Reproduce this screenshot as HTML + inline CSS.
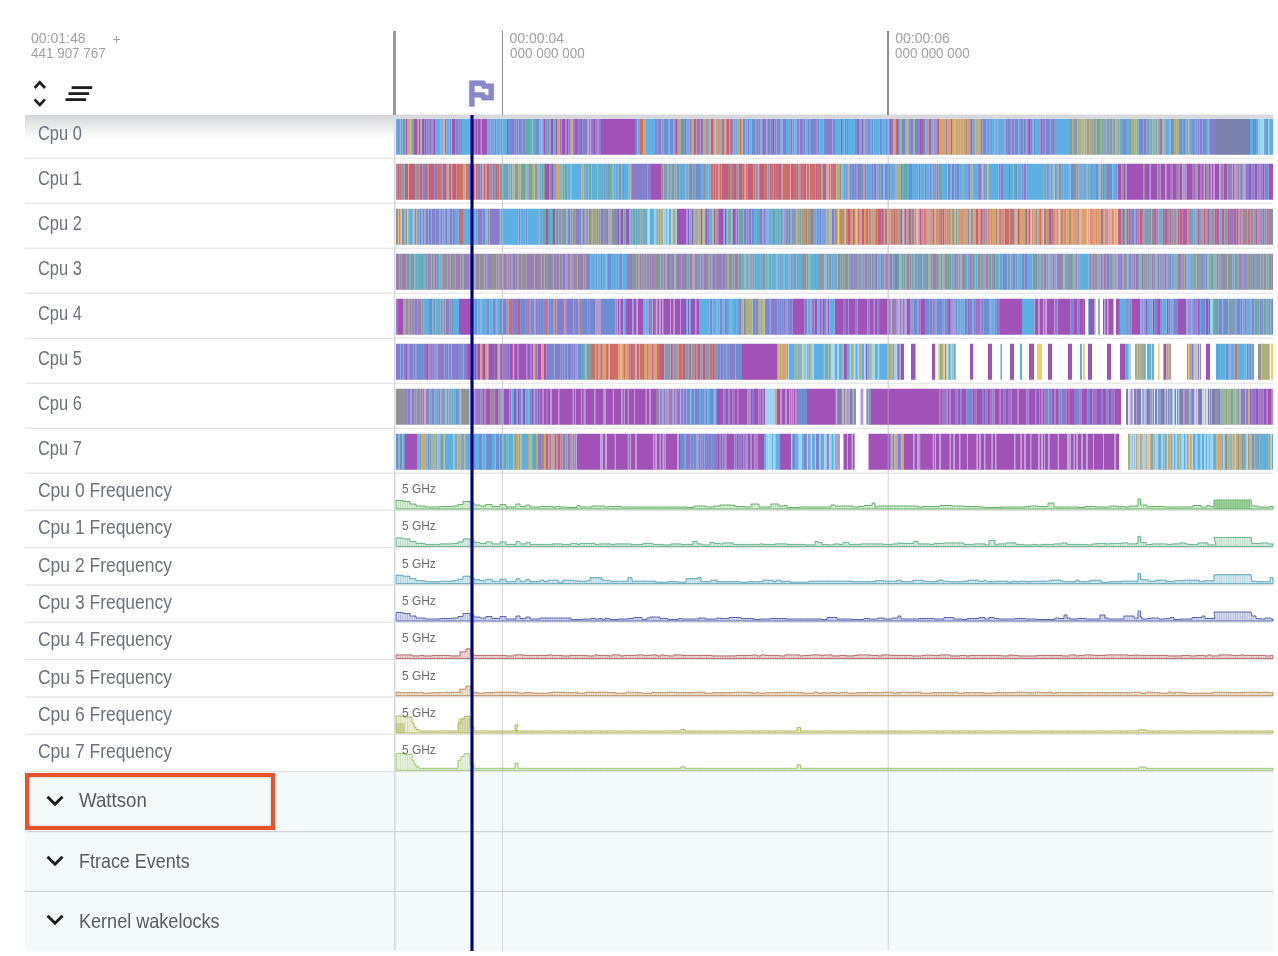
<!DOCTYPE html><html><head><meta charset="utf-8"><title>Perfetto</title><style>
*{margin:0;padding:0;box-sizing:border-box}
html,body{width:1278px;height:956px;overflow:hidden;background:#fff}
body{position:relative;font-family:"Liberation Sans",Arial,sans-serif}
.a{position:absolute}
.t{position:absolute;white-space:nowrap;line-height:1;transform-origin:0 0}
.hd{color:#a0a0a0;font-size:14px}
.tn{color:#6b727d;font-size:20.5px}
.gh{color:#6a6a6a;font-size:12.5px}
.gn{color:#555b63;font-size:21px}
.hl{position:absolute;height:1px;background:#dedede}
</style></head><body>
<div class="a" style="left:25px;top:771.5px;width:1248px;height:179.1px;background:#f4f9fa"></div>
<svg class="a" style="left:0;top:0" width="1278" height="956" viewBox="0 0 1278 956">
<rect x="502.0" y="114.5" width="1" height="836.1" fill="#d4d4d4"/>
<rect x="887.7" y="114.5" width="1" height="836.1" fill="#d4d4d4"/>
<rect x="25" y="157.7" width="1248" height="1" fill="#dedede"/>
<rect x="25" y="202.7" width="1248" height="1" fill="#dedede"/>
<rect x="25" y="247.7" width="1248" height="1" fill="#dedede"/>
<rect x="25" y="292.7" width="1248" height="1" fill="#dedede"/>
<rect x="25" y="337.7" width="1248" height="1" fill="#dedede"/>
<rect x="25" y="382.7" width="1248" height="1" fill="#dedede"/>
<rect x="25" y="427.7" width="1248" height="1" fill="#dedede"/>
<rect x="25" y="472.7" width="1248" height="1" fill="#dedede"/>
<rect x="25" y="509.8" width="1248" height="1" fill="#dedede"/>
<rect x="25" y="547.2" width="1248" height="1" fill="#dedede"/>
<rect x="25" y="584.5" width="1248" height="1" fill="#dedede"/>
<rect x="25" y="621.8" width="1248" height="1" fill="#dedede"/>
<rect x="25" y="659.1" width="1248" height="1" fill="#dedede"/>
<rect x="25" y="696.5" width="1248" height="1" fill="#dedede"/>
<rect x="25" y="733.8" width="1248" height="1" fill="#dedede"/>
<rect x="25" y="771.1" width="1248" height="1" fill="#dedede"/>
<rect x="25" y="831.2" width="1248" height="1" fill="#c9cccf"/>
<rect x="25" y="890.9" width="1248" height="1" fill="#c9cccf"/>
<defs><filter id="bl"><feGaussianBlur stdDeviation="0.8 0.4"/></filter></defs><g>
<path fill="#5cb0e2" d="M396 118.8h2v36h-2zM399 118.8h1.5v36h-1.5zM410.7 118.8h1v36h-1zM435 118.8h1.5v36h-1.5zM436.5 118.8h2v36h-2zM438.5 118.8h2v36h-2zM441.3 118.8h1v36h-1zM446.6 118.8h1.5v36h-1.5zM448.1 118.8h1.5v36h-1.5zM462 118.8h9v36h-9zM480.8 118.8h1v36h-1zM487.5 118.8h3v36h-3zM491 118.8h2.5v36h-2.5zM493.5 118.8h0.8v36h-0.8zM496.3 118.8h0.8v36h-0.8zM497.1 118.8h1v36h-1zM498.1 118.8h1.2v36h-1.2zM499.3 118.8h1.2v36h-1.2zM502 118.8h3v36h-3zM505.8 118.8h1.2v36h-1.2zM530 118.8h2.5v36h-2.5zM533 118.8h1v36h-1zM539.5 118.8h2v36h-2zM549 118.8h1.5v36h-1.5zM553 118.8h2.5v36h-2.5zM637.5 118.8h2.5v36h-2.5zM646 118.8h9v36h-9zM668.1 118.8h1.5v36h-1.5zM684 118.8h1v36h-1zM686.5 118.8h3v36h-3zM706.7 118.8h3v36h-3zM735.3 118.8h2.5v36h-2.5zM745.5 118.8h2v36h-2zM749.5 118.8h2v36h-2zM760.3 118.8h1.5v36h-1.5zM766.5 118.8h1.5v36h-1.5zM781.3 118.8h1.5v36h-1.5zM786 118.8h3v36h-3zM789 118.8h1.2v36h-1.2zM792.2 118.8h2.5v36h-2.5zM795.7 118.8h0.8v36h-0.8zM805.3 118.8h2v36h-2zM809.8 118.8h1.2v36h-1.2zM819.3 118.8h2v36h-2zM821.3 118.8h2.5v36h-2.5zM835 118.8h0.8v36h-0.8zM835.8 118.8h2.5v36h-2.5zM838.3 118.8h2.5v36h-2.5zM842 118.8h0.8v36h-0.8zM842.8 118.8h2v36h-2zM846 118.8h1v36h-1zM848 118.8h3v36h-3zM851 118.8h3v36h-3zM854 118.8h1v36h-1zM859.5 118.8h2v36h-2zM864.3 118.8h1.5v36h-1.5zM865.8 118.8h1v36h-1zM866.8 118.8h1.5v36h-1.5zM869.8 118.8h1.5v36h-1.5zM873.3 118.8h2.5v36h-2.5zM875.8 118.8h2v36h-2zM877.8 118.8h2v36h-2zM882.3 118.8h1.5v36h-1.5zM883.8 118.8h2v36h-2zM887.8 118.8h1.5v36h-1.5zM907.7 118.8h0.8v36h-0.8zM926.5 118.8h2v36h-2zM931.5 118.8h2v36h-2zM972.2 118.8h3v36h-3zM986.1 118.8h2v36h-2zM989.1 118.8h2v36h-2zM992.1 118.8h2.5v36h-2.5zM995.4 118.8h2v36h-2zM999.9 118.8h3v36h-3zM1002.9 118.8h1.5v36h-1.5zM1018.6 118.8h1.5v36h-1.5zM1026.6 118.8h1.5v36h-1.5zM1032.1 118.8h1.5v36h-1.5zM1035.9 118.8h1v36h-1zM1036.9 118.8h1.5v36h-1.5zM1038.4 118.8h2v36h-2zM1049.9 118.8h1v36h-1zM1055 118.8h15v36h-15zM1083.5 118.8h0.8v36h-0.8zM1116.4 118.8h1.2v36h-1.2zM1120 118.8h2v36h-2zM1126 118.8h3v36h-3zM1133 118.8h1.2v36h-1.2zM1136.7 118.8h2v36h-2zM1149.7 118.8h3v36h-3zM1155.2 118.8h2v36h-2zM1164.7 118.8h1v36h-1zM1166.9 118.8h1v36h-1zM1167.9 118.8h1.5v36h-1.5zM1175.1 118.8h1v36h-1zM1182.1 118.8h1v36h-1zM1186.3 118.8h2v36h-2zM1189.1 118.8h1.5v36h-1.5zM1190.6 118.8h1.5v36h-1.5zM1194.1 118.8h2v36h-2zM1199.1 118.8h0.8v36h-0.8zM1206.1 118.8h2.5v36h-2.5zM1250 118.8h1.2v36h-1.2zM1251.2 118.8h1v36h-1zM1252.2 118.8h0.8v36h-0.8zM1256 118.8h2v36h-2zM1259.2 118.8h1v36h-1zM1263.6 118.8h1v36h-1zM1264.6 118.8h1.5v36h-1.5zM1269.1 118.8h1.5v36h-1.5zM1270.6 118.8h1v36h-1zM1271.6 118.8h1.4v36h-1.4z"/>
<path fill="#6c8fd4" d="M398 118.8h1v36h-1zM402.5 118.8h2.5v36h-2.5zM440.5 118.8h0.8v36h-0.8zM442.3 118.8h1v36h-1zM444.8 118.8h0.8v36h-0.8zM445.6 118.8h1v36h-1zM449.6 118.8h2v36h-2zM455.2 118.8h2v36h-2zM460.2 118.8h1.8v36h-1.8zM494.3 118.8h2v36h-2zM500.5 118.8h1.5v36h-1.5zM505 118.8h0.8v36h-0.8zM508 118.8h3v36h-3zM514.2 118.8h1.2v36h-1.2zM515.4 118.8h1v36h-1zM518.4 118.8h3v36h-3zM522.4 118.8h2v36h-2zM524.4 118.8h1v36h-1zM536 118.8h2.5v36h-2.5zM538.5 118.8h1v36h-1zM545.3 118.8h2.5v36h-2.5zM565.3 118.8h1v36h-1zM568.3 118.8h2.5v36h-2.5zM572.8 118.8h1.5v36h-1.5zM635 118.8h2.5v36h-2.5zM655 118.8h2v36h-2zM658.8 118.8h2.5v36h-2.5zM663.6 118.8h1.5v36h-1.5zM665.1 118.8h3v36h-3zM669.6 118.8h1.5v36h-1.5zM671.1 118.8h1v36h-1zM672.1 118.8h1.5v36h-1.5zM677.2 118.8h0.8v36h-0.8zM681 118.8h3v36h-3zM699 118.8h1.5v36h-1.5zM725.5 118.8h0.8v36h-0.8zM732.1 118.8h1v36h-1zM734.1 118.8h1.2v36h-1.2zM743 118.8h2.5v36h-2.5zM751.5 118.8h2v36h-2zM753.5 118.8h1v36h-1zM754.5 118.8h1v36h-1zM756.3 118.8h2v36h-2zM770.7 118.8h0.8v36h-0.8zM771.5 118.8h1.5v36h-1.5zM776.5 118.8h2v36h-2zM778.5 118.8h1v36h-1zM779.5 118.8h0.8v36h-0.8zM796.5 118.8h1.5v36h-1.5zM798 118.8h1.5v36h-1.5zM803.8 118.8h1.5v36h-1.5zM813 118.8h2v36h-2zM815 118.8h1.5v36h-1.5zM817.3 118.8h2v36h-2zM823.8 118.8h1v36h-1zM824.8 118.8h1.2v36h-1.2zM832.5 118.8h0.8v36h-0.8zM833.3 118.8h1v36h-1zM834.3 118.8h0.7v36h-0.7zM844.8 118.8h1.2v36h-1.2zM847 118.8h1v36h-1zM855 118.8h3v36h-3zM871.3 118.8h1v36h-1zM872.3 118.8h1v36h-1zM879.8 118.8h2.5v36h-2.5zM885.8 118.8h2v36h-2zM898 118.8h1.2v36h-1.2zM901.2 118.8h2v36h-2zM903.2 118.8h2.5v36h-2.5zM909.7 118.8h0.8v36h-0.8zM910.5 118.8h2.5v36h-2.5zM918 118.8h2v36h-2zM924 118.8h1.5v36h-1.5zM933.5 118.8h1v36h-1zM935.3 118.8h1v36h-1zM982.6 118.8h2v36h-2zM984.6 118.8h1.5v36h-1.5zM994.6 118.8h0.8v36h-0.8zM998.4 118.8h1.5v36h-1.5zM1005.6 118.8h1.5v36h-1.5zM1010.1 118.8h1.5v36h-1.5zM1014.6 118.8h1.5v36h-1.5zM1016.1 118.8h1v36h-1zM1017.1 118.8h1.5v36h-1.5zM1020.1 118.8h1.5v36h-1.5zM1021.6 118.8h2v36h-2zM1025.1 118.8h1.5v36h-1.5zM1030.6 118.8h1.5v36h-1.5zM1033.6 118.8h1.5v36h-1.5zM1042.4 118.8h3v36h-3zM1050.9 118.8h1.2v36h-1.2zM1054.9 118.8h0.1v36h-0.1zM1103.3 118.8h1.5v36h-1.5zM1108.1 118.8h1.5v36h-1.5zM1115.6 118.8h0.8v36h-0.8zM1124 118.8h2v36h-2zM1138.7 118.8h2v36h-2zM1140.7 118.8h3v36h-3zM1165.7 118.8h1.2v36h-1.2zM1170.6 118.8h2.5v36h-2.5zM1173.1 118.8h0.8v36h-0.8zM1179.1 118.8h3v36h-3zM1183.1 118.8h2v36h-2zM1196.1 118.8h1.5v36h-1.5zM1202.4 118.8h2.5v36h-2.5zM1204.9 118.8h1.2v36h-1.2zM1253 118.8h3v36h-3zM1266.1 118.8h2v36h-2z"/>
<path fill="#68a9a0" d="M400.5 118.8h2v36h-2zM411.7 118.8h2v36h-2zM526 118.8h2v36h-2zM528 118.8h2v36h-2zM532.5 118.8h0.5v36h-0.5zM534 118.8h2v36h-2zM547.8 118.8h1.2v36h-1.2zM1091.3 118.8h0.8v36h-0.8zM1096.6 118.8h2v36h-2zM1098.6 118.8h1.5v36h-1.5zM1101.3 118.8h2v36h-2zM1119.6 118.8h0.4v36h-0.4z"/>
<path fill="#daa263" d="M405 118.8h1v36h-1zM407.2 118.8h2v36h-2zM409.2 118.8h1.5v36h-1.5zM443.3 118.8h1.5v36h-1.5zM451.6 118.8h0.4v36h-0.4zM541.5 118.8h0.8v36h-0.8zM557.5 118.8h2v36h-2zM570.8 118.8h2v36h-2zM643 118.8h3v36h-3zM709.7 118.8h1.2v36h-1.2zM714.4 118.8h1.2v36h-1.2zM724 118.8h1.5v36h-1.5zM741.3 118.8h1.5v36h-1.5zM893 118.8h2.5v36h-2.5zM939 118.8h2.5v36h-2.5zM941.5 118.8h3v36h-3zM944.5 118.8h1.2v36h-1.2zM947.2 118.8h1.5v36h-1.5zM948.7 118.8h1.5v36h-1.5zM950.2 118.8h0.8v36h-0.8zM952.2 118.8h2.5v36h-2.5zM955.7 118.8h1.5v36h-1.5zM957.2 118.8h1v36h-1zM960.2 118.8h1.5v36h-1.5zM961.7 118.8h1.5v36h-1.5zM975.2 118.8h1.5v36h-1.5zM976.7 118.8h1.2v36h-1.2zM977.9 118.8h0.8v36h-0.8z"/>
<path fill="#a152b7" d="M406 118.8h1.2v36h-1.2zM413.7 118.8h2v36h-2zM415.7 118.8h2v36h-2zM418.5 118.8h2v36h-2zM421.7 118.8h0.3v36h-0.3zM422 118.8h1v36h-1zM423 118.8h1v36h-1zM424.8 118.8h1.5v36h-1.5zM428.8 118.8h1v36h-1zM431.3 118.8h1.2v36h-1.2zM434 118.8h1v36h-1zM452 118.8h2v36h-2zM454 118.8h1.2v36h-1.2zM457.2 118.8h1v36h-1zM471 118.8h0.8v36h-0.8zM471.8 118.8h0.8v36h-0.8zM472.6 118.8h1.2v36h-1.2zM473.8 118.8h1v36h-1zM476 118.8h1v36h-1zM477.8 118.8h3v36h-3zM481.8 118.8h1.5v36h-1.5zM483.3 118.8h1.2v36h-1.2zM484.5 118.8h3v36h-3zM490.5 118.8h0.5v36h-0.5zM507 118.8h1v36h-1zM521.4 118.8h1v36h-1zM525.4 118.8h0.6v36h-0.6zM543.3 118.8h2v36h-2zM550.5 118.8h2.5v36h-2.5zM555.5 118.8h2v36h-2zM561.5 118.8h3v36h-3zM564.5 118.8h0.8v36h-0.8zM566.3 118.8h2v36h-2zM574.3 118.8h1v36h-1zM575.3 118.8h1.7v36h-1.7zM581 118.8h1.2v36h-1.2zM593.1 118.8h2v36h-2zM597.6 118.8h1v36h-1zM601 118.8h34v36h-34zM657.8 118.8h1v36h-1zM676 118.8h1.2v36h-1.2zM755.5 118.8h0.8v36h-0.8zM762.8 118.8h1.2v36h-1.2zM773 118.8h1.5v36h-1.5zM802 118.8h0.8v36h-0.8zM816.5 118.8h0.8v36h-0.8zM840.8 118.8h1.2v36h-1.2zM858 118.8h1.5v36h-1.5zM861.5 118.8h2v36h-2zM868.3 118.8h1.5v36h-1.5zM889.3 118.8h0.7v36h-0.7zM890 118.8h1v36h-1zM920 118.8h1v36h-1zM934.5 118.8h0.8v36h-0.8zM1028.1 118.8h2.5v36h-2.5zM1040.4 118.8h2v36h-2z"/>
<path fill="#b2ae7a" d="M417.7 118.8h0.8v36h-0.8zM420.5 118.8h1.2v36h-1.2zM678 118.8h3v36h-3zM691 118.8h2.5v36h-2.5zM703 118.8h1v36h-1zM704 118.8h1.5v36h-1.5zM715.6 118.8h1.2v36h-1.2zM716.8 118.8h1.5v36h-1.5zM719.5 118.8h2.5v36h-2.5zM729.3 118.8h0.8v36h-0.8zM733.1 118.8h1v36h-1zM737.8 118.8h2v36h-2zM742.8 118.8h0.2v36h-0.2zM900.2 118.8h1v36h-1zM905.7 118.8h2v36h-2zM913 118.8h2v36h-2zM954.7 118.8h1v36h-1zM958.2 118.8h2v36h-2zM963.2 118.8h3v36h-3zM967.2 118.8h3v36h-3zM979.5 118.8h1.5v36h-1.5zM1072 118.8h1.2v36h-1.2zM1077.2 118.8h3v36h-3zM1080.2 118.8h1.5v36h-1.5zM1084.3 118.8h2.5v36h-2.5zM1131 118.8h2v36h-2zM1134.2 118.8h2.5v36h-2.5zM1152.7 118.8h2.5v36h-2.5zM1157.2 118.8h2v36h-2zM1162.2 118.8h1.5v36h-1.5zM1173.9 118.8h1.2v36h-1.2zM1176.1 118.8h3v36h-3zM1188.3 118.8h0.8v36h-0.8z"/>
<path fill="#8a7ccc" d="M424 118.8h0.8v36h-0.8zM426.3 118.8h2.5v36h-2.5zM429.8 118.8h1.5v36h-1.5zM432.5 118.8h1.5v36h-1.5zM458.2 118.8h2v36h-2zM474.8 118.8h1.2v36h-1.2zM477 118.8h0.8v36h-0.8zM511 118.8h2v36h-2zM513 118.8h1.2v36h-1.2zM516.4 118.8h2v36h-2zM542.3 118.8h1v36h-1zM559.5 118.8h2v36h-2zM577 118.8h1.2v36h-1.2zM578.2 118.8h0.8v36h-0.8zM579 118.8h2v36h-2zM582.2 118.8h1v36h-1zM583.2 118.8h2.5v36h-2.5zM585.7 118.8h2v36h-2zM588.5 118.8h1.5v36h-1.5zM590.8 118.8h1.5v36h-1.5zM592.3 118.8h0.8v36h-0.8zM595.1 118.8h1v36h-1zM596.1 118.8h1.5v36h-1.5zM598.6 118.8h1.5v36h-1.5zM600.1 118.8h0.9v36h-0.9zM662.1 118.8h1.5v36h-1.5zM673.6 118.8h1.2v36h-1.2zM689.5 118.8h1.5v36h-1.5zM696.5 118.8h1.5v36h-1.5zM698 118.8h1v36h-1zM702 118.8h1v36h-1zM713.4 118.8h1v36h-1zM722 118.8h2v36h-2zM747.5 118.8h2v36h-2zM758.3 118.8h2v36h-2zM761.8 118.8h1v36h-1zM764 118.8h2.5v36h-2.5zM768 118.8h1.2v36h-1.2zM769.2 118.8h1.5v36h-1.5zM774.5 118.8h2v36h-2zM780.3 118.8h1v36h-1zM782.8 118.8h1.2v36h-1.2zM784 118.8h2v36h-2zM790.2 118.8h2v36h-2zM794.7 118.8h1v36h-1zM799.5 118.8h2.5v36h-2.5zM802.8 118.8h1v36h-1zM807.3 118.8h2.5v36h-2.5zM811 118.8h2v36h-2zM826 118.8h2v36h-2zM828 118.8h2.5v36h-2.5zM830.5 118.8h2v36h-2zM891 118.8h2v36h-2zM899.2 118.8h1v36h-1zM915 118.8h3v36h-3zM923 118.8h1v36h-1zM925.5 118.8h1v36h-1zM936.3 118.8h1.7v36h-1.7zM945.7 118.8h1.5v36h-1.5zM978.7 118.8h0.8v36h-0.8zM981 118.8h0.8v36h-0.8zM981.8 118.8h0.8v36h-0.8zM988.1 118.8h1v36h-1zM991.1 118.8h1v36h-1zM997.4 118.8h1v36h-1zM1004.4 118.8h1.2v36h-1.2zM1007.1 118.8h3v36h-3zM1011.6 118.8h3v36h-3zM1023.6 118.8h1.5v36h-1.5zM1035.1 118.8h0.8v36h-0.8zM1045.4 118.8h1.5v36h-1.5zM1046.9 118.8h1v36h-1zM1047.9 118.8h2v36h-2zM1052.1 118.8h0.8v36h-0.8zM1052.9 118.8h2v36h-2zM1143.7 118.8h2.5v36h-2.5zM1159.2 118.8h3v36h-3zM1192.1 118.8h2v36h-2zM1197.6 118.8h1.5v36h-1.5zM1199.9 118.8h2.5v36h-2.5zM1210 118.8h6v36h-6z"/>
<path fill="#b49ad4" d="M587.7 118.8h0.8v36h-0.8zM590 118.8h0.8v36h-0.8z"/>
<path fill="#cd6f69" d="M640 118.8h3v36h-3zM863.5 118.8h0.8v36h-0.8z"/>
<path fill="#929292" d="M657 118.8h0.8v36h-0.8zM661.3 118.8h0.8v36h-0.8zM674.8 118.8h1.2v36h-1.2z"/>
<path fill="#c0607e" d="M685 118.8h1.5v36h-1.5zM693.5 118.8h3v36h-3zM700.5 118.8h1.5v36h-1.5zM705.5 118.8h1.2v36h-1.2zM710.9 118.8h2.5v36h-2.5zM718.3 118.8h1.2v36h-1.2zM726.3 118.8h2v36h-2zM728.3 118.8h1v36h-1zM730.1 118.8h2v36h-2zM739.8 118.8h1.5v36h-1.5zM895.5 118.8h2.5v36h-2.5zM908.5 118.8h1.2v36h-1.2zM921 118.8h2v36h-2zM928.5 118.8h3v36h-3zM938 118.8h1v36h-1zM951 118.8h1.2v36h-1.2zM966.2 118.8h1v36h-1zM970.2 118.8h2v36h-2z"/>
<path fill="#7f9cb4" d="M1070 118.8h2v36h-2zM1073.2 118.8h2.5v36h-2.5zM1075.7 118.8h1.5v36h-1.5zM1081.7 118.8h1v36h-1zM1089.3 118.8h0.8v36h-0.8zM1092.1 118.8h1v36h-1zM1095.1 118.8h1.5v36h-1.5zM1106.6 118.8h1.5v36h-1.5zM1109.6 118.8h3v36h-3zM1122 118.8h1v36h-1zM1123 118.8h1v36h-1zM1129 118.8h2v36h-2zM1146.2 118.8h2v36h-2zM1148.2 118.8h1.5v36h-1.5zM1163.7 118.8h1v36h-1zM1169.4 118.8h1.2v36h-1.2zM1185.1 118.8h1.2v36h-1.2zM1208.6 118.8h1.4v36h-1.4z"/>
<path fill="#a0a07c" d="M1082.7 118.8h0.8v36h-0.8zM1086.8 118.8h2.5v36h-2.5zM1090.1 118.8h1.2v36h-1.2zM1093.1 118.8h2v36h-2zM1100.1 118.8h1.2v36h-1.2zM1104.8 118.8h1v36h-1zM1105.8 118.8h0.8v36h-0.8zM1112.6 118.8h3v36h-3zM1117.6 118.8h2v36h-2z"/>
<path fill="#7a80ac" d="M1216 118.8h34v36h-34z"/>
<path fill="#9fd4f0" d="M1258 118.8h1.2v36h-1.2zM1260.2 118.8h1v36h-1zM1261.2 118.8h1.2v36h-1.2zM1262.4 118.8h1.2v36h-1.2zM1268.1 118.8h1v36h-1z"/>
<path fill="#c0607e" d="M396 163.8h0.8v36h-0.8zM397.8 163.8h2v36h-2zM404.8 163.8h2v36h-2zM406.8 163.8h1.2v36h-1.2zM408.8 163.8h3v36h-3zM411.8 163.8h2.5v36h-2.5zM414.3 163.8h0.8v36h-0.8zM417.1 163.8h1v36h-1zM419.6 163.8h3v36h-3zM425.1 163.8h2v36h-2zM428.6 163.8h1v36h-1zM429.6 163.8h3v36h-3zM432.6 163.8h1.5v36h-1.5zM435.1 163.8h2v36h-2zM440.1 163.8h1v36h-1zM442.6 163.8h1.2v36h-1.2zM443.8 163.8h3v36h-3zM449.1 163.8h2v36h-2zM452.1 163.8h1.5v36h-1.5zM453.6 163.8h1v36h-1zM454.6 163.8h2v36h-2zM459.1 163.8h1v36h-1zM469.1 163.8h1.5v36h-1.5zM470.6 163.8h0.4v36h-0.4zM471.8 163.8h1.5v36h-1.5zM473.3 163.8h1.5v36h-1.5zM480.5 163.8h2v36h-2zM483.3 163.8h2v36h-2zM486.5 163.8h2.5v36h-2.5zM489.8 163.8h1v36h-1zM496 163.8h1v36h-1zM713.5 163.8h2v36h-2zM721.7 163.8h3v36h-3zM724.7 163.8h2.5v36h-2.5zM727.2 163.8h0.8v36h-0.8zM734 163.8h0.8v36h-0.8zM734.8 163.8h2v36h-2zM738.8 163.8h1v36h-1zM739.8 163.8h1.5v36h-1.5zM741.3 163.8h1.5v36h-1.5zM747.8 163.8h3v36h-3zM750.8 163.8h0.8v36h-0.8zM751.6 163.8h2v36h-2zM759.1 163.8h1v36h-1zM760.1 163.8h3v36h-3zM763.1 163.8h1v36h-1zM769.6 163.8h1.5v36h-1.5zM773.6 163.8h1.5v36h-1.5zM778.1 163.8h1v36h-1zM779.1 163.8h2.5v36h-2.5zM790.9 163.8h3v36h-3zM796.9 163.8h1.5v36h-1.5zM799.9 163.8h0.8v36h-0.8zM803.2 163.8h3v36h-3zM809.8 163.8h2v36h-2zM815.8 163.8h2v36h-2zM822.8 163.8h2v36h-2zM824.8 163.8h0.8v36h-0.8zM825.6 163.8h1v36h-1zM832 163.8h0.8v36h-0.8z"/>
<path fill="#6c8fd4" d="M396.8 163.8h1v36h-1zM422.6 163.8h2.5v36h-2.5zM434.1 163.8h1v36h-1zM441.1 163.8h1.5v36h-1.5zM467.1 163.8h2v36h-2zM478 163.8h2.5v36h-2.5zM618.5 163.8h1.5v36h-1.5zM642 163.8h2v36h-2zM647.2 163.8h0.8v36h-0.8zM689.1 163.8h3v36h-3zM692.9 163.8h1v36h-1zM695.9 163.8h2v36h-2zM697.9 163.8h3v36h-3zM708.6 163.8h1.2v36h-1.2zM835 163.8h1.2v36h-1.2zM842.7 163.8h1v36h-1zM847.7 163.8h0.8v36h-0.8zM850 163.8h1v36h-1zM851.8 163.8h3v36h-3zM860 163.8h1v36h-1zM863.3 163.8h1.2v36h-1.2zM880.3 163.8h3v36h-3zM884.5 163.8h2.5v36h-2.5zM887 163.8h2v36h-2zM901 163.8h1v36h-1zM909 163.8h3v36h-3zM924.8 163.8h2v36h-2zM929.8 163.8h1.5v36h-1.5zM947.6 163.8h2.5v36h-2.5zM956.1 163.8h3v36h-3zM998.7 163.8h2v36h-2zM1016 163.8h1.2v36h-1.2zM1056.2 163.8h1.5v36h-1.5zM1061.7 163.8h1.2v36h-1.2zM1070.5 163.8h2.5v36h-2.5zM1079.3 163.8h1.5v36h-1.5zM1082.3 163.8h1.5v36h-1.5zM1089.3 163.8h1.5v36h-1.5zM1096 163.8h1v36h-1zM1097 163.8h1.5v36h-1.5zM1102.5 163.8h1.5v36h-1.5zM1107 163.8h2.5v36h-2.5zM1109.5 163.8h3v36h-3zM1116 163.8h1.5v36h-1.5zM1242.2 163.8h1.5v36h-1.5zM1251.5 163.8h2v36h-2zM1253.5 163.8h1v36h-1zM1264.3 163.8h2.5v36h-2.5zM1266.8 163.8h2v36h-2z"/>
<path fill="#cd6f69" d="M399.8 163.8h2v36h-2zM418.1 163.8h1.5v36h-1.5zM427.1 163.8h1.5v36h-1.5zM437.1 163.8h3v36h-3zM456.6 163.8h2.5v36h-2.5zM460.1 163.8h3v36h-3zM465.6 163.8h1.5v36h-1.5zM475.8 163.8h1.2v36h-1.2zM489 163.8h0.8v36h-0.8zM492.8 163.8h1.2v36h-1.2zM498 163.8h1.5v36h-1.5zM711 163.8h2.5v36h-2.5zM715.5 163.8h2.5v36h-2.5zM719.2 163.8h2.5v36h-2.5zM728 163.8h2v36h-2zM732 163.8h2v36h-2zM742.8 163.8h1v36h-1zM743.8 163.8h1v36h-1zM745.8 163.8h2v36h-2zM753.6 163.8h2v36h-2zM764.1 163.8h1v36h-1zM765.1 163.8h2.5v36h-2.5zM771.1 163.8h2.5v36h-2.5zM775.1 163.8h3v36h-3zM782.4 163.8h3v36h-3zM785.4 163.8h2v36h-2zM787.4 163.8h1.5v36h-1.5zM788.9 163.8h1.2v36h-1.2zM793.9 163.8h1.5v36h-1.5zM795.4 163.8h1.5v36h-1.5zM800.7 163.8h2.5v36h-2.5zM807 163.8h2v36h-2zM811.8 163.8h2v36h-2zM813.8 163.8h2v36h-2zM817.8 163.8h2v36h-2zM819.8 163.8h1.5v36h-1.5zM828.8 163.8h1.2v36h-1.2zM830.8 163.8h1.2v36h-1.2zM832.8 163.8h2.2v36h-2.2z"/>
<path fill="#7f9cb4" d="M401.8 163.8h3v36h-3zM415.1 163.8h2v36h-2zM448.3 163.8h0.8v36h-0.8zM477 163.8h1v36h-1zM490.8 163.8h2v36h-2zM494 163.8h2v36h-2zM505 163.8h2v36h-2zM510.5 163.8h2v36h-2zM514.5 163.8h1.2v36h-1.2zM515.7 163.8h2.5v36h-2.5zM525.2 163.8h1.5v36h-1.5zM528.2 163.8h0.8v36h-0.8zM534.5 163.8h1.5v36h-1.5zM537.5 163.8h1v36h-1zM562.7 163.8h2v36h-2zM570.7 163.8h0.8v36h-0.8zM585.2 163.8h0.8v36h-0.8zM587 163.8h1.5v36h-1.5zM603.9 163.8h2v36h-2zM610.1 163.8h1v36h-1zM612.6 163.8h1v36h-1zM663.5 163.8h3v36h-3zM666.5 163.8h1v36h-1zM668.7 163.8h1.5v36h-1.5zM679.2 163.8h0.8v36h-0.8zM681 163.8h1v36h-1zM688.3 163.8h0.8v36h-0.8zM693.9 163.8h2v36h-2zM705.1 163.8h1v36h-1zM730 163.8h2v36h-2zM736.8 163.8h1v36h-1zM737.8 163.8h1v36h-1zM755.6 163.8h2.5v36h-2.5zM767.6 163.8h2v36h-2zM781.6 163.8h0.8v36h-0.8zM798.4 163.8h1.5v36h-1.5zM821.3 163.8h1.5v36h-1.5z"/>
<path fill="#daa263" d="M408 163.8h0.8v36h-0.8zM446.8 163.8h1.5v36h-1.5zM451.1 163.8h1v36h-1zM463.1 163.8h2.5v36h-2.5zM556 163.8h3v36h-3zM559 163.8h1.2v36h-1.2zM581.7 163.8h2v36h-2zM615 163.8h1v36h-1zM628.8 163.8h2v36h-2z"/>
<path fill="#e0a0a0" d="M471 163.8h0.8v36h-0.8zM474.8 163.8h1v36h-1zM482.5 163.8h0.8v36h-0.8zM718 163.8h1.2v36h-1.2zM744.8 163.8h1v36h-1zM758.1 163.8h1v36h-1zM790.1 163.8h0.8v36h-0.8zM806.2 163.8h0.8v36h-0.8zM809 163.8h0.8v36h-0.8zM826.6 163.8h1v36h-1zM827.6 163.8h1.2v36h-1.2zM830 163.8h0.8v36h-0.8z"/>
<path fill="#929292" d="M485.3 163.8h1.2v36h-1.2zM497 163.8h1v36h-1zM499.5 163.8h2.5v36h-2.5zM507 163.8h1.5v36h-1.5zM536 163.8h1.5v36h-1.5zM538.5 163.8h0.8v36h-0.8zM543.8 163.8h1.2v36h-1.2zM549.2 163.8h2v36h-2zM620 163.8h1.5v36h-1.5zM623 163.8h1v36h-1zM661 163.8h2.5v36h-2.5zM667.5 163.8h1.2v36h-1.2zM671.2 163.8h2v36h-2zM673.2 163.8h1.5v36h-1.5zM676.7 163.8h2.5v36h-2.5zM685.8 163.8h1v36h-1zM692.1 163.8h0.8v36h-0.8zM700.9 163.8h1v36h-1zM703.1 163.8h2v36h-2zM709.8 163.8h1v36h-1zM837.2 163.8h0.8v36h-0.8zM840 163.8h1.5v36h-1.5zM861 163.8h0.8v36h-0.8zM861.8 163.8h1.5v36h-1.5zM866.5 163.8h1.5v36h-1.5zM878.3 163.8h2v36h-2zM1055 163.8h1.2v36h-1.2zM1058.7 163.8h3v36h-3zM1062.9 163.8h0.8v36h-0.8zM1068.9 163.8h0.8v36h-0.8zM1073 163.8h0.8v36h-0.8zM1073.8 163.8h3v36h-3zM1078.3 163.8h1v36h-1zM1086.3 163.8h1v36h-1zM1090.8 163.8h1.2v36h-1.2zM1098.5 163.8h1v36h-1zM1100.5 163.8h2v36h-2zM1106 163.8h1v36h-1zM1121.3 163.8h2v36h-2zM1143.5 163.8h1.5v36h-1.5zM1176.8 163.8h3v36h-3zM1185.1 163.8h1.5v36h-1.5zM1206.1 163.8h2.5v36h-2.5zM1222 163.8h1.5v36h-1.5zM1239.4 163.8h1.5v36h-1.5z"/>
<path fill="#5cb0e2" d="M502 163.8h2v36h-2zM508.5 163.8h2v36h-2zM539.3 163.8h2.5v36h-2.5zM553 163.8h3v36h-3zM561.7 163.8h1v36h-1zM567.7 163.8h1v36h-1zM568.7 163.8h2v36h-2zM571.5 163.8h1v36h-1zM572.5 163.8h1.2v36h-1.2zM573.7 163.8h1.5v36h-1.5zM575.2 163.8h1v36h-1zM576.2 163.8h1.5v36h-1.5zM577.7 163.8h1.5v36h-1.5zM579.2 163.8h2.5v36h-2.5zM583.7 163.8h1.5v36h-1.5zM586 163.8h1v36h-1zM591.5 163.8h2.5v36h-2.5zM594 163.8h1.2v36h-1.2zM595.2 163.8h2.5v36h-2.5zM598.9 163.8h3v36h-3zM601.9 163.8h2v36h-2zM605.9 163.8h1.2v36h-1.2zM613.6 163.8h1.4v36h-1.4zM616 163.8h2.5v36h-2.5zM621.5 163.8h1.5v36h-1.5zM624 163.8h2v36h-2zM626 163.8h0.8v36h-0.8zM626.8 163.8h2v36h-2zM630.8 163.8h1v36h-1zM631.8 163.8h0.2v36h-0.2zM670.2 163.8h1v36h-1zM674.7 163.8h2v36h-2zM680 163.8h1v36h-1zM682 163.8h0.8v36h-0.8zM682.8 163.8h3v36h-3zM686.8 163.8h1.5v36h-1.5zM701.9 163.8h1.2v36h-1.2zM706.1 163.8h1v36h-1zM707.1 163.8h1.5v36h-1.5zM710.8 163.8h0.2v36h-0.2zM841.5 163.8h1.2v36h-1.2zM843.7 163.8h2.5v36h-2.5zM856.8 163.8h1.2v36h-1.2zM868 163.8h2.5v36h-2.5zM870.5 163.8h1.5v36h-1.5zM873 163.8h0.8v36h-0.8zM876.3 163.8h2v36h-2zM883.3 163.8h1.2v36h-1.2zM890.2 163.8h0.8v36h-0.8zM891 163.8h2.5v36h-2.5zM893.5 163.8h0.8v36h-0.8zM895.3 163.8h1.5v36h-1.5zM902 163.8h1v36h-1zM903 163.8h1v36h-1zM907 163.8h2v36h-2zM912 163.8h1.2v36h-1.2zM913.2 163.8h1v36h-1zM914.2 163.8h1.5v36h-1.5zM915.7 163.8h3v36h-3zM920.2 163.8h3v36h-3zM924 163.8h0.8v36h-0.8zM926.8 163.8h2v36h-2zM928.8 163.8h1v36h-1zM932.3 163.8h0.8v36h-0.8zM942.1 163.8h1v36h-1zM943.1 163.8h1.5v36h-1.5zM944.6 163.8h3v36h-3zM950.1 163.8h1.5v36h-1.5zM954.1 163.8h0.8v36h-0.8zM959.1 163.8h2v36h-2zM963.6 163.8h2.5v36h-2.5zM966.1 163.8h2v36h-2zM972.3 163.8h3v36h-3zM975.3 163.8h0.8v36h-0.8zM976.1 163.8h2v36h-2zM981.1 163.8h1.5v36h-1.5zM984.9 163.8h2.5v36h-2.5zM988.9 163.8h3v36h-3zM991.9 163.8h1.5v36h-1.5zM993.4 163.8h2v36h-2zM995.4 163.8h0.8v36h-0.8zM996.2 163.8h2.5v36h-2.5zM1003 163.8h2v36h-2zM1005 163.8h1v36h-1zM1006 163.8h3v36h-3zM1010 163.8h1v36h-1zM1011 163.8h2.5v36h-2.5zM1017.2 163.8h1.5v36h-1.5zM1018.7 163.8h1.5v36h-1.5zM1020.2 163.8h1.2v36h-1.2zM1022.9 163.8h1v36h-1zM1026.4 163.8h3v36h-3zM1029.4 163.8h1.5v36h-1.5zM1030.9 163.8h3v36h-3zM1033.9 163.8h1.5v36h-1.5zM1035.4 163.8h3v36h-3zM1038.4 163.8h1.5v36h-1.5zM1039.9 163.8h2.5v36h-2.5zM1042.4 163.8h1.5v36h-1.5zM1044.9 163.8h1.5v36h-1.5zM1047.9 163.8h1.5v36h-1.5zM1052.2 163.8h1v36h-1zM1054.4 163.8h0.6v36h-0.6zM1057.7 163.8h1v36h-1zM1063.7 163.8h1.5v36h-1.5zM1065.2 163.8h2.5v36h-2.5zM1067.7 163.8h1.2v36h-1.2zM1069.7 163.8h0.8v36h-0.8zM1076.8 163.8h1.5v36h-1.5zM1080.8 163.8h1.5v36h-1.5zM1083.8 163.8h2.5v36h-2.5zM1087.3 163.8h2v36h-2zM1092 163.8h3v36h-3zM1095 163.8h1v36h-1zM1099.5 163.8h1v36h-1zM1104 163.8h2v36h-2zM1112.5 163.8h1.2v36h-1.2zM1113.7 163.8h1.5v36h-1.5zM1115.2 163.8h0.8v36h-0.8zM1117.5 163.8h0.5v36h-0.5z"/>
<path fill="#68a9a0" d="M504 163.8h1v36h-1zM520.7 163.8h2v36h-2zM522.7 163.8h2.5v36h-2.5zM529 163.8h3v36h-3zM541.8 163.8h2v36h-2zM560.2 163.8h1.5v36h-1.5zM564.7 163.8h3v36h-3zM588.5 163.8h3v36h-3zM597.7 163.8h1.2v36h-1.2zM607.1 163.8h3v36h-3zM611.1 163.8h1.5v36h-1.5zM904 163.8h3v36h-3zM934.6 163.8h2v36h-2zM938.6 163.8h2.5v36h-2.5zM954.9 163.8h1.2v36h-1.2zM961.1 163.8h1.5v36h-1.5zM1013.5 163.8h2.5v36h-2.5zM1043.9 163.8h1v36h-1zM1050.4 163.8h0.8v36h-0.8z"/>
<path fill="#b2ae7a" d="M512.5 163.8h1v36h-1zM513.5 163.8h1v36h-1zM518.2 163.8h2.5v36h-2.5zM526.7 163.8h1.5v36h-1.5zM532 163.8h2.5v36h-2.5zM836.2 163.8h1v36h-1zM838 163.8h2v36h-2zM848.5 163.8h1.5v36h-1.5zM896.8 163.8h1.2v36h-1.2zM898 163.8h3v36h-3zM970.3 163.8h2v36h-2zM982.6 163.8h0.8v36h-0.8zM987.4 163.8h1.5v36h-1.5zM1053.2 163.8h1.2v36h-1.2z"/>
<path fill="#a152b7" d="M545 163.8h3v36h-3zM548 163.8h1.2v36h-1.2zM551.2 163.8h1.8v36h-1.8zM651 163.8h10v36h-10zM1118 163.8h2.5v36h-2.5zM1120.5 163.8h0.8v36h-0.8zM1123.3 163.8h1v36h-1zM1124.3 163.8h1.5v36h-1.5zM1127 163.8h1v36h-1zM1128 163.8h2v36h-2zM1130 163.8h1v36h-1zM1131 163.8h2v36h-2zM1133 163.8h2v36h-2zM1135 163.8h2.5v36h-2.5zM1137.5 163.8h1v36h-1zM1138.5 163.8h2v36h-2zM1140.5 163.8h3v36h-3zM1145 163.8h2v36h-2zM1147 163.8h0.8v36h-0.8zM1147.8 163.8h2v36h-2zM1151 163.8h1.5v36h-1.5zM1152.5 163.8h1.5v36h-1.5zM1154 163.8h2.5v36h-2.5zM1156.5 163.8h1v36h-1zM1160.5 163.8h3v36h-3zM1163.5 163.8h2v36h-2zM1166.3 163.8h1.5v36h-1.5zM1167.8 163.8h3v36h-3zM1172.3 163.8h1v36h-1zM1173.3 163.8h1.5v36h-1.5zM1174.8 163.8h2v36h-2zM1179.8 163.8h2.5v36h-2.5zM1186.6 163.8h2.5v36h-2.5zM1189.1 163.8h2.5v36h-2.5zM1191.6 163.8h1.2v36h-1.2zM1195.3 163.8h1v36h-1zM1197.8 163.8h3v36h-3zM1201.8 163.8h2v36h-2zM1204.6 163.8h1.5v36h-1.5zM1208.6 163.8h1.2v36h-1.2zM1209.8 163.8h1v36h-1zM1211.6 163.8h2v36h-2zM1214.4 163.8h1.5v36h-1.5zM1215.9 163.8h0.8v36h-0.8zM1216.7 163.8h1.5v36h-1.5zM1218.2 163.8h1v36h-1zM1223.5 163.8h1v36h-1zM1224.5 163.8h3v36h-3zM1232.8 163.8h1v36h-1zM1233.8 163.8h0.8v36h-0.8zM1236.4 163.8h1v36h-1zM1240.9 163.8h0.1v36h-0.1zM1244.7 163.8h0.8v36h-0.8zM1249 163.8h2.5v36h-2.5zM1254.5 163.8h3v36h-3zM1259.5 163.8h0.8v36h-0.8zM1262.3 163.8h2v36h-2zM1268.8 163.8h2v36h-2zM1270.8 163.8h2.2v36h-2.2z"/>
<path fill="#8a7ccc" d="M632 163.8h3v36h-3zM635 163.8h2v36h-2zM637 163.8h2v36h-2zM639 163.8h3v36h-3zM644 163.8h2v36h-2zM646 163.8h1.2v36h-1.2zM648 163.8h2v36h-2zM650 163.8h1v36h-1zM846.2 163.8h1.5v36h-1.5zM851 163.8h0.8v36h-0.8zM854.8 163.8h2v36h-2zM858 163.8h2v36h-2zM864.5 163.8h2v36h-2zM872 163.8h1v36h-1zM873.8 163.8h2.5v36h-2.5zM889 163.8h1.2v36h-1.2zM894.3 163.8h1v36h-1zM918.7 163.8h1.5v36h-1.5zM923.2 163.8h0.8v36h-0.8zM931.3 163.8h1v36h-1zM933.1 163.8h1.5v36h-1.5zM936.6 163.8h2v36h-2zM941.1 163.8h1v36h-1zM951.6 163.8h2.5v36h-2.5zM962.6 163.8h1v36h-1zM968.1 163.8h1.2v36h-1.2zM969.3 163.8h1v36h-1zM978.1 163.8h3v36h-3zM983.4 163.8h1.5v36h-1.5zM1000.7 163.8h0.8v36h-0.8zM1001.5 163.8h1.5v36h-1.5zM1009 163.8h1v36h-1zM1021.4 163.8h1.5v36h-1.5zM1023.9 163.8h2.5v36h-2.5zM1046.4 163.8h1.5v36h-1.5zM1049.4 163.8h1v36h-1zM1051.2 163.8h1v36h-1zM1241 163.8h1.2v36h-1.2zM1245.5 163.8h1v36h-1zM1246.5 163.8h2.5v36h-2.5zM1257.5 163.8h2v36h-2zM1260.3 163.8h2v36h-2z"/>
<path fill="#b49ad4" d="M1125.8 163.8h1.2v36h-1.2zM1149.8 163.8h1.2v36h-1.2zM1165.5 163.8h0.8v36h-0.8zM1182.3 163.8h0.8v36h-0.8zM1183.9 163.8h1.2v36h-1.2zM1203.8 163.8h0.8v36h-0.8zM1210.8 163.8h0.8v36h-0.8zM1213.6 163.8h0.8v36h-0.8zM1219.2 163.8h0.8v36h-0.8zM1220 163.8h1v36h-1zM1232 163.8h0.8v36h-0.8zM1234.6 163.8h0.8v36h-0.8zM1243.7 163.8h1v36h-1z"/>
<path fill="#9a80b0" d="M1157.5 163.8h3v36h-3zM1170.8 163.8h1.5v36h-1.5zM1183.1 163.8h0.8v36h-0.8zM1192.8 163.8h2.5v36h-2.5zM1196.3 163.8h1.5v36h-1.5zM1200.8 163.8h1v36h-1zM1221 163.8h1v36h-1zM1227.5 163.8h2v36h-2zM1229.5 163.8h2.5v36h-2.5zM1235.4 163.8h1v36h-1zM1237.4 163.8h2v36h-2z"/>
<path fill="#929292" d="M396 208.8h2.5v36h-2.5zM401.5 208.8h3v36h-3zM405.5 208.8h2v36h-2zM409.1 208.8h0.8v36h-0.8zM487.5 208.8h2v36h-2zM500.5 208.8h0.5v36h-0.5zM558.5 208.8h0.8v36h-0.8zM559.3 208.8h2v36h-2zM572.5 208.8h1.5v36h-1.5zM579 208.8h1v36h-1zM588.8 208.8h3v36h-3zM596.8 208.8h1.2v36h-1.2zM603.1 208.8h3v36h-3zM611.6 208.8h3v36h-3zM614.6 208.8h0.4v36h-0.4z"/>
<path fill="#ecd070" d="M398.5 208.8h0.8v36h-0.8zM400.3 208.8h1.2v36h-1.2zM407.5 208.8h0.8v36h-0.8zM413.4 208.8h1v36h-1zM647.5 208.8h1v36h-1zM838 208.8h1.2v36h-1.2zM856.5 208.8h1v36h-1zM902.5 208.8h1v36h-1zM917.1 208.8h1v36h-1zM997.5 208.8h0.8v36h-0.8zM1030.4 208.8h1.2v36h-1.2zM1043.2 208.8h0.8v36h-0.8zM1059.2 208.8h1v36h-1zM1079.4 208.8h0.8v36h-0.8zM1086.9 208.8h1.2v36h-1.2zM1088.9 208.8h1v36h-1zM1114.2 208.8h1v36h-1zM1116.7 208.8h0.8v36h-0.8zM1117.5 208.8h0.5v36h-0.5z"/>
<path fill="#a152b7" d="M399.3 208.8h1v36h-1zM546 208.8h2v36h-2zM553 208.8h1.5v36h-1.5zM554.5 208.8h1v36h-1zM618 208.8h1.5v36h-1.5zM621 208.8h2.5v36h-2.5zM625.5 208.8h3v36h-3zM628.5 208.8h0.8v36h-0.8zM677 208.8h7v36h-7zM684 208.8h1.5v36h-1.5zM685.5 208.8h1v36h-1zM687.5 208.8h2v36h-2zM691.5 208.8h1.5v36h-1.5zM700.6 208.8h1.5v36h-1.5zM705.2 208.8h2.5v36h-2.5zM713.7 208.8h1.5v36h-1.5zM718.2 208.8h2.5v36h-2.5zM720.7 208.8h2v36h-2zM722.7 208.8h1v36h-1zM724.5 208.8h1.5v36h-1.5zM732.5 208.8h1.5v36h-1.5zM734 208.8h1v36h-1z"/>
<path fill="#5cb0e2" d="M404.5 208.8h1v36h-1zM409.9 208.8h2.5v36h-2.5zM417 208.8h2.5v36h-2.5zM421.5 208.8h1v36h-1zM435 208.8h1v36h-1zM439.5 208.8h0.8v36h-0.8zM442.5 208.8h1v36h-1zM443.5 208.8h1.2v36h-1.2zM452.1 208.8h0.8v36h-0.8zM454.9 208.8h0.8v36h-0.8zM455.7 208.8h1.5v36h-1.5zM458.7 208.8h0.3v36h-0.3zM463 208.8h8v36h-8zM473.8 208.8h1.5v36h-1.5zM486.3 208.8h1.2v36h-1.2zM499 208.8h1.5v36h-1.5zM501 208.8h2v36h-2zM503.8 208.8h1.5v36h-1.5zM505.3 208.8h1.2v36h-1.2zM506.5 208.8h1v36h-1zM507.5 208.8h3v36h-3zM510.5 208.8h1.5v36h-1.5zM512 208.8h0.8v36h-0.8zM512.8 208.8h2v36h-2zM514.8 208.8h1.5v36h-1.5zM516.3 208.8h1v36h-1zM517.3 208.8h1.2v36h-1.2zM520.5 208.8h3v36h-3zM523.5 208.8h2v36h-2zM527.5 208.8h0.8v36h-0.8zM528.3 208.8h3v36h-3zM531.3 208.8h1v36h-1zM532.3 208.8h3v36h-3zM535.3 208.8h1.2v36h-1.2zM536.5 208.8h1v36h-1zM537.5 208.8h0.8v36h-0.8zM539.3 208.8h1.7v36h-1.7zM542.2 208.8h0.8v36h-0.8zM550 208.8h2v36h-2zM630.3 208.8h2.5v36h-2.5zM637.8 208.8h2.5v36h-2.5zM641 208.8h1v36h-1zM643 208.8h1.5v36h-1.5zM644.5 208.8h3v36h-3zM649.5 208.8h0.8v36h-0.8zM650.3 208.8h3v36h-3zM653.3 208.8h1.2v36h-1.2zM655.3 208.8h1.5v36h-1.5zM658.8 208.8h1.5v36h-1.5zM664.3 208.8h1v36h-1zM666.1 208.8h1.5v36h-1.5zM668.6 208.8h2.5v36h-2.5zM675.3 208.8h0.8v36h-0.8zM689.5 208.8h2v36h-2zM698.8 208.8h1v36h-1zM703.6 208.8h0.8v36h-0.8zM709.7 208.8h2.5v36h-2.5zM723.7 208.8h0.8v36h-0.8zM726 208.8h1.5v36h-1.5zM730 208.8h1.5v36h-1.5zM754 208.8h3v36h-3zM765 208.8h1.5v36h-1.5zM768.3 208.8h3v36h-3zM775.8 208.8h1.5v36h-1.5zM779.8 208.8h1v36h-1zM783.5 208.8h0.8v36h-0.8zM791.4 208.8h0.6v36h-0.6zM813 208.8h2.5v36h-2.5zM815.5 208.8h1v36h-1zM818 208.8h1.2v36h-1.2zM821.2 208.8h3v36h-3zM825.7 208.8h1v36h-1zM834 208.8h0.8v36h-0.8zM1143.1 208.8h1v36h-1zM1159.8 208.8h3v36h-3zM1187.5 208.8h0.8v36h-0.8zM1193.2 208.8h2.5v36h-2.5zM1196.5 208.8h1.5v36h-1.5zM1205 208.8h1.2v36h-1.2zM1219.4 208.8h2v36h-2z"/>
<path fill="#68a9a0" d="M408.3 208.8h0.8v36h-0.8zM424.5 208.8h1v36h-1zM447.4 208.8h1v36h-1zM541 208.8h1.2v36h-1.2zM543 208.8h3v36h-3zM548 208.8h2v36h-2zM552 208.8h1v36h-1zM555.5 208.8h0.8v36h-0.8zM556.3 208.8h0.7v36h-0.7zM623.5 208.8h2v36h-2zM629.3 208.8h1v36h-1zM635.3 208.8h2.5v36h-2.5zM738.5 208.8h3v36h-3zM741.5 208.8h2v36h-2zM757 208.8h3v36h-3zM772.8 208.8h3v36h-3zM777.3 208.8h2.5v36h-2.5zM782.3 208.8h1.2v36h-1.2zM787.9 208.8h1v36h-1zM810 208.8h1v36h-1z"/>
<path fill="#6c8fd4" d="M412.4 208.8h1v36h-1zM414.4 208.8h2v36h-2zM422.5 208.8h2v36h-2zM428.5 208.8h3v36h-3zM436 208.8h2v36h-2zM444.7 208.8h1.2v36h-1.2zM448.4 208.8h1.2v36h-1.2zM457.2 208.8h1.5v36h-1.5zM471 208.8h2v36h-2zM482.3 208.8h3v36h-3zM503 208.8h0.8v36h-0.8zM518.5 208.8h2v36h-2zM525.5 208.8h2v36h-2zM538.3 208.8h1v36h-1zM557 208.8h1.5v36h-1.5zM567.5 208.8h3v36h-3zM580 208.8h1.5v36h-1.5zM585.8 208.8h1v36h-1zM609.4 208.8h1v36h-1zM615 208.8h3v36h-3zM686.5 208.8h1v36h-1zM695.8 208.8h1v36h-1zM707.7 208.8h2v36h-2zM735 208.8h1.5v36h-1.5zM746.5 208.8h2v36h-2zM751.5 208.8h2.5v36h-2.5zM762.5 208.8h1v36h-1zM767.5 208.8h0.8v36h-0.8zM771.3 208.8h1.5v36h-1.5zM780.8 208.8h1.5v36h-1.5zM785.3 208.8h0.8v36h-0.8zM788.9 208.8h1.5v36h-1.5z"/>
<path fill="#daa263" d="M416.4 208.8h0.6v36h-0.6zM855.5 208.8h1v36h-1zM864 208.8h2v36h-2zM873.5 208.8h1.5v36h-1.5zM934.1 208.8h1.5v36h-1.5zM946.1 208.8h1v36h-1zM969.4 208.8h1.2v36h-1.2zM973.6 208.8h2v36h-2zM992 208.8h2v36h-2zM994 208.8h1.5v36h-1.5zM1009 208.8h1v36h-1zM1020 208.8h2.5v36h-2.5zM1022.5 208.8h1.5v36h-1.5zM1034.8 208.8h1.2v36h-1.2zM1037.2 208.8h2v36h-2zM1066.2 208.8h2.5v36h-2.5zM1072.7 208.8h2.5v36h-2.5zM1081.2 208.8h3v36h-3zM1084.2 208.8h1.5v36h-1.5zM1085.7 208.8h1.2v36h-1.2zM1092.9 208.8h3v36h-3zM1097.1 208.8h1.5v36h-1.5zM1098.6 208.8h2v36h-2zM1108.6 208.8h1.5v36h-1.5zM1110.9 208.8h0.8v36h-0.8z"/>
<path fill="#8a7ccc" d="M419.5 208.8h2v36h-2zM425.5 208.8h3v36h-3zM431.5 208.8h1v36h-1zM432.5 208.8h2.5v36h-2.5zM438 208.8h1.5v36h-1.5zM440.3 208.8h1.2v36h-1.2zM441.5 208.8h1v36h-1zM445.9 208.8h1.5v36h-1.5zM449.6 208.8h2.5v36h-2.5zM452.9 208.8h2v36h-2zM477.3 208.8h2v36h-2zM479.3 208.8h3v36h-3zM489.5 208.8h1.5v36h-1.5zM491 208.8h1.5v36h-1.5zM492.5 208.8h2v36h-2zM494.5 208.8h1.5v36h-1.5zM496 208.8h2v36h-2zM498 208.8h1v36h-1zM576 208.8h3v36h-3zM582.3 208.8h2.5v36h-2.5zM600.8 208.8h0.8v36h-0.8zM601.6 208.8h1.5v36h-1.5zM606.1 208.8h2.5v36h-2.5zM736.5 208.8h2v36h-2zM743.5 208.8h3v36h-3zM748.5 208.8h1v36h-1zM749.5 208.8h2v36h-2zM760 208.8h2.5v36h-2.5zM763.5 208.8h1.5v36h-1.5zM766.5 208.8h1v36h-1zM784.3 208.8h1v36h-1zM786.1 208.8h0.8v36h-0.8zM786.9 208.8h1v36h-1zM790.4 208.8h1v36h-1zM816.5 208.8h1.5v36h-1.5zM819.2 208.8h1v36h-1zM820.2 208.8h1v36h-1zM824.2 208.8h1.5v36h-1.5zM829.7 208.8h0.8v36h-0.8zM831.5 208.8h1v36h-1zM832.5 208.8h1.5v36h-1.5zM834.8 208.8h0.2v36h-0.2zM1132 208.8h2.5v36h-2.5zM1135.3 208.8h2v36h-2zM1229.9 208.8h2v36h-2zM1231.9 208.8h2v36h-2zM1240.8 208.8h0.8v36h-0.8zM1248.9 208.8h1.5v36h-1.5zM1262.2 208.8h2.5v36h-2.5z"/>
<path fill="#cd6f69" d="M459 208.8h4v36h-4zM805.2 208.8h2v36h-2zM811 208.8h1v36h-1zM812 208.8h1v36h-1zM857.5 208.8h2v36h-2zM866 208.8h2.5v36h-2.5zM875.8 208.8h1.5v36h-1.5zM884.8 208.8h2.5v36h-2.5zM924.1 208.8h1.2v36h-1.2zM929.8 208.8h0.8v36h-0.8zM931.6 208.8h1v36h-1zM940.1 208.8h2.5v36h-2.5zM979.6 208.8h1.2v36h-1.2zM985.3 208.8h1v36h-1zM1006 208.8h3v36h-3zM1039.2 208.8h2v36h-2z"/>
<path fill="#7f9cb4" d="M473 208.8h0.8v36h-0.8zM475.3 208.8h2v36h-2zM485.3 208.8h1v36h-1zM561.3 208.8h2.5v36h-2.5zM563.8 208.8h2.5v36h-2.5zM570.5 208.8h2v36h-2zM592.6 208.8h1.5v36h-1.5zM598.8 208.8h2v36h-2zM610.4 208.8h1.2v36h-1.2zM619.5 208.8h1.5v36h-1.5zM632.8 208.8h2.5v36h-2.5zM640.3 208.8h0.7v36h-0.7zM792 208.8h3v36h-3zM796.5 208.8h1.2v36h-1.2zM799.2 208.8h2.5v36h-2.5zM871.5 208.8h1v36h-1zM900 208.8h1v36h-1zM906.3 208.8h1v36h-1zM915.1 208.8h1.2v36h-1.2zM948.6 208.8h1.5v36h-1.5zM955.6 208.8h2v36h-2zM970.6 208.8h3v36h-3zM983.8 208.8h1.5v36h-1.5zM1036 208.8h1.2v36h-1.2zM1121.5 208.8h1.5v36h-1.5zM1124 208.8h1.5v36h-1.5zM1130 208.8h2v36h-2zM1134.5 208.8h0.8v36h-0.8zM1138.8 208.8h1v36h-1zM1144.1 208.8h1.5v36h-1.5zM1145.6 208.8h3v36h-3zM1148.6 208.8h3v36h-3zM1156.6 208.8h2v36h-2zM1167.8 208.8h2v36h-2zM1173.3 208.8h3v36h-3zM1189.8 208.8h0.8v36h-0.8zM1190.6 208.8h1v36h-1zM1191.6 208.8h0.8v36h-0.8zM1192.4 208.8h0.8v36h-0.8zM1199 208.8h2.5v36h-2.5zM1202.3 208.8h1.5v36h-1.5zM1209.7 208.8h1.2v36h-1.2zM1211.9 208.8h1.5v36h-1.5zM1213.4 208.8h1v36h-1zM1224.4 208.8h1.5v36h-1.5zM1225.9 208.8h2v36h-2zM1238.4 208.8h1.2v36h-1.2zM1253.4 208.8h2.5v36h-2.5zM1257.4 208.8h1v36h-1zM1260.2 208.8h2v36h-2zM1264.7 208.8h1.5v36h-1.5zM1272 208.8h1v36h-1z"/>
<path fill="#a0a07c" d="M566.3 208.8h1.2v36h-1.2zM574 208.8h2v36h-2zM581.5 208.8h0.8v36h-0.8zM584.8 208.8h1v36h-1zM586.8 208.8h2v36h-2zM591.8 208.8h0.8v36h-0.8zM594.1 208.8h1.5v36h-1.5zM595.6 208.8h1.2v36h-1.2zM598 208.8h0.8v36h-0.8zM608.6 208.8h0.8v36h-0.8zM695 208.8h0.8v36h-0.8zM699.8 208.8h0.8v36h-0.8zM704.4 208.8h0.8v36h-0.8zM715.2 208.8h3v36h-3zM727.5 208.8h2.5v36h-2.5zM731.5 208.8h1v36h-1zM795 208.8h1.5v36h-1.5zM797.7 208.8h1.5v36h-1.5zM801.7 208.8h2v36h-2zM803.7 208.8h1.5v36h-1.5zM807.2 208.8h0.8v36h-0.8zM808 208.8h2v36h-2zM903.5 208.8h0.8v36h-0.8zM938.1 208.8h2v36h-2zM951.6 208.8h2.5v36h-2.5zM959.1 208.8h1v36h-1zM990.5 208.8h1.5v36h-1.5zM1015.5 208.8h1v36h-1z"/>
<path fill="#b2ae7a" d="M642 208.8h1v36h-1zM656.8 208.8h2v36h-2zM660.3 208.8h3v36h-3zM672.3 208.8h3v36h-3zM693 208.8h2v36h-2zM696.8 208.8h2v36h-2zM702.1 208.8h1.5v36h-1.5zM712.2 208.8h1.5v36h-1.5zM826.7 208.8h3v36h-3zM830.5 208.8h1v36h-1zM883.8 208.8h1v36h-1zM887.3 208.8h1.2v36h-1.2zM914.3 208.8h0.8v36h-0.8zM922.6 208.8h1.5v36h-1.5zM928.6 208.8h1.2v36h-1.2zM954.1 208.8h1.5v36h-1.5zM957.6 208.8h1.5v36h-1.5zM963.1 208.8h2v36h-2zM1016.5 208.8h1.5v36h-1.5zM1024 208.8h1.2v36h-1.2zM1046 208.8h1v36h-1z"/>
<path fill="#9fd4f0" d="M648.5 208.8h1v36h-1zM654.5 208.8h0.8v36h-0.8zM663.3 208.8h1v36h-1zM665.3 208.8h0.8v36h-0.8zM667.6 208.8h1v36h-1zM671.1 208.8h1.2v36h-1.2zM676.1 208.8h0.9v36h-0.9z"/>
<path fill="#b8906e" d="M835 208.8h2v36h-2zM839.2 208.8h2.5v36h-2.5zM841.7 208.8h3v36h-3zM845.5 208.8h2.5v36h-2.5zM854 208.8h1.5v36h-1.5zM868.5 208.8h3v36h-3zM890.5 208.8h3v36h-3zM895.5 208.8h1.5v36h-1.5zM937.1 208.8h1v36h-1zM1019 208.8h1v36h-1zM1033.6 208.8h1.2v36h-1.2zM1060.2 208.8h3v36h-3zM1068.7 208.8h2.5v36h-2.5zM1075.2 208.8h1.5v36h-1.5z"/>
<path fill="#e0a0a0" d="M837 208.8h1v36h-1zM844.7 208.8h0.8v36h-0.8zM860.5 208.8h1v36h-1zM916.3 208.8h0.8v36h-0.8zM1027.2 208.8h1.2v36h-1.2zM1042 208.8h1.2v36h-1.2zM1055 208.8h1.2v36h-1.2zM1058.2 208.8h1v36h-1zM1080.2 208.8h1v36h-1zM1103.6 208.8h1.2v36h-1.2zM1107.8 208.8h0.8v36h-0.8zM1110.1 208.8h0.8v36h-0.8z"/>
<path fill="#c0607e" d="M848 208.8h2v36h-2zM852.5 208.8h1.5v36h-1.5zM861.5 208.8h2.5v36h-2.5zM872.5 208.8h1v36h-1zM877.3 208.8h3v36h-3zM880.3 208.8h1.5v36h-1.5zM893.5 208.8h2v36h-2zM904.3 208.8h1v36h-1zM905.3 208.8h1v36h-1zM908.8 208.8h1v36h-1zM909.8 208.8h1.5v36h-1.5zM921.6 208.8h1v36h-1zM942.6 208.8h2v36h-2zM975.6 208.8h2.5v36h-2.5zM980.8 208.8h2v36h-2zM986.3 208.8h1.2v36h-1.2zM1004.8 208.8h1.2v36h-1.2zM1018 208.8h1v36h-1zM1025.2 208.8h2v36h-2zM1028.4 208.8h2v36h-2zM1118 208.8h1.5v36h-1.5zM1119.5 208.8h2v36h-2zM1123 208.8h1v36h-1zM1126.5 208.8h2v36h-2zM1139.8 208.8h1.5v36h-1.5zM1141.3 208.8h1v36h-1zM1153.1 208.8h1v36h-1zM1162.8 208.8h2v36h-2zM1169.8 208.8h1.5v36h-1.5zM1179.5 208.8h3v36h-3zM1188.3 208.8h1.5v36h-1.5zM1195.7 208.8h0.8v36h-0.8zM1201.5 208.8h0.8v36h-0.8zM1203.8 208.8h1.2v36h-1.2zM1214.4 208.8h2.5v36h-2.5zM1221.4 208.8h3v36h-3zM1227.9 208.8h2v36h-2zM1233.9 208.8h2.5v36h-2.5zM1241.6 208.8h0.8v36h-0.8zM1247.4 208.8h1.5v36h-1.5zM1258.4 208.8h1v36h-1z"/>
<path fill="#e08a76" d="M850 208.8h2.5v36h-2.5zM889.5 208.8h1v36h-1zM897 208.8h3v36h-3zM918.1 208.8h1.5v36h-1.5zM926.1 208.8h1.5v36h-1.5zM935.6 208.8h1.5v36h-1.5zM944.6 208.8h1.5v36h-1.5zM950.1 208.8h1.5v36h-1.5zM960.1 208.8h3v36h-3zM965.1 208.8h1.5v36h-1.5zM978.1 208.8h1.5v36h-1.5zM987.5 208.8h1.5v36h-1.5zM989 208.8h1.5v36h-1.5zM998.3 208.8h0.8v36h-0.8zM1001.1 208.8h2.5v36h-2.5zM1003.6 208.8h1.2v36h-1.2zM1014.5 208.8h1v36h-1zM1031.6 208.8h2v36h-2zM1041.2 208.8h0.8v36h-0.8zM1047 208.8h2v36h-2zM1053 208.8h2v36h-2zM1056.2 208.8h2v36h-2zM1063.2 208.8h1.5v36h-1.5zM1064.7 208.8h1.5v36h-1.5zM1071.2 208.8h1.5v36h-1.5zM1076.7 208.8h1.5v36h-1.5zM1088.1 208.8h0.8v36h-0.8zM1089.9 208.8h2v36h-2zM1091.9 208.8h1v36h-1zM1095.9 208.8h1.2v36h-1.2zM1104.8 208.8h1.5v36h-1.5zM1111.7 208.8h2.5v36h-2.5zM1115.2 208.8h1.5v36h-1.5z"/>
<path fill="#b07a7a" d="M859.5 208.8h1v36h-1zM875 208.8h0.8v36h-0.8zM927.6 208.8h1v36h-1zM930.6 208.8h1v36h-1zM932.6 208.8h1.5v36h-1.5zM966.6 208.8h0.8v36h-0.8zM995.5 208.8h2v36h-2zM1010 208.8h2.5v36h-2.5zM1012.5 208.8h2v36h-2zM1044 208.8h2v36h-2zM1078.2 208.8h1.2v36h-1.2zM1100.6 208.8h3v36h-3zM1106.3 208.8h1.5v36h-1.5z"/>
<path fill="#b0609e" d="M881.8 208.8h2v36h-2zM888.5 208.8h1v36h-1zM901 208.8h1.5v36h-1.5zM919.6 208.8h2v36h-2zM925.3 208.8h0.8v36h-0.8zM1049 208.8h2v36h-2zM1128.5 208.8h1.5v36h-1.5zM1137.3 208.8h1.5v36h-1.5zM1142.3 208.8h0.8v36h-0.8zM1154.1 208.8h2.5v36h-2.5zM1164.8 208.8h3v36h-3zM1177.5 208.8h2v36h-2zM1182.5 208.8h2.5v36h-2.5zM1185 208.8h2.5v36h-2.5zM1198 208.8h1v36h-1zM1207.2 208.8h2.5v36h-2.5zM1216.9 208.8h1.5v36h-1.5zM1218.4 208.8h1v36h-1zM1236.4 208.8h2v36h-2zM1239.6 208.8h1.2v36h-1.2zM1255.9 208.8h1.5v36h-1.5zM1259.4 208.8h0.8v36h-0.8zM1268.2 208.8h0.8v36h-0.8z"/>
<path fill="#a08890" d="M907.3 208.8h1.5v36h-1.5zM911.3 208.8h3v36h-3zM947.1 208.8h1.5v36h-1.5zM967.4 208.8h2v36h-2zM982.8 208.8h1v36h-1zM999.1 208.8h2v36h-2zM1051 208.8h2v36h-2zM1125.5 208.8h1v36h-1zM1151.6 208.8h1.5v36h-1.5zM1158.6 208.8h1.2v36h-1.2zM1171.3 208.8h2v36h-2zM1176.3 208.8h1.2v36h-1.2zM1206.2 208.8h1v36h-1zM1210.9 208.8h1v36h-1zM1242.4 208.8h3v36h-3zM1245.4 208.8h2v36h-2zM1250.4 208.8h2v36h-2zM1252.4 208.8h1v36h-1zM1266.2 208.8h2v36h-2zM1269 208.8h3v36h-3z"/>
<path fill="#9a80b0" d="M396 253.8h2v36h-2zM398 253.8h1.2v36h-1.2zM401.2 253.8h1.5v36h-1.5zM402.7 253.8h2v36h-2zM404.7 253.8h1.5v36h-1.5zM426.1 253.8h1.5v36h-1.5zM431.6 253.8h2v36h-2zM441.8 253.8h1v36h-1zM447.3 253.8h2.5v36h-2.5zM455.8 253.8h2v36h-2zM457.8 253.8h3v36h-3zM463.8 253.8h1v36h-1zM464.8 253.8h2.5v36h-2.5zM467.3 253.8h0.8v36h-0.8zM470.1 253.8h0.9v36h-0.9zM474.5 253.8h1v36h-1zM477 253.8h1v36h-1zM478 253.8h1.2v36h-1.2zM486.7 253.8h1.2v36h-1.2zM488.9 253.8h1v36h-1zM489.9 253.8h1.2v36h-1.2zM491.1 253.8h0.8v36h-0.8zM496.4 253.8h1v36h-1zM497.4 253.8h1v36h-1zM499.9 253.8h1v36h-1zM503.9 253.8h3v36h-3zM507.7 253.8h1.2v36h-1.2zM509.9 253.8h1v36h-1zM510.9 253.8h0.8v36h-0.8zM515.7 253.8h1.5v36h-1.5zM518.7 253.8h3v36h-3zM526.2 253.8h1.5v36h-1.5zM527.7 253.8h2v36h-2zM529.7 253.8h2.5v36h-2.5zM532.2 253.8h0.8v36h-0.8zM534.5 253.8h2.5v36h-2.5zM537 253.8h2v36h-2zM541.5 253.8h1.5v36h-1.5zM544.5 253.8h1.5v36h-1.5zM549 253.8h1v36h-1zM553.5 253.8h2.5v36h-2.5zM556 253.8h0.8v36h-0.8zM558 253.8h1.5v36h-1.5zM561 253.8h1.5v36h-1.5zM567.3 253.8h3v36h-3zM571.8 253.8h1v36h-1zM573.8 253.8h1.2v36h-1.2zM577.3 253.8h2.5v36h-2.5zM579.8 253.8h1v36h-1zM580.8 253.8h2.5v36h-2.5zM585.8 253.8h2.2v36h-2.2zM627 253.8h2.5v36h-2.5zM629.5 253.8h1v36h-1zM630.5 253.8h1.5v36h-1.5zM636.3 253.8h2v36h-2zM639.3 253.8h2.5v36h-2.5zM644.8 253.8h1.5v36h-1.5zM651.3 253.8h1.5v36h-1.5zM652.8 253.8h2v36h-2zM663.3 253.8h2v36h-2zM666.5 253.8h1.5v36h-1.5zM668 253.8h2v36h-2zM672 253.8h2.5v36h-2.5zM677 253.8h2v36h-2zM679 253.8h1v36h-1zM680 253.8h1.2v36h-1.2zM682 253.8h3v36h-3zM687 253.8h0.8v36h-0.8zM689.8 253.8h1.5v36h-1.5zM691.3 253.8h1v36h-1zM693.5 253.8h1v36h-1zM696 253.8h1v36h-1zM700.8 253.8h1.5v36h-1.5zM703.3 253.8h3v36h-3zM706.3 253.8h2v36h-2zM715.3 253.8h3v36h-3zM718.3 253.8h3v36h-3zM721.3 253.8h1.5v36h-1.5zM727.3 253.8h1v36h-1zM734.8 253.8h2.5v36h-2.5zM737.3 253.8h1v36h-1zM741.3 253.8h0.7v36h-0.7zM861.3 253.8h1.5v36h-1.5zM864.8 253.8h3v36h-3zM871.3 253.8h2v36h-2zM885.5 253.8h2.5v36h-2.5zM906.3 253.8h3v36h-3zM913.3 253.8h1.2v36h-1.2zM921 253.8h1.5v36h-1.5zM932.8 253.8h2.5v36h-2.5zM935.3 253.8h0.8v36h-0.8zM943.6 253.8h1v36h-1zM960.6 253.8h0.8v36h-0.8zM962.9 253.8h3v36h-3zM971.1 253.8h1v36h-1zM983.8 253.8h1v36h-1zM985.6 253.8h3v36h-3zM1032.5 253.8h1.5v36h-1.5zM1036 253.8h1.5v36h-1.5zM1043.5 253.8h3v36h-3zM1048.5 253.8h0.8v36h-0.8zM1052.3 253.8h2v36h-2zM1056.6 253.8h2v36h-2zM1058.6 253.8h2v36h-2zM1060.6 253.8h1.5v36h-1.5zM1075.4 253.8h2v36h-2zM1092.2 253.8h2v36h-2zM1098.2 253.8h1.5v36h-1.5zM1103.7 253.8h3v36h-3zM1112.2 253.8h1.2v36h-1.2zM1119.1 253.8h1v36h-1zM1122.6 253.8h1v36h-1zM1128.8 253.8h2.5v36h-2.5zM1133.6 253.8h2v36h-2zM1141.3 253.8h2.5v36h-2.5zM1149.8 253.8h1v36h-1zM1151.6 253.8h1.5v36h-1.5zM1156.6 253.8h1v36h-1zM1177.8 253.8h1v36h-1zM1178.8 253.8h3v36h-3zM1184.6 253.8h2v36h-2zM1192.2 253.8h1v36h-1zM1195.2 253.8h1.2v36h-1.2zM1201.9 253.8h2v36h-2zM1205.9 253.8h1.5v36h-1.5zM1216.7 253.8h2v36h-2zM1222.9 253.8h3v36h-3zM1238.7 253.8h2.5v36h-2.5zM1248.9 253.8h1v36h-1zM1255.1 253.8h0.8v36h-0.8zM1271.2 253.8h1v36h-1zM1272.2 253.8h0.8v36h-0.8z"/>
<path fill="#929292" d="M399.2 253.8h2v36h-2zM406.2 253.8h2.5v36h-2.5zM408.7 253.8h1.2v36h-1.2zM410.9 253.8h2v36h-2zM412.9 253.8h1.5v36h-1.5zM423.1 253.8h1v36h-1zM429.1 253.8h2.5v36h-2.5zM433.6 253.8h1.2v36h-1.2zM442.8 253.8h2v36h-2zM444.8 253.8h1.5v36h-1.5zM446.3 253.8h1v36h-1zM449.8 253.8h0.8v36h-0.8zM452.1 253.8h1.2v36h-1.2zM453.3 253.8h2.5v36h-2.5zM460.8 253.8h2v36h-2zM469.1 253.8h1v36h-1zM471 253.8h1.5v36h-1.5zM472.5 253.8h2v36h-2zM475.5 253.8h1.5v36h-1.5zM479.2 253.8h2v36h-2zM481.2 253.8h2v36h-2zM484.7 253.8h1.2v36h-1.2zM485.9 253.8h0.8v36h-0.8zM491.9 253.8h2.5v36h-2.5zM494.4 253.8h2v36h-2zM498.4 253.8h1.5v36h-1.5zM500.9 253.8h2v36h-2zM502.9 253.8h1v36h-1zM506.9 253.8h0.8v36h-0.8zM508.9 253.8h1v36h-1zM511.7 253.8h1v36h-1zM517.2 253.8h1.5v36h-1.5zM521.7 253.8h1.5v36h-1.5zM523.2 253.8h3v36h-3zM533 253.8h1.5v36h-1.5zM539 253.8h2.5v36h-2.5zM543 253.8h1.5v36h-1.5zM546 253.8h3v36h-3zM551 253.8h1.5v36h-1.5zM552.5 253.8h1v36h-1zM559.5 253.8h1.5v36h-1.5zM565.5 253.8h0.8v36h-0.8zM570.3 253.8h1.5v36h-1.5zM575 253.8h0.8v36h-0.8zM575.8 253.8h1.5v36h-1.5zM583.3 253.8h2.5v36h-2.5zM633 253.8h0.8v36h-0.8zM633.8 253.8h2.5v36h-2.5zM638.3 253.8h1v36h-1zM641.8 253.8h1.5v36h-1.5zM646.3 253.8h1.5v36h-1.5zM647.8 253.8h1v36h-1zM648.8 253.8h1v36h-1zM654.8 253.8h1.5v36h-1.5zM656.3 253.8h2v36h-2zM658.3 253.8h2v36h-2zM665.3 253.8h1.2v36h-1.2zM675.5 253.8h1.5v36h-1.5zM681.2 253.8h0.8v36h-0.8zM692.3 253.8h1.2v36h-1.2zM694.5 253.8h1.5v36h-1.5zM708.3 253.8h1.5v36h-1.5zM711.3 253.8h1.5v36h-1.5zM725.8 253.8h1.5v36h-1.5zM728.3 253.8h3v36h-3zM731.3 253.8h1.5v36h-1.5zM738.3 253.8h3v36h-3zM746.3 253.8h2v36h-2zM749.3 253.8h1.5v36h-1.5zM762.8 253.8h2.5v36h-2.5zM790.6 253.8h1.5v36h-1.5zM802 253.8h2.5v36h-2.5zM804.5 253.8h2v36h-2zM821 253.8h2v36h-2zM826.7 253.8h2v36h-2zM837.5 253.8h1.5v36h-1.5zM839 253.8h1.2v36h-1.2zM844.2 253.8h1.2v36h-1.2zM845.4 253.8h3v36h-3zM852.9 253.8h1v36h-1zM854.9 253.8h1.2v36h-1.2zM856.1 253.8h1v36h-1zM879 253.8h0.8v36h-0.8zM888 253.8h1.5v36h-1.5zM899.5 253.8h1v36h-1zM901.3 253.8h2v36h-2zM905.3 253.8h1v36h-1zM909.3 253.8h2v36h-2zM914.5 253.8h1.5v36h-1.5zM927 253.8h1.5v36h-1.5zM930.3 253.8h2.5v36h-2.5zM936.1 253.8h2v36h-2zM939.6 253.8h1v36h-1zM942.6 253.8h1v36h-1zM944.6 253.8h1.5v36h-1.5zM946.1 253.8h0.8v36h-0.8zM946.9 253.8h1v36h-1zM949.1 253.8h2.5v36h-2.5zM954.1 253.8h2v36h-2zM957.1 253.8h1.5v36h-1.5zM961.4 253.8h1.5v36h-1.5zM972.1 253.8h2v36h-2zM977.8 253.8h2v36h-2zM979.8 253.8h1v36h-1zM984.8 253.8h0.8v36h-0.8zM991.6 253.8h0.8v36h-0.8zM992.4 253.8h1.5v36h-1.5zM997.9 253.8h0.1v36h-0.1zM1062.1 253.8h1.5v36h-1.5zM1069.1 253.8h2v36h-2zM1071.1 253.8h1v36h-1zM1073.6 253.8h1v36h-1zM1091.4 253.8h0.8v36h-0.8zM1094.2 253.8h1v36h-1zM1095.2 253.8h2v36h-2zM1102.7 253.8h1v36h-1zM1113.4 253.8h1.2v36h-1.2zM1115.8 253.8h0.8v36h-0.8zM1123.6 253.8h2.5v36h-2.5zM1138.1 253.8h1.2v36h-1.2zM1145.8 253.8h1.5v36h-1.5zM1155.6 253.8h1v36h-1zM1166.3 253.8h1.5v36h-1.5zM1174.3 253.8h1.5v36h-1.5zM1176.8 253.8h1v36h-1zM1182.6 253.8h2v36h-2zM1186.6 253.8h0.8v36h-0.8zM1196.4 253.8h2.5v36h-2.5zM1214.4 253.8h0.8v36h-0.8zM1220.9 253.8h2v36h-2zM1227.4 253.8h2.5v36h-2.5zM1229.9 253.8h2v36h-2zM1231.9 253.8h0.8v36h-0.8zM1237.9 253.8h0.8v36h-0.8zM1242.7 253.8h1.2v36h-1.2zM1247.9 253.8h1v36h-1zM1249.9 253.8h1v36h-1zM1252.9 253.8h1.2v36h-1.2zM1257.9 253.8h2.5v36h-2.5zM1263.4 253.8h2v36h-2zM1265.4 253.8h1v36h-1zM1268.7 253.8h2.5v36h-2.5z"/>
<path fill="#5cb0e2" d="M409.9 253.8h1v36h-1zM414.4 253.8h1.5v36h-1.5zM417.1 253.8h2v36h-2zM424.1 253.8h2v36h-2zM439.3 253.8h2.5v36h-2.5zM590.5 253.8h0.8v36h-0.8zM591.3 253.8h3v36h-3zM594.3 253.8h1.2v36h-1.2zM597.5 253.8h2v36h-2zM599.5 253.8h1.2v36h-1.2zM602.2 253.8h2.5v36h-2.5zM604.7 253.8h0.8v36h-0.8zM606.5 253.8h1.5v36h-1.5zM611.8 253.8h2v36h-2zM613.8 253.8h1.5v36h-1.5zM615.3 253.8h1.5v36h-1.5zM618.3 253.8h0.8v36h-0.8zM622.3 253.8h1.5v36h-1.5zM623.8 253.8h0.8v36h-0.8zM624.6 253.8h2v36h-2zM626.6 253.8h0.4v36h-0.4zM742 253.8h1v36h-1zM743 253.8h1.5v36h-1.5zM748.3 253.8h1v36h-1zM750.8 253.8h1.5v36h-1.5zM754.8 253.8h1.5v36h-1.5zM756.3 253.8h2.5v36h-2.5zM758.8 253.8h2v36h-2zM765.3 253.8h2v36h-2zM768.5 253.8h1.5v36h-1.5zM771.5 253.8h1v36h-1zM772.5 253.8h1v36h-1zM773.5 253.8h3v36h-3zM777.3 253.8h2v36h-2zM781.8 253.8h1.5v36h-1.5zM784.3 253.8h1v36h-1zM785.3 253.8h3v36h-3zM789.8 253.8h0.8v36h-0.8zM792.1 253.8h1v36h-1zM796.6 253.8h1.2v36h-1.2zM797.8 253.8h3v36h-3zM800.8 253.8h1.2v36h-1.2zM808.5 253.8h0.8v36h-0.8zM810.8 253.8h3v36h-3zM813.8 253.8h1.2v36h-1.2zM816 253.8h2v36h-2zM823 253.8h1.5v36h-1.5zM825.5 253.8h1.2v36h-1.2zM831.2 253.8h0.8v36h-0.8zM832 253.8h1v36h-1zM833 253.8h1.2v36h-1.2zM835 253.8h2.5v36h-2.5zM879.8 253.8h1v36h-1zM900.5 253.8h0.8v36h-0.8zM916 253.8h2v36h-2zM922.5 253.8h1.5v36h-1.5zM951.6 253.8h2.5v36h-2.5zM965.9 253.8h1.5v36h-1.5zM975.3 253.8h2.5v36h-2.5zM998 253.8h1.5v36h-1.5zM1002 253.8h0.8v36h-0.8zM1010.3 253.8h2v36h-2zM1017.8 253.8h1v36h-1zM1019.8 253.8h1v36h-1zM1020.8 253.8h1v36h-1zM1027.8 253.8h2.2v36h-2.2zM1030 253.8h2.5v36h-2.5zM1050.8 253.8h1.5v36h-1.5zM1055.1 253.8h1.5v36h-1.5zM1064.6 253.8h1.5v36h-1.5zM1077.4 253.8h2.5v36h-2.5zM1080.9 253.8h3v36h-3zM1083.9 253.8h1.5v36h-1.5zM1085.4 253.8h3v36h-3zM1097.2 253.8h1v36h-1zM1127.3 253.8h1.5v36h-1.5zM1139.3 253.8h1v36h-1zM1162.8 253.8h1.5v36h-1.5zM1171.3 253.8h3v36h-3zM1187.4 253.8h2v36h-2zM1190.2 253.8h2v36h-2zM1203.9 253.8h2v36h-2zM1207.4 253.8h1v36h-1zM1232.7 253.8h2v36h-2z"/>
<path fill="#68a9a0" d="M415.9 253.8h1.2v36h-1.2zM420.1 253.8h3v36h-3zM436.8 253.8h2.5v36h-2.5zM462.8 253.8h1v36h-1zM744.5 253.8h1v36h-1zM767.3 253.8h1.2v36h-1.2zM770 253.8h1.5v36h-1.5zM783.3 253.8h1v36h-1zM806.5 253.8h2v36h-2zM809.3 253.8h1.5v36h-1.5zM840.2 253.8h2.5v36h-2.5zM857.1 253.8h1v36h-1zM894 253.8h1v36h-1zM898 253.8h1.5v36h-1.5zM903.3 253.8h2v36h-2zM911.3 253.8h2v36h-2zM928.5 253.8h1v36h-1zM940.6 253.8h2v36h-2zM947.9 253.8h1.2v36h-1.2zM981.8 253.8h2v36h-2zM988.6 253.8h3v36h-3zM995.4 253.8h2.5v36h-2.5zM1034 253.8h2v36h-2zM1037.5 253.8h2v36h-2zM1072.1 253.8h1.5v36h-1.5zM1088.4 253.8h1.5v36h-1.5zM1109.2 253.8h3v36h-3zM1131.3 253.8h0.8v36h-0.8zM1140.3 253.8h1v36h-1zM1150.8 253.8h0.8v36h-0.8zM1175.8 253.8h1v36h-1zM1193.2 253.8h2v36h-2zM1208.4 253.8h0.8v36h-0.8zM1210.2 253.8h3v36h-3zM1218.7 253.8h1.2v36h-1.2zM1235.9 253.8h2v36h-2zM1255.9 253.8h2v36h-2zM1267.9 253.8h0.8v36h-0.8z"/>
<path fill="#8a7ccc" d="M419.1 253.8h1v36h-1zM427.6 253.8h1.5v36h-1.5zM434.8 253.8h2v36h-2zM450.6 253.8h1.5v36h-1.5zM468.1 253.8h1v36h-1zM483.2 253.8h1.5v36h-1.5zM487.9 253.8h1v36h-1zM512.7 253.8h3v36h-3zM550 253.8h1v36h-1zM556.8 253.8h1.2v36h-1.2zM562.5 253.8h3v36h-3zM566.3 253.8h1v36h-1zM572.8 253.8h1v36h-1zM643.3 253.8h1.5v36h-1.5zM649.8 253.8h1.5v36h-1.5zM685 253.8h1v36h-1zM702.3 253.8h1v36h-1zM712.8 253.8h2.5v36h-2.5zM722.8 253.8h3v36h-3zM850.9 253.8h2v36h-2zM853.9 253.8h1v36h-1zM873.3 253.8h0.8v36h-0.8zM875.1 253.8h1.2v36h-1.2zM876.3 253.8h1.2v36h-1.2zM880.8 253.8h2v36h-2zM884.3 253.8h1.2v36h-1.2zM889.5 253.8h3v36h-3zM895 253.8h3v36h-3zM956.1 253.8h1v36h-1zM969.9 253.8h1.2v36h-1.2zM980.8 253.8h1v36h-1zM993.9 253.8h1.5v36h-1.5zM1018.8 253.8h1v36h-1zM1024.3 253.8h2.5v36h-2.5zM1026.8 253.8h1v36h-1zM1039.5 253.8h1v36h-1zM1054.3 253.8h0.8v36h-0.8zM1074.6 253.8h0.8v36h-0.8zM1089.9 253.8h1.5v36h-1.5zM1100.7 253.8h2v36h-2zM1106.7 253.8h2.5v36h-2.5zM1114.6 253.8h1.2v36h-1.2zM1117.6 253.8h1.5v36h-1.5zM1120.1 253.8h2.5v36h-2.5zM1132.1 253.8h1.5v36h-1.5zM1135.6 253.8h2.5v36h-2.5zM1157.6 253.8h2v36h-2zM1161.8 253.8h1v36h-1zM1164.3 253.8h2v36h-2zM1169.3 253.8h2v36h-2zM1181.8 253.8h0.8v36h-0.8zM1189.4 253.8h0.8v36h-0.8zM1234.7 253.8h1.2v36h-1.2zM1241.2 253.8h1.5v36h-1.5zM1243.9 253.8h1v36h-1zM1254.1 253.8h1v36h-1z"/>
<path fill="#6c8fd4" d="M588 253.8h2.5v36h-2.5zM595.5 253.8h2v36h-2zM600.7 253.8h1.5v36h-1.5zM605.5 253.8h1v36h-1zM608 253.8h0.8v36h-0.8zM608.8 253.8h3v36h-3zM616.8 253.8h1.5v36h-1.5zM619.1 253.8h2v36h-2zM621.1 253.8h1.2v36h-1.2zM1002.8 253.8h2v36h-2zM1004.8 253.8h1.5v36h-1.5zM1006.3 253.8h1v36h-1zM1012.3 253.8h3v36h-3zM1021.8 253.8h2.5v36h-2.5z"/>
<path fill="#7f9cb4" d="M632 253.8h1v36h-1zM660.3 253.8h3v36h-3zM670 253.8h2v36h-2zM674.5 253.8h1v36h-1zM686 253.8h1v36h-1zM687.8 253.8h2v36h-2zM697 253.8h0.8v36h-0.8zM697.8 253.8h3v36h-3zM709.8 253.8h1.5v36h-1.5zM732.8 253.8h2v36h-2zM745.5 253.8h0.8v36h-0.8zM752.3 253.8h2.5v36h-2.5zM760.8 253.8h2v36h-2zM776.5 253.8h0.8v36h-0.8zM779.3 253.8h2.5v36h-2.5zM788.3 253.8h1.5v36h-1.5zM793.1 253.8h2v36h-2zM795.1 253.8h1.5v36h-1.5zM815 253.8h1v36h-1zM818 253.8h3v36h-3zM824.5 253.8h1v36h-1zM828.7 253.8h2.5v36h-2.5zM834.2 253.8h0.8v36h-0.8zM842.7 253.8h1.5v36h-1.5zM848.4 253.8h1.5v36h-1.5zM849.9 253.8h1v36h-1zM858.1 253.8h2v36h-2zM860.1 253.8h1.2v36h-1.2zM862.8 253.8h1v36h-1zM863.8 253.8h1v36h-1zM867.8 253.8h1v36h-1zM868.8 253.8h2.5v36h-2.5zM874.1 253.8h1v36h-1zM877.5 253.8h1.5v36h-1.5zM882.8 253.8h1.5v36h-1.5zM892.5 253.8h1.5v36h-1.5zM918 253.8h3v36h-3zM924 253.8h3v36h-3zM929.5 253.8h0.8v36h-0.8zM938.1 253.8h1.5v36h-1.5zM958.6 253.8h2v36h-2zM967.4 253.8h2.5v36h-2.5zM974.1 253.8h1.2v36h-1.2zM999.5 253.8h2.5v36h-2.5zM1007.3 253.8h3v36h-3zM1015.3 253.8h2.5v36h-2.5zM1040.5 253.8h3v36h-3zM1046.5 253.8h2v36h-2zM1049.3 253.8h1.5v36h-1.5zM1063.6 253.8h1v36h-1zM1066.1 253.8h3v36h-3zM1079.9 253.8h1v36h-1zM1099.7 253.8h1v36h-1zM1116.6 253.8h1v36h-1zM1126.1 253.8h1.2v36h-1.2zM1143.8 253.8h2v36h-2zM1147.3 253.8h2.5v36h-2.5zM1153.1 253.8h2.5v36h-2.5zM1159.6 253.8h1v36h-1zM1160.6 253.8h1.2v36h-1.2zM1167.8 253.8h1.5v36h-1.5zM1198.9 253.8h3v36h-3zM1209.2 253.8h1v36h-1zM1213.2 253.8h1.2v36h-1.2zM1215.2 253.8h1.5v36h-1.5zM1219.9 253.8h1v36h-1zM1225.9 253.8h1.5v36h-1.5zM1244.9 253.8h3v36h-3zM1250.9 253.8h2v36h-2zM1260.4 253.8h3v36h-3zM1266.4 253.8h1.5v36h-1.5z"/>
<path fill="#9a80b0" d="M396 298.8h2v36h-2zM409.5 298.8h1.2v36h-1.2zM410.7 298.8h1v36h-1zM418 298.8h2.5v36h-2.5zM420.5 298.8h1.2v36h-1.2zM423.7 298.8h0.3v36h-0.3zM525.1 298.8h2v36h-2zM534.6 298.8h1v36h-1zM537.1 298.8h1v36h-1zM543.1 298.8h2v36h-2zM579.1 298.8h0.8v36h-0.8zM589.2 298.8h0.8v36h-0.8zM888 298.8h2v36h-2zM891.6 298.8h2v36h-2zM893.6 298.8h1.2v36h-1.2zM894.8 298.8h1.5v36h-1.5zM897.5 298.8h1v36h-1zM904.3 298.8h1.2v36h-1.2z"/>
<path fill="#a152b7" d="M398 298.8h3v36h-3zM401 298.8h2.5v36h-2.5zM404.7 298.8h0.8v36h-0.8zM408.5 298.8h1v36h-1zM459 298.8h12v36h-12zM616 298.8h0.8v36h-0.8zM617.8 298.8h1.2v36h-1.2zM620.8 298.8h2.5v36h-2.5zM625.3 298.8h2v36h-2zM627.3 298.8h1v36h-1zM628.3 298.8h1.5v36h-1.5zM629.8 298.8h1.5v36h-1.5zM631.3 298.8h1v36h-1zM633.3 298.8h0.8v36h-0.8zM634.1 298.8h2.5v36h-2.5zM637.6 298.8h3v36h-3zM640.6 298.8h2.5v36h-2.5zM649.1 298.8h1v36h-1zM652.9 298.8h2v36h-2zM657.2 298.8h2v36h-2zM660.4 298.8h2v36h-2zM663.2 298.8h1.5v36h-1.5zM664.7 298.8h2.5v36h-2.5zM667.2 298.8h3v36h-3zM671 298.8h1.5v36h-1.5zM672.5 298.8h1.2v36h-1.2zM674.5 298.8h2.5v36h-2.5zM677 298.8h1.5v36h-1.5zM678.5 298.8h1.5v36h-1.5zM681 298.8h3v36h-3zM684 298.8h2v36h-2zM687.5 298.8h1v36h-1zM688.5 298.8h1v36h-1zM691 298.8h1v36h-1zM692 298.8h1v36h-1zM693 298.8h2v36h-2zM696.2 298.8h1.5v36h-1.5zM697.7 298.8h1.2v36h-1.2zM698.9 298.8h0.1v36h-0.1zM789 298.8h0.8v36h-0.8zM792.8 298.8h1.2v36h-1.2zM794 298.8h1v36h-1zM795 298.8h1v36h-1zM796 298.8h0.8v36h-0.8zM796.8 298.8h1v36h-1zM797.8 298.8h1.2v36h-1.2zM799 298.8h1.2v36h-1.2zM800.2 298.8h1.5v36h-1.5zM801.7 298.8h2.5v36h-2.5zM811.6 298.8h1.2v36h-1.2zM814.8 298.8h2.5v36h-2.5zM819.8 298.8h1.5v36h-1.5zM822.8 298.8h2v36h-2zM827.8 298.8h1.5v36h-1.5zM835 298.8h1v36h-1zM836 298.8h1.5v36h-1.5zM837.5 298.8h2.5v36h-2.5zM840 298.8h1v36h-1zM841 298.8h2v36h-2zM846 298.8h1v36h-1zM847 298.8h1v36h-1zM848.8 298.8h2v36h-2zM850.8 298.8h3v36h-3zM853.8 298.8h1v36h-1zM854.8 298.8h1v36h-1zM857.8 298.8h1.5v36h-1.5zM859.3 298.8h2v36h-2zM861.3 298.8h2.5v36h-2.5zM863.8 298.8h1.5v36h-1.5zM865.3 298.8h1.2v36h-1.2zM866.5 298.8h0.8v36h-0.8zM869.3 298.8h1.5v36h-1.5zM870.8 298.8h3v36h-3zM874.6 298.8h1.5v36h-1.5zM876.1 298.8h1v36h-1zM879.1 298.8h2.5v36h-2.5zM881.6 298.8h2.5v36h-2.5zM884.1 298.8h1.5v36h-1.5zM885.6 298.8h2v36h-2zM907 298.8h3v36h-3zM912.3 298.8h1v36h-1zM917.5 298.8h0.8v36h-0.8zM920.3 298.8h2.5v36h-2.5zM922.8 298.8h3v36h-3zM934.3 298.8h1v36h-1zM948.1 298.8h2v36h-2zM951.6 298.8h0.8v36h-0.8zM964.7 298.8h1.2v36h-1.2zM967.4 298.8h1.5v36h-1.5zM975.9 298.8h1v36h-1zM977.9 298.8h1v36h-1zM980.7 298.8h1v36h-1zM1000 298.8h22v36h-22zM1033 298.8h0.8v36h-0.8zM1034.8 298.8h0.8v36h-0.8zM1035.6 298.8h1v36h-1zM1036.6 298.8h1.5v36h-1.5zM1039.3 298.8h1v36h-1zM1040.3 298.8h2v36h-2zM1042.3 298.8h1v36h-1zM1044.1 298.8h1.5v36h-1.5zM1046.6 298.8h2v36h-2zM1048.6 298.8h1.2v36h-1.2zM1049.8 298.8h0.8v36h-0.8zM1050.6 298.8h2.5v36h-2.5zM1053.1 298.8h1.5v36h-1.5zM1057.5 298.8h3v36h-3zM1060.5 298.8h3v36h-3zM1063.5 298.8h1v36h-1zM1064.5 298.8h1.2v36h-1.2zM1065.7 298.8h1.5v36h-1.5zM1067.2 298.8h1v36h-1zM1068.2 298.8h2v36h-2zM1073.2 298.8h2v36h-2zM1075.2 298.8h2v36h-2zM1079.2 298.8h0.8v36h-0.8zM1080 298.8h1.5v36h-1.5zM1081.5 298.8h1.5v36h-1.5zM1084 298.8h1v36h-1zM1088.8 298.8h2v36h-2zM1090.8 298.8h1.5v36h-1.5zM1092.3 298.8h2v36h-2zM1103 298.8h1.2v36h-1.2zM1105.2 298.8h1v36h-1zM1106.2 298.8h1.2v36h-1.2zM1108.2 298.8h2v36h-2zM1110.2 298.8h1v36h-1zM1111.2 298.8h1v36h-1zM1112.2 298.8h1v36h-1zM1116 298.8h3v36h-3zM1126.3 298.8h1.5v36h-1.5zM1129.3 298.8h1.5v36h-1.5zM1132 298.8h2v36h-2zM1134 298.8h2v36h-2zM1136 298.8h1.5v36h-1.5zM1137.5 298.8h3v36h-3zM1141.7 298.8h1v36h-1zM1146 298.8h1v36h-1zM1149.8 298.8h0.8v36h-0.8zM1152.6 298.8h1.5v36h-1.5zM1157.1 298.8h3v36h-3zM1166.6 298.8h1v36h-1zM1167.6 298.8h1v36h-1zM1172.5 298.8h1v36h-1zM1178 298.8h2v36h-2zM1180 298.8h3v36h-3zM1183 298.8h1.2v36h-1.2zM1184.2 298.8h2v36h-2zM1187.7 298.8h1v36h-1zM1189.5 298.8h1.2v36h-1.2zM1195.8 298.8h1v36h-1zM1197.8 298.8h1.2v36h-1.2zM1205.5 298.8h1v36h-1zM1206.5 298.8h1.5v36h-1.5zM1208.8 298.8h1v36h-1zM1209.8 298.8h0.2v36h-0.2z"/>
<path fill="#929292" d="M403.5 298.8h1.2v36h-1.2zM405.5 298.8h3v36h-3zM411.7 298.8h2.5v36h-2.5zM417.2 298.8h0.8v36h-0.8zM421.7 298.8h2v36h-2zM433.8 298.8h1.5v36h-1.5zM440.3 298.8h2v36h-2zM443.5 298.8h2v36h-2zM449.3 298.8h2v36h-2z"/>
<path fill="#8a7ccc" d="M414.2 298.8h2v36h-2zM416.2 298.8h1v36h-1zM432.8 298.8h1v36h-1zM445.5 298.8h2v36h-2zM447.5 298.8h0.8v36h-0.8zM448.3 298.8h1v36h-1zM502.5 298.8h1.2v36h-1.2zM503.7 298.8h2.5v36h-2.5zM507.2 298.8h1.2v36h-1.2zM512.1 298.8h2.5v36h-2.5zM514.6 298.8h2.5v36h-2.5zM527.1 298.8h2.5v36h-2.5zM530.6 298.8h1.5v36h-1.5zM535.6 298.8h1.5v36h-1.5zM538.1 298.8h2v36h-2zM545.1 298.8h1v36h-1zM548.6 298.8h1.5v36h-1.5zM553.3 298.8h1.2v36h-1.2zM559 298.8h2v36h-2zM561 298.8h2v36h-2zM566.1 298.8h1.5v36h-1.5zM567.6 298.8h3v36h-3zM570.6 298.8h3v36h-3zM575.1 298.8h1.2v36h-1.2zM576.3 298.8h2v36h-2zM587.2 298.8h2v36h-2zM593 298.8h2v36h-2zM620 298.8h0.8v36h-0.8zM650.1 298.8h2v36h-2zM654.9 298.8h1.5v36h-1.5zM768 298.8h1.2v36h-1.2zM770.7 298.8h1v36h-1zM771.7 298.8h3v36h-3zM774.7 298.8h3v36h-3zM779.2 298.8h2v36h-2zM783.2 298.8h2v36h-2zM786.2 298.8h1.5v36h-1.5zM789.8 298.8h3v36h-3zM804.2 298.8h2v36h-2zM806.2 298.8h1.2v36h-1.2zM810.4 298.8h1.2v36h-1.2zM812.8 298.8h2v36h-2zM821.3 298.8h1.5v36h-1.5zM824.8 298.8h1.5v36h-1.5zM834.3 298.8h0.7v36h-0.7zM843 298.8h3v36h-3zM848 298.8h0.8v36h-0.8zM855.8 298.8h2v36h-2zM867.3 298.8h2v36h-2zM873.8 298.8h0.8v36h-0.8zM877.1 298.8h2v36h-2zM887.6 298.8h0.4v36h-0.4zM890 298.8h0.8v36h-0.8zM896.3 298.8h1.2v36h-1.2zM899.5 298.8h1.5v36h-1.5zM902.8 298.8h1.5v36h-1.5zM906.3 298.8h0.7v36h-0.7zM910 298.8h0.8v36h-0.8zM918.3 298.8h2v36h-2zM929.8 298.8h2.5v36h-2.5zM935.3 298.8h1v36h-1zM942.3 298.8h0.8v36h-0.8zM944.6 298.8h1.5v36h-1.5zM950.1 298.8h1.5v36h-1.5zM952.4 298.8h1.2v36h-1.2zM954.4 298.8h1v36h-1zM960.4 298.8h0.8v36h-0.8zM972.4 298.8h1v36h-1zM976.9 298.8h1v36h-1zM981.7 298.8h1.5v36h-1.5zM989.7 298.8h0.8v36h-0.8zM996.2 298.8h2v36h-2zM998.2 298.8h1.8v36h-1.8zM1055 298.8h2.5v36h-2.5zM1070.2 298.8h3v36h-3zM1077.2 298.8h2v36h-2zM1083 298.8h1v36h-1zM1119 298.8h1v36h-1zM1142.7 298.8h0.8v36h-0.8zM1149 298.8h0.8v36h-0.8zM1154.1 298.8h3v36h-3zM1160.1 298.8h1v36h-1zM1168.6 298.8h1.5v36h-1.5zM1170.9 298.8h0.8v36h-0.8zM1173.5 298.8h1.5v36h-1.5zM1188.7 298.8h0.8v36h-0.8zM1194 298.8h0.8v36h-0.8zM1194.8 298.8h1v36h-1zM1199 298.8h1v36h-1zM1218.5 298.8h1.5v36h-1.5zM1235.3 298.8h1v36h-1zM1240.3 298.8h2v36h-2zM1246.3 298.8h1.5v36h-1.5zM1250.3 298.8h1.2v36h-1.2zM1257.2 298.8h0.8v36h-0.8zM1259.5 298.8h1.5v36h-1.5z"/>
<path fill="#5cb0e2" d="M424 298.8h1v36h-1zM425 298.8h2v36h-2zM427 298.8h2v36h-2zM432 298.8h0.8v36h-0.8zM435.3 298.8h1v36h-1zM436.3 298.8h2v36h-2zM438.3 298.8h2v36h-2zM453 298.8h6v36h-6zM471 298.8h1.5v36h-1.5zM472.5 298.8h1v36h-1zM473.5 298.8h1.5v36h-1.5zM477.5 298.8h3v36h-3zM481.3 298.8h1.2v36h-1.2zM482.5 298.8h2v36h-2zM484.5 298.8h0.8v36h-0.8zM485.3 298.8h1v36h-1zM489.3 298.8h1.2v36h-1.2zM490.5 298.8h2v36h-2zM495 298.8h1.5v36h-1.5zM497.7 298.8h1v36h-1zM498.7 298.8h1.3v36h-1.3zM623.3 298.8h1v36h-1zM624.3 298.8h1v36h-1zM632.3 298.8h1v36h-1zM643.1 298.8h1.2v36h-1.2zM644.3 298.8h0.8v36h-0.8zM645.9 298.8h2v36h-2zM686 298.8h1.5v36h-1.5zM689.5 298.8h1.5v36h-1.5zM699 298.8h3v36h-3zM702 298.8h3v36h-3zM705 298.8h2v36h-2zM707 298.8h2.5v36h-2.5zM712.5 298.8h1v36h-1zM713.5 298.8h3v36h-3zM717.3 298.8h0.8v36h-0.8zM718.1 298.8h1.5v36h-1.5zM722.6 298.8h2v36h-2zM727.9 298.8h1.2v36h-1.2zM729.1 298.8h1.5v36h-1.5zM731.6 298.8h1.5v36h-1.5zM733.1 298.8h2v36h-2zM736.1 298.8h2v36h-2zM741.6 298.8h0.4v36h-0.4zM745 298.8h1v36h-1zM755 298.8h1v36h-1zM760 298.8h0.8v36h-0.8zM764.6 298.8h0.4v36h-0.4zM807.4 298.8h3v36h-3zM817.3 298.8h2.5v36h-2.5zM826.3 298.8h1.5v36h-1.5zM829.3 298.8h3v36h-3zM832.3 298.8h2v36h-2zM910.8 298.8h1.5v36h-1.5zM957.4 298.8h3v36h-3zM962.2 298.8h2.5v36h-2.5zM991.7 298.8h1.5v36h-1.5zM993.2 298.8h1.5v36h-1.5zM1022 298.8h11v36h-11zM1088 298.8h0.8v36h-0.8zM1094.3 298.8h1.2v36h-1.2zM1120 298.8h1.5v36h-1.5zM1121.5 298.8h1.5v36h-1.5zM1123.8 298.8h2.5v36h-2.5zM1127.8 298.8h1.5v36h-1.5zM1130.8 298.8h1.2v36h-1.2zM1140.5 298.8h1.2v36h-1.2zM1143.5 298.8h2.5v36h-2.5zM1147 298.8h1.2v36h-1.2zM1148.2 298.8h0.8v36h-0.8zM1150.6 298.8h2v36h-2zM1162.1 298.8h1.5v36h-1.5zM1163.6 298.8h3v36h-3zM1170.1 298.8h0.8v36h-0.8zM1186.2 298.8h1.5v36h-1.5zM1191.5 298.8h2.5v36h-2.5zM1200 298.8h1v36h-1zM1213 298.8h1v36h-1zM1242.3 298.8h1.2v36h-1.2zM1243.5 298.8h0.8v36h-0.8zM1247.8 298.8h2.5v36h-2.5zM1261 298.8h1v36h-1zM1270.5 298.8h1.5v36h-1.5z"/>
<path fill="#6c8fd4" d="M429 298.8h1v36h-1zM430 298.8h2v36h-2zM442.3 298.8h1.2v36h-1.2zM451.3 298.8h1.7v36h-1.7zM475 298.8h2.5v36h-2.5zM480.5 298.8h0.8v36h-0.8zM486.3 298.8h3v36h-3zM492.5 298.8h2.5v36h-2.5zM496.5 298.8h1.2v36h-1.2zM500 298.8h2.5v36h-2.5zM506.2 298.8h1v36h-1zM520.1 298.8h2v36h-2zM522.1 298.8h3v36h-3zM532.1 298.8h2.5v36h-2.5zM540.1 298.8h3v36h-3zM547.1 298.8h1.5v36h-1.5zM550.1 298.8h2v36h-2zM552.1 298.8h1.2v36h-1.2zM556.5 298.8h2.5v36h-2.5zM563 298.8h1.5v36h-1.5zM565.3 298.8h0.8v36h-0.8zM573.6 298.8h1.5v36h-1.5zM578.3 298.8h0.8v36h-0.8zM581.9 298.8h1.5v36h-1.5zM583.4 298.8h0.8v36h-0.8zM584.2 298.8h1.5v36h-1.5zM585.7 298.8h1.5v36h-1.5zM590 298.8h3v36h-3zM601 298.8h14v36h-14zM709.5 298.8h3v36h-3zM716.5 298.8h0.8v36h-0.8zM719.6 298.8h3v36h-3zM724.6 298.8h2.5v36h-2.5zM727.1 298.8h0.8v36h-0.8zM730.6 298.8h1v36h-1zM735.1 298.8h1v36h-1zM738.1 298.8h1.5v36h-1.5zM739.6 298.8h2v36h-2zM743.5 298.8h1.5v36h-1.5zM752.5 298.8h2.5v36h-2.5zM756 298.8h2v36h-2zM765 298.8h3v36h-3zM769.2 298.8h1.5v36h-1.5zM777.7 298.8h1.5v36h-1.5zM781.2 298.8h2v36h-2zM785.2 298.8h1v36h-1zM787.7 298.8h1.3v36h-1.3zM913.3 298.8h1.2v36h-1.2zM914.5 298.8h3v36h-3zM925.8 298.8h1v36h-1zM926.8 298.8h3v36h-3zM932.3 298.8h2v36h-2zM936.3 298.8h1v36h-1zM937.3 298.8h1.5v36h-1.5zM938.8 298.8h2.5v36h-2.5zM941.3 298.8h1v36h-1zM943.1 298.8h1.5v36h-1.5zM946.1 298.8h2v36h-2zM953.6 298.8h0.8v36h-0.8zM955.4 298.8h2v36h-2zM961.2 298.8h1v36h-1zM965.9 298.8h1.5v36h-1.5zM968.9 298.8h1v36h-1zM969.9 298.8h1v36h-1zM970.9 298.8h1.5v36h-1.5zM973.4 298.8h1v36h-1zM974.4 298.8h1.5v36h-1.5zM978.9 298.8h0.8v36h-0.8zM979.7 298.8h1v36h-1zM983.2 298.8h2.5v36h-2.5zM985.7 298.8h2v36h-2zM987.7 298.8h2v36h-2zM990.5 298.8h1.2v36h-1.2zM994.7 298.8h1.5v36h-1.5zM1123 298.8h0.8v36h-0.8zM1161.1 298.8h1v36h-1zM1171.7 298.8h0.8v36h-0.8zM1175 298.8h3v36h-3zM1190.7 298.8h0.8v36h-0.8zM1196.8 298.8h1v36h-1zM1201 298.8h2.5v36h-2.5zM1203.5 298.8h2v36h-2zM1208 298.8h0.8v36h-0.8zM1217 298.8h1.5v36h-1.5zM1220 298.8h2.5v36h-2.5zM1224 298.8h2v36h-2zM1226 298.8h1.5v36h-1.5zM1227.5 298.8h0.8v36h-0.8zM1236.3 298.8h1.5v36h-1.5zM1237.8 298.8h1.5v36h-1.5zM1239.3 298.8h1v36h-1zM1244.3 298.8h2v36h-2zM1251.5 298.8h3v36h-3zM1262 298.8h1.5v36h-1.5zM1268.5 298.8h2v36h-2zM1272 298.8h0.8v36h-0.8zM1272.8 298.8h0.2v36h-0.2z"/>
<path fill="#cd6f69" d="M508.4 298.8h2.5v36h-2.5zM510.9 298.8h1.2v36h-1.2zM554.5 298.8h2v36h-2zM564.5 298.8h0.8v36h-0.8zM579.9 298.8h2v36h-2z"/>
<path fill="#c0607e" d="M517.1 298.8h3v36h-3zM529.6 298.8h1v36h-1zM546.1 298.8h1v36h-1z"/>
<path fill="#b49ad4" d="M595 298.8h6v36h-6zM615 298.8h1v36h-1zM616.8 298.8h1v36h-1zM619 298.8h1v36h-1zM636.6 298.8h1v36h-1zM645.1 298.8h0.8v36h-0.8zM647.9 298.8h1.2v36h-1.2zM652.1 298.8h0.8v36h-0.8zM656.4 298.8h0.8v36h-0.8zM659.2 298.8h1.2v36h-1.2zM662.4 298.8h0.8v36h-0.8zM670.2 298.8h0.8v36h-0.8zM673.7 298.8h0.8v36h-0.8zM680 298.8h1v36h-1zM695 298.8h1.2v36h-1.2zM890.8 298.8h0.8v36h-0.8zM898.5 298.8h1v36h-1zM901 298.8h1v36h-1zM902 298.8h0.8v36h-0.8zM905.5 298.8h0.8v36h-0.8zM1033.8 298.8h1v36h-1zM1038.1 298.8h1.2v36h-1.2zM1043.3 298.8h0.8v36h-0.8zM1045.6 298.8h1v36h-1zM1054.6 298.8h0.4v36h-0.4zM1098 298.8h2v36h-2zM1104.2 298.8h1v36h-1zM1107.4 298.8h0.8v36h-0.8zM1113.2 298.8h0.8v36h-0.8z"/>
<path fill="#daa263" d="M742 298.8h1.5v36h-1.5zM758 298.8h2v36h-2zM763.8 298.8h0.8v36h-0.8z"/>
<path fill="#b2ae7a" d="M746 298.8h2v36h-2zM748 298.8h3v36h-3zM751 298.8h1.5v36h-1.5zM760.8 298.8h3v36h-3z"/>
<path fill="#9fd4f0" d="M1210 298.8h3v36h-3z"/>
<path fill="#68a9a0" d="M1214 298.8h3v36h-3zM1256 298.8h1.2v36h-1.2zM1258 298.8h1.5v36h-1.5zM1263.5 298.8h3v36h-3z"/>
<path fill="#7f9cb4" d="M1222.5 298.8h1.5v36h-1.5zM1228.3 298.8h2.5v36h-2.5zM1230.8 298.8h2.5v36h-2.5zM1233.3 298.8h2v36h-2zM1254.5 298.8h1.5v36h-1.5zM1266.5 298.8h2v36h-2z"/>
<path fill="#8a7ccc" d="M396 343.8h2v36h-2zM398 343.8h2.5v36h-2.5zM403.5 343.8h1.5v36h-1.5zM407.5 343.8h0.8v36h-0.8zM409.9 343.8h1.2v36h-1.2zM411.1 343.8h1.5v36h-1.5zM412.6 343.8h1.2v36h-1.2zM415.3 343.8h1.5v36h-1.5zM423.1 343.8h1.5v36h-1.5zM424.6 343.8h1.5v36h-1.5zM428.6 343.8h0.8v36h-0.8zM430.2 343.8h1v36h-1zM432.2 343.8h2v36h-2zM437.4 343.8h2v36h-2zM439.4 343.8h1.5v36h-1.5zM440.9 343.8h2.5v36h-2.5zM443.4 343.8h1.2v36h-1.2zM446.1 343.8h1.2v36h-1.2zM447.3 343.8h1.2v36h-1.2zM451.5 343.8h0.8v36h-0.8zM452.3 343.8h3v36h-3zM455.3 343.8h1v36h-1zM456.3 343.8h0.8v36h-0.8zM460.1 343.8h2v36h-2zM463.6 343.8h2.5v36h-2.5zM466.1 343.8h1v36h-1zM470.1 343.8h0.9v36h-0.9zM473.5 343.8h1.5v36h-1.5zM476.2 343.8h1v36h-1zM487.7 343.8h0.8v36h-0.8zM494 343.8h1v36h-1zM497.5 343.8h1v36h-1zM499.5 343.8h1.5v36h-1.5zM503 343.8h1.2v36h-1.2zM505.7 343.8h1v36h-1zM506.7 343.8h1.2v36h-1.2zM507.9 343.8h2v36h-2zM517.1 343.8h1.5v36h-1.5zM526.4 343.8h1.5v36h-1.5zM529.9 343.8h1.5v36h-1.5zM536 343.8h1.5v36h-1.5zM546.5 343.8h2v36h-2zM548.5 343.8h1.5v36h-1.5zM554.5 343.8h1.5v36h-1.5zM556 343.8h0.8v36h-0.8zM556.8 343.8h2v36h-2zM558.8 343.8h2v36h-2zM562.3 343.8h2v36h-2zM567.3 343.8h1.5v36h-1.5zM568.8 343.8h3v36h-3zM573.3 343.8h2v36h-2zM576.3 343.8h1.2v36h-1.2zM720.2 343.8h1v36h-1zM721.2 343.8h2.5v36h-2.5zM726.7 343.8h1.2v36h-1.2zM729.9 343.8h2v36h-2zM731.9 343.8h1.5v36h-1.5zM733.4 343.8h2v36h-2zM1191.4 343.8h2v36h-2zM1195.4 343.8h1.2v36h-1.2zM1197.6 343.8h1.5v36h-1.5zM1200.1 343.8h0.9v36h-0.9zM1246.6 343.8h1.5v36h-1.5zM1250.1 343.8h1v36h-1z"/>
<path fill="#6c8fd4" d="M400.5 343.8h3v36h-3zM405 343.8h1v36h-1zM408.3 343.8h0.8v36h-0.8zM409.1 343.8h0.8v36h-0.8zM413.8 343.8h1.5v36h-1.5zM416.8 343.8h3v36h-3zM419.8 343.8h2.5v36h-2.5zM422.3 343.8h0.8v36h-0.8zM434.2 343.8h1.2v36h-1.2zM436.4 343.8h1v36h-1zM444.6 343.8h1.5v36h-1.5zM448.5 343.8h3v36h-3zM458.1 343.8h2v36h-2zM462.1 343.8h1.5v36h-1.5zM550 343.8h2v36h-2zM552 343.8h2.5v36h-2.5zM560.8 343.8h1.5v36h-1.5zM564.3 343.8h2v36h-2zM566.3 343.8h1v36h-1zM571.8 343.8h1.5v36h-1.5zM575.3 343.8h1v36h-1zM577.5 343.8h2v36h-2zM579.5 343.8h1.2v36h-1.2zM580.7 343.8h0.3v36h-0.3zM718 343.8h1.2v36h-1.2zM719.2 343.8h1v36h-1zM723.7 343.8h3v36h-3zM727.9 343.8h2v36h-2zM735.4 343.8h3v36h-3zM738.4 343.8h1v36h-1zM739.4 343.8h2.6v36h-2.6zM1225.8 343.8h3v36h-3zM1229.8 343.8h0.8v36h-0.8zM1244.8 343.8h1v36h-1z"/>
<path fill="#a152b7" d="M406 343.8h1.5v36h-1.5zM426.1 343.8h2.5v36h-2.5zM429.4 343.8h0.8v36h-0.8zM431.2 343.8h1v36h-1zM435.4 343.8h1v36h-1zM457.1 343.8h1v36h-1zM467.1 343.8h3v36h-3zM471 343.8h1.5v36h-1.5zM472.5 343.8h1v36h-1zM475 343.8h1.2v36h-1.2zM477.2 343.8h3v36h-3zM482.2 343.8h2.5v36h-2.5zM484.7 343.8h1v36h-1zM488.5 343.8h1v36h-1zM489.5 343.8h2v36h-2zM491.5 343.8h2.5v36h-2.5zM495 343.8h1v36h-1zM496 343.8h1.5v36h-1.5zM501 343.8h2v36h-2zM504.2 343.8h1.5v36h-1.5zM509.9 343.8h3v36h-3zM514.1 343.8h3v36h-3zM518.6 343.8h2v36h-2zM520.6 343.8h1.5v36h-1.5zM522.1 343.8h1v36h-1zM523.1 343.8h2.5v36h-2.5zM525.6 343.8h0.8v36h-0.8zM527.9 343.8h2v36h-2zM531.4 343.8h0.8v36h-0.8zM532.2 343.8h1v36h-1zM535.2 343.8h0.8v36h-0.8zM537.5 343.8h3v36h-3zM540.5 343.8h1v36h-1zM544 343.8h2.5v36h-2.5zM742 343.8h35v36h-35zM843.9 343.8h3v36h-3zM865.5 343.8h2v36h-2zM898.1 343.8h1v36h-1zM900.6 343.8h1.5v36h-1.5zM902.1 343.8h1.9v36h-1.9zM911 343.8h4.5v36h-4.5zM932 343.8h3v36h-3zM970 343.8h3v36h-3zM988 343.8h4v36h-4zM1010 343.8h4v36h-4zM1029 343.8h5v36h-5zM1048 343.8h4v36h-4zM1068 343.8h4v36h-4zM1088 343.8h4v36h-4zM1107 343.8h4v36h-4zM1120 343.8h2.5v36h-2.5zM1122.5 343.8h2.5v36h-2.5zM1130.8 343.8h0.2v36h-0.2zM1153.3 343.8h0.7v36h-0.7zM1163.8 343.8h1.5v36h-1.5zM1165.3 343.8h1v36h-1zM1167.3 343.8h1v36h-1zM1170.3 343.8h0.7v36h-0.7zM1206 343.8h4v36h-4z"/>
<path fill="#daa263" d="M480.2 343.8h2v36h-2zM485.7 343.8h2v36h-2zM498.5 343.8h1v36h-1zM512.9 343.8h1.2v36h-1.2zM533.2 343.8h2v36h-2zM541.5 343.8h2.5v36h-2.5zM595 343.8h1.2v36h-1.2zM598.2 343.8h2v36h-2zM602.7 343.8h3v36h-3zM618.2 343.8h2v36h-2zM621.4 343.8h2v36h-2zM625.4 343.8h2v36h-2zM627.4 343.8h1v36h-1zM634.9 343.8h1.2v36h-1.2zM638.9 343.8h1v36h-1zM644.1 343.8h1.5v36h-1.5zM645.6 343.8h1.5v36h-1.5zM648.6 343.8h2v36h-2zM650.6 343.8h1.5v36h-1.5zM654.4 343.8h2.5v36h-2.5zM778.2 343.8h1v36h-1zM781.7 343.8h2.5v36h-2.5zM784.2 343.8h0.8v36h-0.8zM786.5 343.8h0.5v36h-0.5z"/>
<path fill="#68a9a0" d="M581 343.8h1.5v36h-1.5zM582.5 343.8h1.5v36h-1.5zM585.5 343.8h1v36h-1zM589 343.8h2v36h-2zM939.8 343.8h1.2v36h-1.2zM945 343.8h1.5v36h-1.5zM951.6 343.8h1v36h-1z"/>
<path fill="#5cb0e2" d="M584 343.8h1.5v36h-1.5zM787 343.8h1v36h-1zM788.8 343.8h3v36h-3zM791.8 343.8h3v36h-3zM797.8 343.8h2v36h-2zM804.3 343.8h1.5v36h-1.5zM808.3 343.8h2v36h-2zM811.8 343.8h0.8v36h-0.8zM813.8 343.8h1.5v36h-1.5zM815.3 343.8h2v36h-2zM817.3 343.8h1v36h-1zM818.3 343.8h1.2v36h-1.2zM819.5 343.8h2v36h-2zM821.5 343.8h1.5v36h-1.5zM824.5 343.8h1.2v36h-1.2zM825.7 343.8h0.8v36h-0.8zM826.5 343.8h1.5v36h-1.5zM828.8 343.8h2v36h-2zM834.4 343.8h0.6v36h-0.6zM835 343.8h2.5v36h-2.5zM838.5 343.8h1.5v36h-1.5zM840 343.8h1.5v36h-1.5zM841.5 343.8h1.2v36h-1.2zM846.9 343.8h3v36h-3zM850.9 343.8h1v36h-1zM853.4 343.8h0.8v36h-0.8zM855.8 343.8h1v36h-1zM856.8 343.8h1v36h-1zM858.8 343.8h1v36h-1zM861.8 343.8h1.5v36h-1.5zM863.3 343.8h1v36h-1zM867.5 343.8h2v36h-2zM871.5 343.8h1v36h-1zM874.9 343.8h3v36h-3zM879.1 343.8h2v36h-2zM881.1 343.8h1v36h-1zM882.1 343.8h3v36h-3zM885.1 343.8h2v36h-2zM889.1 343.8h1v36h-1zM892.6 343.8h2v36h-2zM896.6 343.8h1.5v36h-1.5zM899.1 343.8h1.5v36h-1.5zM948.3 343.8h2.5v36h-2.5zM953.6 343.8h1.2v36h-1.2zM954.8 343.8h1v36h-1zM1000.5 343.8h1.5v36h-1.5zM1020 343.8h2v36h-2zM1080 343.8h2v36h-2zM1125 343.8h3v36h-3zM1128 343.8h0.8v36h-0.8zM1137.5 343.8h0.8v36h-0.8zM1143.1 343.8h2.5v36h-2.5zM1147 343.8h1v36h-1zM1148 343.8h3v36h-3zM1151.8 343.8h1.5v36h-1.5zM1189.2 343.8h1v36h-1zM1193.4 343.8h1.2v36h-1.2zM1216 343.8h1v36h-1zM1218 343.8h0.8v36h-0.8zM1218.8 343.8h1v36h-1zM1219.8 343.8h1v36h-1zM1220.8 343.8h1.5v36h-1.5zM1222.3 343.8h1.5v36h-1.5zM1223.8 343.8h2v36h-2zM1228.8 343.8h1v36h-1zM1230.6 343.8h2.5v36h-2.5zM1233.1 343.8h1.5v36h-1.5zM1237.6 343.8h1.2v36h-1.2zM1238.8 343.8h2.5v36h-2.5zM1241.3 343.8h2.5v36h-2.5zM1243.8 343.8h1v36h-1zM1245.8 343.8h0.8v36h-0.8zM1248.1 343.8h2v36h-2zM1251.1 343.8h2.9v36h-2.9z"/>
<path fill="#929292" d="M586.5 343.8h1v36h-1zM587.5 343.8h1.5v36h-1.5zM1138.3 343.8h0.8v36h-0.8zM1145.6 343.8h0.4v36h-0.4zM1187 343.8h1v36h-1zM1190.2 343.8h1.2v36h-1.2zM1258 343.8h2v36h-2zM1260 343.8h1.5v36h-1.5zM1269.5 343.8h0.5v36h-0.5z"/>
<path fill="#cd6f69" d="M591 343.8h1v36h-1zM592 343.8h3v36h-3zM596.2 343.8h2v36h-2zM600.2 343.8h1.5v36h-1.5zM601.7 343.8h1v36h-1zM605.7 343.8h3v36h-3zM609.7 343.8h1v36h-1zM610.7 343.8h3v36h-3zM613.7 343.8h2v36h-2zM615.7 343.8h2.5v36h-2.5zM623.4 343.8h2v36h-2zM628.4 343.8h1v36h-1zM629.4 343.8h1v36h-1zM632.9 343.8h2v36h-2zM639.9 343.8h3v36h-3zM647.1 343.8h1.5v36h-1.5zM653.6 343.8h0.8v36h-0.8zM656.9 343.8h1.1v36h-1.1zM658 343.8h2v36h-2zM672.8 343.8h1v36h-1zM678.3 343.8h2.5v36h-2.5zM680.8 343.8h2v36h-2zM688.8 343.8h2.5v36h-2.5zM696.3 343.8h1v36h-1zM709.8 343.8h3v36h-3zM1217 343.8h1v36h-1zM1234.6 343.8h3v36h-3z"/>
<path fill="#e0a0a0" d="M608.7 343.8h1v36h-1zM620.2 343.8h1.2v36h-1.2zM636.1 343.8h0.8v36h-0.8z"/>
<path fill="#c0607e" d="M630.4 343.8h2.5v36h-2.5zM636.9 343.8h2v36h-2zM642.9 343.8h1.2v36h-1.2zM652.1 343.8h1.5v36h-1.5zM660 343.8h2v36h-2zM662 343.8h2.5v36h-2.5zM670.5 343.8h1.5v36h-1.5zM672 343.8h0.8v36h-0.8zM676.3 343.8h0.8v36h-0.8zM682.8 343.8h3v36h-3zM694.3 343.8h2v36h-2zM697.3 343.8h3v36h-3zM702.3 343.8h2.5v36h-2.5zM704.8 343.8h1v36h-1zM712.8 343.8h2v36h-2z"/>
<path fill="#7f9cb4" d="M664.5 343.8h3v36h-3zM667.5 343.8h2v36h-2zM669.5 343.8h1v36h-1zM673.8 343.8h1v36h-1zM674.8 343.8h1.5v36h-1.5zM677.1 343.8h1.2v36h-1.2zM685.8 343.8h3v36h-3zM691.3 343.8h2v36h-2zM693.3 343.8h1v36h-1zM700.3 343.8h2v36h-2zM705.8 343.8h1.5v36h-1.5zM707.3 343.8h1v36h-1zM708.3 343.8h1.5v36h-1.5zM714.8 343.8h1.5v36h-1.5zM716.3 343.8h1.7v36h-1.7z"/>
<path fill="#b2ae7a" d="M777 343.8h1.2v36h-1.2zM779.2 343.8h2.5v36h-2.5zM785 343.8h1.5v36h-1.5zM794.8 343.8h3v36h-3zM799.8 343.8h2.5v36h-2.5zM806.8 343.8h1.5v36h-1.5zM810.3 343.8h1.5v36h-1.5zM823 343.8h1.5v36h-1.5zM828 343.8h0.8v36h-0.8zM830.8 343.8h0.8v36h-0.8zM832.6 343.8h0.8v36h-0.8zM842.7 343.8h1.2v36h-1.2zM851.9 343.8h1.5v36h-1.5zM855 343.8h0.8v36h-0.8zM859.8 343.8h2v36h-2zM869.5 343.8h2v36h-2zM887.1 343.8h2v36h-2zM890.1 343.8h2.5v36h-2.5zM941 343.8h2v36h-2zM952.6 343.8h1v36h-1zM1135 343.8h1v36h-1zM1136 343.8h1.5v36h-1.5zM1139.1 343.8h1.5v36h-1.5zM1140.6 343.8h2.5v36h-2.5zM1163 343.8h0.8v36h-0.8zM1166.3 343.8h1v36h-1zM1168.3 343.8h2v36h-2zM1261.5 343.8h3v36h-3zM1264.5 343.8h3v36h-3zM1267.5 343.8h2v36h-2z"/>
<path fill="#9fd4f0" d="M788 343.8h0.8v36h-0.8zM802.3 343.8h1.2v36h-1.2zM803.5 343.8h0.8v36h-0.8zM805.8 343.8h1v36h-1zM812.6 343.8h1.2v36h-1.2zM831.6 343.8h1v36h-1zM833.4 343.8h1v36h-1zM837.5 343.8h1v36h-1zM849.9 343.8h1v36h-1zM854.2 343.8h0.8v36h-0.8zM857.8 343.8h1v36h-1zM864.3 343.8h1.2v36h-1.2zM872.5 343.8h1.2v36h-1.2zM873.7 343.8h1.2v36h-1.2zM877.9 343.8h1.2v36h-1.2zM894.6 343.8h0.8v36h-0.8zM895.4 343.8h1.2v36h-1.2zM938.8 343.8h1v36h-1zM943 343.8h1v36h-1zM946.5 343.8h0.8v36h-0.8zM950.8 343.8h0.8v36h-0.8zM1128.8 343.8h1v36h-1zM1129.8 343.8h1v36h-1z"/>
<path fill="#ecd070" d="M938 343.8h0.8v36h-0.8zM944 343.8h1v36h-1zM947.3 343.8h1v36h-1zM955.8 343.8h0.2v36h-0.2zM1037 343.8h5v36h-5zM1083 343.8h2v36h-2zM1151 343.8h0.8v36h-0.8zM1158 343.8h1.5v36h-1.5zM1188 343.8h1.2v36h-1.2zM1194.6 343.8h0.8v36h-0.8zM1196.6 343.8h1v36h-1zM1199.1 343.8h1v36h-1zM1271 343.8h2v36h-2z"/>
<path fill="#929292" d="M396 388.8h8.5v36h-8.5zM404.5 388.8h1.5v36h-1.5zM410.5 388.8h1v36h-1zM414.3 388.8h0.8v36h-0.8zM416.6 388.8h1v36h-1zM417.6 388.8h3v36h-3zM462 388.8h7v36h-7zM471.8 388.8h2.5v36h-2.5zM480.8 388.8h1.5v36h-1.5zM484.3 388.8h0.8v36h-0.8zM490.1 388.8h2v36h-2zM493.9 388.8h1.2v36h-1.2zM498.3 388.8h0.8v36h-0.8zM500.6 388.8h1.2v36h-1.2zM835 388.8h1.2v36h-1.2zM837 388.8h1v36h-1zM841 388.8h1.5v36h-1.5zM843.7 388.8h2v36h-2zM846.7 388.8h1.2v36h-1.2zM853.7 388.8h2.3v36h-2.3zM1215 388.8h3v36h-3zM1221.3 388.8h1v36h-1zM1235.8 388.8h0.8v36h-0.8z"/>
<path fill="#8a7ccc" d="M406 388.8h1.2v36h-1.2zM408 388.8h2.5v36h-2.5zM411.5 388.8h2v36h-2zM413.5 388.8h0.8v36h-0.8zM415.1 388.8h1.5v36h-1.5zM420.6 388.8h1.9v36h-1.9zM474.3 388.8h1.5v36h-1.5zM476.8 388.8h1.5v36h-1.5zM478.3 388.8h2.5v36h-2.5zM485.1 388.8h1v36h-1zM492.9 388.8h1v36h-1zM499.1 388.8h1.5v36h-1.5zM510 388.8h1.5v36h-1.5zM519.8 388.8h1.5v36h-1.5zM529.8 388.8h1.5v36h-1.5zM534.6 388.8h3v36h-3zM539.1 388.8h1v36h-1zM546.8 388.8h1.2v36h-1.2zM659.8 388.8h2v36h-2zM664 388.8h1.5v36h-1.5zM666.3 388.8h1.5v36h-1.5zM673.8 388.8h2v36h-2zM677 388.8h3v36h-3zM682 388.8h1.5v36h-1.5zM684 388.8h2.5v36h-2.5zM694.5 388.8h2.5v36h-2.5zM701 388.8h1.2v36h-1.2zM704.7 388.8h1v36h-1zM713.2 388.8h1.2v36h-1.2zM723.5 388.8h2.5v36h-2.5zM728.2 388.8h1.5v36h-1.5zM732.2 388.8h2v36h-2zM737.2 388.8h1v36h-1zM747.5 388.8h1.2v36h-1.2zM749.5 388.8h1v36h-1zM752 388.8h2v36h-2zM758.5 388.8h2v36h-2zM762.5 388.8h1.2v36h-1.2zM942.7 388.8h2.5v36h-2.5zM955.7 388.8h1v36h-1zM956.7 388.8h1v36h-1zM972.2 388.8h0.8v36h-0.8zM974.8 388.8h1.5v36h-1.5zM985.2 388.8h2v36h-2zM990.7 388.8h2v36h-2zM999.7 388.8h0.8v36h-0.8zM1003.7 388.8h1.5v36h-1.5zM1008.8 388.8h3v36h-3zM1017.5 388.8h1v36h-1zM1035.5 388.8h1.5v36h-1.5zM1041.3 388.8h1.2v36h-1.2zM1048.5 388.8h3v36h-3zM1058.8 388.8h1v36h-1zM1061.8 388.8h1.5v36h-1.5zM1063.3 388.8h2v36h-2zM1065.3 388.8h1v36h-1zM1068.8 388.8h1.2v36h-1.2zM1074 388.8h3v36h-3zM1092.2 388.8h2v36h-2zM1094.2 388.8h2v36h-2zM1106.5 388.8h1.5v36h-1.5zM1111.8 388.8h2.5v36h-2.5zM1218 388.8h2.5v36h-2.5zM1236.6 388.8h1v36h-1zM1240.6 388.8h2.5v36h-2.5zM1243.1 388.8h2v36h-2zM1246.1 388.8h2v36h-2zM1251.7 388.8h1v36h-1zM1252.7 388.8h2.5v36h-2.5zM1258.2 388.8h1v36h-1zM1260.7 388.8h3v36h-3zM1266.7 388.8h1v36h-1zM1271.7 388.8h1v36h-1z"/>
<path fill="#6c8fd4" d="M407.2 388.8h0.8v36h-0.8zM436.4 388.8h2v36h-2zM444.2 388.8h1v36h-1zM455.9 388.8h2v36h-2zM528.8 388.8h1v36h-1zM686.5 388.8h3v36h-3zM689.5 388.8h1v36h-1zM692 388.8h2.5v36h-2.5zM697 388.8h2v36h-2zM702.2 388.8h2.5v36h-2.5zM705.7 388.8h1.5v36h-1.5zM709.2 388.8h3v36h-3zM712.2 388.8h1v36h-1zM715.4 388.8h1.6v36h-1.6zM797 388.8h10v36h-10zM939.2 388.8h1v36h-1zM946.7 388.8h1v36h-1zM949.2 388.8h1.5v36h-1.5zM960.2 388.8h1v36h-1zM966.2 388.8h3v36h-3zM969.2 388.8h2v36h-2zM982 388.8h2v36h-2zM993.7 388.8h1v36h-1zM1026.5 388.8h2v36h-2zM1039 388.8h0.8v36h-0.8zM1044.7 388.8h0.8v36h-0.8zM1045.5 388.8h3v36h-3zM1054.3 388.8h1.5v36h-1.5zM1059.8 388.8h2v36h-2zM1077 388.8h2.5v36h-2.5zM1080.7 388.8h1v36h-1zM1087.7 388.8h1.5v36h-1.5zM1101 388.8h2v36h-2zM1108 388.8h0.8v36h-0.8zM1131.2 388.8h1v36h-1zM1149 388.8h1.5v36h-1.5zM1152.7 388.8h1.5v36h-1.5zM1156 388.8h1.2v36h-1.2zM1159.7 388.8h1v36h-1zM1170.7 388.8h2v36h-2zM1187 388.8h1.2v36h-1.2zM1191.8 388.8h1v36h-1zM1192.8 388.8h1.2v36h-1.2zM1205.2 388.8h1.2v36h-1.2z"/>
<path fill="#9a80b0" d="M422.5 388.8h2v36h-2zM425.7 388.8h3v36h-3zM428.7 388.8h1v36h-1zM431.2 388.8h3v36h-3zM438.4 388.8h1v36h-1zM439.4 388.8h0.8v36h-0.8zM459.4 388.8h1v36h-1zM461.2 388.8h0.8v36h-0.8zM656 388.8h3v36h-3zM661.8 388.8h1v36h-1zM665.5 388.8h0.8v36h-0.8zM669 388.8h1v36h-1zM670 388.8h2v36h-2zM672 388.8h0.8v36h-0.8zM680.8 388.8h1.2v36h-1.2zM683.5 388.8h0.5v36h-0.5zM1177 388.8h1v36h-1zM1184.2 388.8h0.8v36h-0.8zM1185 388.8h2v36h-2zM1195.6 388.8h1.2v36h-1.2z"/>
<path fill="#b49ad4" d="M424.5 388.8h1.2v36h-1.2zM440.2 388.8h1v36h-1zM445.2 388.8h0.8v36h-0.8zM446 388.8h0.8v36h-0.8zM448.3 388.8h0.8v36h-0.8zM451.1 388.8h0.8v36h-0.8zM460.4 388.8h0.8v36h-0.8zM550 388.8h0.8v36h-0.8zM550.8 388.8h1v36h-1zM558.3 388.8h1v36h-1zM572.8 388.8h1v36h-1zM575 388.8h1v36h-1zM581 388.8h0.8v36h-0.8zM583.8 388.8h0.8v36h-0.8zM584.6 388.8h0.8v36h-0.8zM594.1 388.8h1.2v36h-1.2zM603.6 388.8h1v36h-1zM604.6 388.8h1v36h-1zM612.9 388.8h0.8v36h-0.8zM621.2 388.8h1.2v36h-1.2zM623.9 388.8h1v36h-1zM627.9 388.8h1v36h-1zM634.2 388.8h0.8v36h-0.8zM645.7 388.8h0.8v36h-0.8zM649.5 388.8h1.2v36h-1.2zM659 388.8h0.8v36h-0.8zM662.8 388.8h1.2v36h-1.2zM667.8 388.8h1.2v36h-1.2zM672.8 388.8h1v36h-1zM675.8 388.8h1.2v36h-1.2zM680 388.8h0.8v36h-0.8zM780.5 388.8h1.2v36h-1.2zM785.2 388.8h0.8v36h-0.8zM786 388.8h1v36h-1zM789 388.8h0.8v36h-0.8zM790.8 388.8h0.8v36h-0.8zM792.8 388.8h1v36h-1zM795.3 388.8h1v36h-1zM836.2 388.8h0.8v36h-0.8zM842.5 388.8h1.2v36h-1.2zM845.7 388.8h1v36h-1zM847.9 388.8h0.8v36h-0.8zM848.7 388.8h1v36h-1zM852.7 388.8h1v36h-1zM860.5 388.8h2.9v36h-2.9zM866 388.8h0.8v36h-0.8zM868 388.8h1v36h-1zM1130.2 388.8h1v36h-1zM1132.2 388.8h1v36h-1zM1136 388.8h1v36h-1zM1142 388.8h1v36h-1zM1143 388.8h1v36h-1zM1145.2 388.8h0.8v36h-0.8zM1146 388.8h1v36h-1zM1151.7 388.8h1v36h-1zM1169.1 388.8h0.8v36h-0.8zM1183.2 388.8h1v36h-1zM1189.4 388.8h1.2v36h-1.2zM1194 388.8h0.8v36h-0.8zM1210.9 388.8h0.8v36h-0.8z"/>
<path fill="#5cb0e2" d="M429.7 388.8h1.5v36h-1.5zM434.2 388.8h1.2v36h-1.2zM435.4 388.8h1v36h-1zM449.1 388.8h0.8v36h-0.8zM449.9 388.8h1.2v36h-1.2zM453.4 388.8h2.5v36h-2.5zM502 388.8h2v36h-2zM509 388.8h1v36h-1zM511.5 388.8h2.5v36h-2.5zM516 388.8h0.8v36h-0.8zM516.8 388.8h1v36h-1zM521.3 388.8h1.5v36h-1.5zM525.3 388.8h2v36h-2zM527.3 388.8h1.5v36h-1.5zM533.8 388.8h0.8v36h-0.8zM542.6 388.8h1.2v36h-1.2zM690.5 388.8h1.5v36h-1.5zM699 388.8h2v36h-2zM707.2 388.8h2v36h-2zM714.4 388.8h1v36h-1z"/>
<path fill="#68a9a0" d="M441.2 388.8h3v36h-3zM446.8 388.8h1.5v36h-1.5zM451.9 388.8h1.5v36h-1.5zM457.9 388.8h1.5v36h-1.5zM866.8 388.8h1.2v36h-1.2zM869 388.8h2v36h-2zM1220.5 388.8h0.8v36h-0.8zM1222.3 388.8h1.5v36h-1.5zM1225.3 388.8h2v36h-2zM1230.3 388.8h3v36h-3zM1237.6 388.8h2v36h-2z"/>
<path fill="#9fd4f0" d="M469 388.8h2v36h-2zM765 388.8h10v36h-10zM1129.2 388.8h1v36h-1zM1144 388.8h1.2v36h-1.2zM1157.2 388.8h1v36h-1zM1164.7 388.8h1v36h-1zM1166.9 388.8h1.2v36h-1.2zM1173.5 388.8h1.2v36h-1.2zM1178 388.8h1.2v36h-1.2zM1209.1 388.8h0.8v36h-0.8z"/>
<path fill="#a152b7" d="M471 388.8h0.8v36h-0.8zM475.8 388.8h1v36h-1zM482.3 388.8h2v36h-2zM486.1 388.8h2v36h-2zM488.1 388.8h2v36h-2zM492.1 388.8h0.8v36h-0.8zM495.1 388.8h1.2v36h-1.2zM496.3 388.8h2v36h-2zM501.8 388.8h0.2v36h-0.2zM504 388.8h2.5v36h-2.5zM506.5 388.8h2.5v36h-2.5zM514 388.8h2v36h-2zM517.8 388.8h2v36h-2zM522.8 388.8h2.5v36h-2.5zM531.3 388.8h2.5v36h-2.5zM537.6 388.8h1.5v36h-1.5zM540.1 388.8h1.5v36h-1.5zM541.6 388.8h1v36h-1zM543.8 388.8h2v36h-2zM545.8 388.8h1v36h-1zM548 388.8h2v36h-2zM551.8 388.8h2.5v36h-2.5zM554.3 388.8h1.2v36h-1.2zM555.5 388.8h1v36h-1zM556.5 388.8h0.8v36h-0.8zM557.3 388.8h1v36h-1zM559.3 388.8h2.5v36h-2.5zM561.8 388.8h2v36h-2zM563.8 388.8h2v36h-2zM565.8 388.8h1.5v36h-1.5zM567.3 388.8h2.5v36h-2.5zM569.8 388.8h3v36h-3zM573.8 388.8h1.2v36h-1.2zM576 388.8h3v36h-3zM579 388.8h2v36h-2zM581.8 388.8h2v36h-2zM585.4 388.8h1v36h-1zM586.4 388.8h1.5v36h-1.5zM587.9 388.8h1.5v36h-1.5zM589.4 388.8h1.5v36h-1.5zM590.9 388.8h1v36h-1zM591.9 388.8h1.2v36h-1.2zM593.1 388.8h1v36h-1zM595.3 388.8h1.5v36h-1.5zM596.8 388.8h2v36h-2zM598.8 388.8h1.5v36h-1.5zM600.3 388.8h2.5v36h-2.5zM602.8 388.8h0.8v36h-0.8zM605.6 388.8h2v36h-2zM607.6 388.8h2.5v36h-2.5zM610.1 388.8h2v36h-2zM612.1 388.8h0.8v36h-0.8zM613.7 388.8h1.5v36h-1.5zM615.2 388.8h2v36h-2zM617.2 388.8h1.5v36h-1.5zM618.7 388.8h2.5v36h-2.5zM622.4 388.8h1.5v36h-1.5zM624.9 388.8h3v36h-3zM628.9 388.8h2v36h-2zM630.9 388.8h0.8v36h-0.8zM631.7 388.8h2.5v36h-2.5zM635 388.8h1v36h-1zM636 388.8h1.2v36h-1.2zM637.2 388.8h2v36h-2zM639.2 388.8h1v36h-1zM640.2 388.8h1.5v36h-1.5zM641.7 388.8h1.5v36h-1.5zM643.2 388.8h2.5v36h-2.5zM646.5 388.8h2v36h-2zM648.5 388.8h1v36h-1zM650.7 388.8h2v36h-2zM652.7 388.8h1.5v36h-1.5zM654.2 388.8h1.8v36h-1.8zM717 388.8h3v36h-3zM720 388.8h2v36h-2zM722 388.8h1.5v36h-1.5zM726 388.8h1v36h-1zM727 388.8h1.2v36h-1.2zM729.7 388.8h1.5v36h-1.5zM731.2 388.8h1v36h-1zM734.2 388.8h1.5v36h-1.5zM735.7 388.8h1.5v36h-1.5zM738.2 388.8h0.8v36h-0.8zM739 388.8h2v36h-2zM741 388.8h2v36h-2zM743 388.8h2.5v36h-2.5zM745.5 388.8h2v36h-2zM748.7 388.8h0.8v36h-0.8zM750.5 388.8h1.5v36h-1.5zM754 388.8h1.5v36h-1.5zM755.5 388.8h1v36h-1zM756.5 388.8h2v36h-2zM760.5 388.8h2v36h-2zM763.7 388.8h1.3v36h-1.3zM777 388.8h1.5v36h-1.5zM778.5 388.8h1v36h-1zM779.5 388.8h1v36h-1zM781.7 388.8h1.5v36h-1.5zM783.2 388.8h2v36h-2zM787 388.8h2v36h-2zM789.8 388.8h1v36h-1zM791.6 388.8h1.2v36h-1.2zM793.8 388.8h1.5v36h-1.5zM796.3 388.8h0.7v36h-0.7zM807 388.8h28v36h-28zM871 388.8h65.5v36h-65.5zM936.5 388.8h1.5v36h-1.5zM938 388.8h1.2v36h-1.2zM940.2 388.8h1v36h-1zM941.2 388.8h1.5v36h-1.5zM945.2 388.8h1.5v36h-1.5zM947.7 388.8h1.5v36h-1.5zM950.7 388.8h1v36h-1zM951.7 388.8h3v36h-3zM954.7 388.8h1v36h-1zM957.7 388.8h2.5v36h-2.5zM961.2 388.8h1v36h-1zM962.2 388.8h1.2v36h-1.2zM963.4 388.8h1v36h-1zM964.4 388.8h1v36h-1zM965.4 388.8h0.8v36h-0.8zM971.2 388.8h1v36h-1zM973 388.8h1v36h-1zM974 388.8h0.8v36h-0.8zM976.3 388.8h1.2v36h-1.2zM977.5 388.8h1.2v36h-1.2zM978.7 388.8h2.5v36h-2.5zM981.2 388.8h0.8v36h-0.8zM984 388.8h1.2v36h-1.2zM987.2 388.8h2v36h-2zM989.2 388.8h1.5v36h-1.5zM992.7 388.8h1v36h-1zM994.7 388.8h1v36h-1zM995.7 388.8h2v36h-2zM997.7 388.8h2v36h-2zM1000.5 388.8h1.2v36h-1.2zM1001.7 388.8h2v36h-2zM1005.2 388.8h0.8v36h-0.8zM1006 388.8h1v36h-1zM1007 388.8h1v36h-1zM1008 388.8h0.8v36h-0.8zM1011.8 388.8h1v36h-1zM1012.8 388.8h2v36h-2zM1014.8 388.8h1.2v36h-1.2zM1016 388.8h1.5v36h-1.5zM1018.5 388.8h1v36h-1zM1019.5 388.8h1.5v36h-1.5zM1021 388.8h2.5v36h-2.5zM1023.5 388.8h1v36h-1zM1024.5 388.8h1v36h-1zM1025.5 388.8h1v36h-1zM1028.5 388.8h3v36h-3zM1031.5 388.8h2.5v36h-2.5zM1034 388.8h1.5v36h-1.5zM1037 388.8h2v36h-2zM1039.8 388.8h1.5v36h-1.5zM1042.5 388.8h1.2v36h-1.2zM1043.7 388.8h1v36h-1zM1051.5 388.8h1v36h-1zM1052.5 388.8h0.8v36h-0.8zM1053.3 388.8h1v36h-1zM1055.8 388.8h1.5v36h-1.5zM1057.3 388.8h1.5v36h-1.5zM1066.3 388.8h2.5v36h-2.5zM1070 388.8h1v36h-1zM1071 388.8h1.5v36h-1.5zM1072.5 388.8h1.5v36h-1.5zM1079.5 388.8h1.2v36h-1.2zM1081.7 388.8h2v36h-2zM1083.7 388.8h2v36h-2zM1085.7 388.8h2v36h-2zM1089.2 388.8h2v36h-2zM1091.2 388.8h1v36h-1zM1096.2 388.8h1.5v36h-1.5zM1097.7 388.8h2.5v36h-2.5zM1100.2 388.8h0.8v36h-0.8zM1103 388.8h2v36h-2zM1105 388.8h1.5v36h-1.5zM1108.8 388.8h2v36h-2zM1110.8 388.8h1v36h-1zM1114.3 388.8h1.5v36h-1.5zM1115.8 388.8h0.8v36h-0.8zM1116.6 388.8h3v36h-3zM1119.6 388.8h0.8v36h-0.8zM1120.4 388.8h0.6v36h-0.6zM1249.5 388.8h1.2v36h-1.2zM1250.7 388.8h1v36h-1zM1255.2 388.8h3v36h-3zM1259.2 388.8h1.5v36h-1.5zM1263.7 388.8h1v36h-1zM1264.7 388.8h2v36h-2zM1267.7 388.8h1.5v36h-1.5zM1269.2 388.8h2.5v36h-2.5zM1272.7 388.8h0.3v36h-0.3z"/>
<path fill="#daa263" d="M775 388.8h2v36h-2z"/>
<path fill="#7a80ac" d="M838 388.8h1.5v36h-1.5zM839.5 388.8h1.5v36h-1.5zM849.7 388.8h3v36h-3zM1126 388.8h2v36h-2zM1134 388.8h2v36h-2zM1137 388.8h3v36h-3zM1140 388.8h1v36h-1zM1147 388.8h2v36h-2zM1150.5 388.8h1.2v36h-1.2zM1155 388.8h1v36h-1zM1158.2 388.8h1.5v36h-1.5zM1160.7 388.8h2v36h-2zM1162.7 388.8h2v36h-2zM1165.7 388.8h1.2v36h-1.2zM1168.1 388.8h1v36h-1zM1169.9 388.8h0.8v36h-0.8zM1174.7 388.8h1.5v36h-1.5zM1179.2 388.8h2v36h-2zM1181.2 388.8h2v36h-2zM1188.2 388.8h1.2v36h-1.2zM1190.6 388.8h1.2v36h-1.2zM1197.6 388.8h0.8v36h-0.8zM1198.4 388.8h1v36h-1zM1199.4 388.8h3v36h-3zM1203.4 388.8h0.8v36h-0.8zM1207.6 388.8h1.5v36h-1.5zM1209.9 388.8h1v36h-1zM1211.7 388.8h1.2v36h-1.2zM1212.9 388.8h2v36h-2zM1214.9 388.8h0.1v36h-0.1z"/>
<path fill="#e4e6f2" d="M1128 388.8h1.2v36h-1.2zM1133.2 388.8h0.8v36h-0.8zM1141 388.8h1v36h-1zM1154.2 388.8h0.8v36h-0.8zM1172.7 388.8h0.8v36h-0.8zM1176.2 388.8h0.8v36h-0.8zM1194.8 388.8h0.8v36h-0.8zM1196.8 388.8h0.8v36h-0.8zM1202.4 388.8h1v36h-1zM1204.2 388.8h1v36h-1zM1206.4 388.8h1.2v36h-1.2z"/>
<path fill="#b2ae7a" d="M1223.8 388.8h1.5v36h-1.5zM1227.3 388.8h3v36h-3zM1233.3 388.8h2.5v36h-2.5zM1239.6 388.8h1v36h-1zM1245.1 388.8h1v36h-1zM1248.1 388.8h1.4v36h-1.4z"/>
<path fill="#6c8fd4" d="M396 433.8h0.8v36h-0.8zM396.8 433.8h1.5v36h-1.5zM399.5 433.8h3v36h-3zM403.3 433.8h1.2v36h-1.2zM404.5 433.8h0.5v36h-0.5zM417 433.8h0.8v36h-0.8zM427.6 433.8h2v36h-2zM439.5 433.8h1.2v36h-1.2zM472 433.8h0.8v36h-0.8zM474 433.8h1v36h-1zM479 433.8h1.5v36h-1.5zM480.5 433.8h2v36h-2zM485.5 433.8h1v36h-1zM486.5 433.8h2.5v36h-2.5zM489 433.8h3v36h-3zM495.5 433.8h2v36h-2zM497.5 433.8h1.5v36h-1.5zM499.8 433.8h2.2v36h-2.2zM680 433.8h3v36h-3zM684.2 433.8h1.5v36h-1.5zM690.7 433.8h2.5v36h-2.5zM694 433.8h2.5v36h-2.5zM697.5 433.8h0.8v36h-0.8zM700.3 433.8h2v36h-2zM704.3 433.8h3v36h-3zM707.3 433.8h0.8v36h-0.8zM711.1 433.8h2v36h-2zM892.3 433.8h2v36h-2zM900.1 433.8h1.5v36h-1.5z"/>
<path fill="#68a9a0" d="M398.3 433.8h1.2v36h-1.2zM402.5 433.8h0.8v36h-0.8zM419.8 433.8h1.5v36h-1.5zM429.6 433.8h2v36h-2zM440.7 433.8h0.8v36h-0.8zM441.5 433.8h1.5v36h-1.5zM503.2 433.8h3v36h-3zM508.5 433.8h1.5v36h-1.5zM515 433.8h1v36h-1zM530.5 433.8h1v36h-1zM533 433.8h3v36h-3z"/>
<path fill="#a152b7" d="M405 433.8h12v36h-12zM575 433.8h0.8v36h-0.8zM576.6 433.8h2v36h-2zM578.6 433.8h2v36h-2zM580.6 433.8h1v36h-1zM581.6 433.8h1.5v36h-1.5zM583.1 433.8h2v36h-2zM585.1 433.8h3v36h-3zM588.1 433.8h1.5v36h-1.5zM589.6 433.8h2v36h-2zM591.6 433.8h1.5v36h-1.5zM593.1 433.8h0.8v36h-0.8zM593.9 433.8h1.5v36h-1.5zM595.4 433.8h2v36h-2zM597.4 433.8h3v36h-3zM602.6 433.8h2.5v36h-2.5zM606.7 433.8h2.5v36h-2.5zM609.2 433.8h2.5v36h-2.5zM611.7 433.8h2v36h-2zM613.7 433.8h1.2v36h-1.2zM615.9 433.8h3v36h-3zM618.9 433.8h1v36h-1zM619.9 433.8h2v36h-2zM621.9 433.8h1.5v36h-1.5zM623.4 433.8h1.2v36h-1.2zM624.6 433.8h0.8v36h-0.8zM625.4 433.8h2.5v36h-2.5zM629.1 433.8h1v36h-1zM630.9 433.8h1.5v36h-1.5zM632.4 433.8h1.2v36h-1.2zM633.6 433.8h2v36h-2zM636.4 433.8h2.5v36h-2.5zM638.9 433.8h2v36h-2zM640.9 433.8h2v36h-2zM642.9 433.8h1v36h-1zM643.9 433.8h1.5v36h-1.5zM645.4 433.8h2.5v36h-2.5zM647.9 433.8h1.2v36h-1.2zM649.1 433.8h3v36h-3zM652.1 433.8h1v36h-1zM654.1 433.8h1.5v36h-1.5zM656.6 433.8h1.2v36h-1.2zM657.8 433.8h2v36h-2zM661 433.8h0.8v36h-0.8zM661.8 433.8h1v36h-1zM663.8 433.8h1v36h-1zM666 433.8h1v36h-1zM667 433.8h3v36h-3zM670 433.8h2v36h-2zM672 433.8h3v36h-3zM675 433.8h2.5v36h-2.5zM678.7 433.8h1.3v36h-1.3zM718 433.8h1v36h-1zM719 433.8h0.8v36h-0.8zM720.8 433.8h1.5v36h-1.5zM724.3 433.8h1v36h-1zM726.3 433.8h1.2v36h-1.2zM727.5 433.8h0.8v36h-0.8zM728.3 433.8h3v36h-3zM731.3 433.8h3v36h-3zM736.8 433.8h2v36h-2zM741.3 433.8h2v36h-2zM745.3 433.8h1.2v36h-1.2zM747.5 433.8h1.5v36h-1.5zM749 433.8h1.5v36h-1.5zM751.7 433.8h2v36h-2zM753.7 433.8h0.8v36h-0.8zM755.3 433.8h1.5v36h-1.5zM757.8 433.8h3v36h-3zM760.8 433.8h1v36h-1zM761.8 433.8h1.5v36h-1.5zM763.3 433.8h0.7v36h-0.7zM780 433.8h11v36h-11zM843.8 433.8h2v36h-2zM845.8 433.8h1.2v36h-1.2zM847.8 433.8h2v36h-2zM849.8 433.8h2v36h-2zM852.6 433.8h2v36h-2zM868.5 433.8h21.5v36h-21.5zM904 433.8h1v36h-1zM905 433.8h0.8v36h-0.8zM905.8 433.8h1.5v36h-1.5zM907.3 433.8h1.5v36h-1.5zM908.8 433.8h2v36h-2zM910.8 433.8h0.8v36h-0.8zM911.6 433.8h1.5v36h-1.5zM914.3 433.8h2v36h-2zM916.3 433.8h1v36h-1zM920.1 433.8h2.5v36h-2.5zM922.6 433.8h1.5v36h-1.5zM924.1 433.8h0.8v36h-0.8zM924.9 433.8h1v36h-1zM925.9 433.8h1.5v36h-1.5zM927.4 433.8h1v36h-1zM928.4 433.8h1.5v36h-1.5zM929.9 433.8h3v36h-3zM933.9 433.8h1v36h-1zM935.7 433.8h1.5v36h-1.5zM937.2 433.8h0.8v36h-0.8zM938 433.8h0.8v36h-0.8zM938.8 433.8h0.8v36h-0.8zM940.8 433.8h1v36h-1zM941.8 433.8h3v36h-3zM944.8 433.8h1.5v36h-1.5zM946.3 433.8h1.5v36h-1.5zM947.8 433.8h2v36h-2zM950.6 433.8h1.5v36h-1.5zM952.1 433.8h1.5v36h-1.5zM954.6 433.8h1v36h-1zM955.6 433.8h1v36h-1zM956.6 433.8h2v36h-2zM958.6 433.8h0.8v36h-0.8zM960.2 433.8h3v36h-3zM963.2 433.8h1.5v36h-1.5zM964.7 433.8h2.5v36h-2.5zM968 433.8h0.8v36h-0.8zM968.8 433.8h1.5v36h-1.5zM970.3 433.8h1v36h-1zM971.3 433.8h1.2v36h-1.2zM972.5 433.8h1.2v36h-1.2zM973.7 433.8h3v36h-3zM977.7 433.8h1.5v36h-1.5zM980.4 433.8h2v36h-2zM982.4 433.8h1v36h-1zM983.4 433.8h0.8v36h-0.8zM985.2 433.8h1.5v36h-1.5zM986.7 433.8h2v36h-2zM988.7 433.8h1v36h-1zM989.7 433.8h1v36h-1zM990.7 433.8h1v36h-1zM992.9 433.8h0.8v36h-0.8zM993.7 433.8h1.5v36h-1.5zM996.2 433.8h3v36h-3zM999.2 433.8h1.5v36h-1.5zM1000.7 433.8h1.5v36h-1.5zM1002.2 433.8h1v36h-1zM1003.2 433.8h2v36h-2zM1005.2 433.8h2.5v36h-2.5zM1007.7 433.8h1.2v36h-1.2zM1008.9 433.8h3v36h-3zM1011.9 433.8h1.5v36h-1.5zM1013.4 433.8h0.8v36h-0.8zM1015.2 433.8h1.5v36h-1.5zM1016.7 433.8h1v36h-1zM1017.7 433.8h1v36h-1zM1018.7 433.8h2v36h-2zM1021.5 433.8h1v36h-1zM1022.5 433.8h2v36h-2zM1025.5 433.8h3v36h-3zM1028.5 433.8h1.5v36h-1.5zM1031.2 433.8h3v36h-3zM1034.2 433.8h3v36h-3zM1037.2 433.8h1v36h-1zM1039.4 433.8h2v36h-2zM1042.6 433.8h1.5v36h-1.5zM1044.9 433.8h1v36h-1zM1045.9 433.8h1.5v36h-1.5zM1047.4 433.8h1v36h-1zM1049.4 433.8h1v36h-1zM1050.4 433.8h3v36h-3zM1053.4 433.8h3v36h-3zM1056.4 433.8h1.5v36h-1.5zM1058.7 433.8h2v36h-2zM1060.7 433.8h3v36h-3zM1063.7 433.8h2.5v36h-2.5zM1066.2 433.8h1.2v36h-1.2zM1068.6 433.8h1v36h-1zM1070.8 433.8h3v36h-3zM1074.8 433.8h0.8v36h-0.8zM1075.6 433.8h1v36h-1zM1077.6 433.8h2v36h-2zM1079.6 433.8h2v36h-2zM1082.8 433.8h2v36h-2zM1084.8 433.8h1.5v36h-1.5zM1087.5 433.8h2.5v36h-2.5zM1090 433.8h1.5v36h-1.5zM1091.5 433.8h1.5v36h-1.5zM1093.8 433.8h1.2v36h-1.2zM1095 433.8h1v36h-1zM1096 433.8h1.5v36h-1.5zM1097.5 433.8h2.5v36h-2.5zM1100 433.8h2v36h-2zM1102 433.8h1v36h-1zM1103.8 433.8h1v36h-1zM1104.8 433.8h2.5v36h-2.5zM1107.3 433.8h1.2v36h-1.2zM1108.5 433.8h1.5v36h-1.5zM1110 433.8h3v36h-3zM1113 433.8h1.5v36h-1.5zM1115.5 433.8h2.5v36h-2.5zM1118 433.8h1v36h-1z"/>
<path fill="#5cb0e2" d="M417.8 433.8h2v36h-2zM421.3 433.8h0.8v36h-0.8zM426.1 433.8h1.5v36h-1.5zM431.6 433.8h1.2v36h-1.2zM435.3 433.8h2v36h-2zM438.3 433.8h1.2v36h-1.2zM444.5 433.8h2v36h-2zM446.5 433.8h2.5v36h-2.5zM449 433.8h1.5v36h-1.5zM450.5 433.8h3v36h-3zM454.3 433.8h1v36h-1zM455.3 433.8h2v36h-2zM460.3 433.8h1v36h-1zM461.3 433.8h3v36h-3zM465.1 433.8h2v36h-2zM467.1 433.8h2v36h-2zM469.1 433.8h1.9v36h-1.9zM471 433.8h1v36h-1zM472.8 433.8h1.2v36h-1.2zM475 433.8h2v36h-2zM477 433.8h2v36h-2zM482.5 433.8h3v36h-3zM492 433.8h2v36h-2zM494 433.8h1.5v36h-1.5zM499 433.8h0.8v36h-0.8zM502 433.8h1.2v36h-1.2zM506.2 433.8h1.5v36h-1.5zM507.7 433.8h0.8v36h-0.8zM510 433.8h2v36h-2zM512 433.8h1.5v36h-1.5zM518.8 433.8h1.5v36h-1.5zM521.8 433.8h2v36h-2zM523.8 433.8h1v36h-1zM524.8 433.8h2v36h-2zM526.8 433.8h1.2v36h-1.2zM531.5 433.8h1.5v36h-1.5zM764 433.8h2.5v36h-2.5zM767.3 433.8h1v36h-1zM771.5 433.8h2v36h-2zM775.3 433.8h2.5v36h-2.5zM777.8 433.8h2.2v36h-2.2zM792 433.8h1v36h-1zM795.7 433.8h2v36h-2zM797.7 433.8h1v36h-1zM801.9 433.8h2v36h-2zM807.7 433.8h1.5v36h-1.5zM811.5 433.8h2v36h-2zM813.5 433.8h1.5v36h-1.5zM820.2 433.8h3v36h-3zM823.2 433.8h1v36h-1zM831.3 433.8h2.5v36h-2.5zM1131.7 433.8h1v36h-1zM1133.7 433.8h1v36h-1zM1150.9 433.8h2.5v36h-2.5zM1158.1 433.8h1.5v36h-1.5zM1159.6 433.8h2v36h-2zM1164.4 433.8h2.5v36h-2.5zM1170.7 433.8h2v36h-2zM1173.7 433.8h2v36h-2zM1179.4 433.8h1.5v36h-1.5zM1183.7 433.8h2v36h-2zM1186.9 433.8h1v36h-1zM1192.7 433.8h1.5v36h-1.5zM1194.2 433.8h1v36h-1zM1197.2 433.8h2.5v36h-2.5zM1199.7 433.8h1v36h-1zM1201.9 433.8h2.5v36h-2.5zM1205.4 433.8h2v36h-2zM1208.4 433.8h1.5v36h-1.5zM1213.1 433.8h1v36h-1zM1214.1 433.8h0.9v36h-0.9zM1215 433.8h1.2v36h-1.2zM1221.9 433.8h1.5v36h-1.5zM1229.4 433.8h1.5v36h-1.5zM1243.9 433.8h2v36h-2zM1250.4 433.8h1.2v36h-1.2zM1254.6 433.8h2.5v36h-2.5zM1259.6 433.8h1.5v36h-1.5zM1262.1 433.8h3v36h-3zM1265.1 433.8h1v36h-1zM1266.1 433.8h2v36h-2zM1271.6 433.8h1.4v36h-1.4z"/>
<path fill="#daa263" d="M422.1 433.8h3v36h-3zM425.1 433.8h1v36h-1zM432.8 433.8h2.5v36h-2.5zM437.3 433.8h1v36h-1zM443 433.8h1.5v36h-1.5zM453.5 433.8h0.8v36h-0.8zM457.3 433.8h3v36h-3zM464.3 433.8h0.8v36h-0.8zM544 433.8h1.5v36h-1.5zM548.5 433.8h0.8v36h-0.8zM551.3 433.8h2v36h-2zM890.8 433.8h1.5v36h-1.5zM894.3 433.8h1.5v36h-1.5zM896.6 433.8h1v36h-1zM901.6 433.8h2.4v36h-2.4zM1135.7 433.8h2v36h-2zM1139.5 433.8h2.5v36h-2.5zM1146 433.8h1v36h-1zM1149.4 433.8h1.5v36h-1.5zM1167.7 433.8h3v36h-3zM1187.9 433.8h1v36h-1zM1189.9 433.8h2v36h-2zM1195.2 433.8h0.8v36h-0.8zM1217.2 433.8h1.2v36h-1.2zM1218.4 433.8h2v36h-2zM1220.4 433.8h1.5v36h-1.5zM1232.4 433.8h2.5v36h-2.5zM1248.9 433.8h1.5v36h-1.5z"/>
<path fill="#b2ae7a" d="M513.5 433.8h1.5v36h-1.5zM516 433.8h2v36h-2zM518 433.8h0.8v36h-0.8zM520.3 433.8h1.5v36h-1.5zM528 433.8h2.5v36h-2.5zM536 433.8h2v36h-2zM1128 433.8h2.5v36h-2.5zM1147.8 433.8h0.8v36h-0.8zM1153.4 433.8h1.5v36h-1.5zM1162.4 433.8h2v36h-2zM1176.9 433.8h2.5v36h-2.5zM1216.2 433.8h1v36h-1zM1227.4 433.8h2v36h-2zM1230.9 433.8h1.5v36h-1.5zM1235.9 433.8h2v36h-2zM1239.4 433.8h2v36h-2zM1245.9 433.8h0.8v36h-0.8zM1268.1 433.8h1v36h-1z"/>
<path fill="#8a7ccc" d="M538 433.8h3v36h-3zM549.3 433.8h2v36h-2zM556.5 433.8h1v36h-1zM562.5 433.8h3v36h-3zM567.5 433.8h1v36h-1zM568.5 433.8h2v36h-2zM571.5 433.8h1v36h-1zM683 433.8h1.2v36h-1.2zM685.7 433.8h3v36h-3zM688.7 433.8h1v36h-1zM689.7 433.8h1v36h-1zM693.2 433.8h0.8v36h-0.8zM696.5 433.8h1v36h-1zM698.3 433.8h2v36h-2zM702.3 433.8h2v36h-2zM708.1 433.8h2v36h-2zM710.1 433.8h1v36h-1zM713.1 433.8h1.5v36h-1.5zM714.6 433.8h1.5v36h-1.5zM716.1 433.8h0.8v36h-0.8zM716.9 433.8h1v36h-1zM717.9 433.8h0.1v36h-0.1zM719.8 433.8h1v36h-1zM722.3 433.8h2v36h-2zM725.3 433.8h1v36h-1zM734.3 433.8h2.5v36h-2.5zM738.8 433.8h2.5v36h-2.5zM743.3 433.8h2v36h-2zM746.5 433.8h1v36h-1zM750.5 433.8h1.2v36h-1.2zM754.5 433.8h0.8v36h-0.8zM756.8 433.8h1v36h-1zM793 433.8h1.2v36h-1.2zM794.2 433.8h1.5v36h-1.5zM803.9 433.8h3v36h-3zM809.2 433.8h1.5v36h-1.5zM816 433.8h3v36h-3zM826.4 433.8h2.5v36h-2.5zM890 433.8h0.8v36h-0.8zM895.8 433.8h0.8v36h-0.8zM897.6 433.8h2.5v36h-2.5z"/>
<path fill="#929292" d="M541 433.8h3v36h-3zM553.3 433.8h1.2v36h-1.2zM560.5 433.8h2v36h-2zM565.5 433.8h2v36h-2zM572.5 433.8h1.5v36h-1.5zM1224.4 433.8h3v36h-3zM1237.9 433.8h1.5v36h-1.5zM1241.4 433.8h1v36h-1zM1242.4 433.8h1.5v36h-1.5zM1247.7 433.8h1.2v36h-1.2zM1251.6 433.8h3v36h-3zM1257.1 433.8h2.5v36h-2.5zM1261.1 433.8h1v36h-1zM1269.1 433.8h1.5v36h-1.5z"/>
<path fill="#c0607e" d="M545.5 433.8h3v36h-3zM554.5 433.8h2v36h-2zM557.5 433.8h3v36h-3zM570.5 433.8h1v36h-1z"/>
<path fill="#b49ad4" d="M574 433.8h1v36h-1zM575.8 433.8h0.8v36h-0.8zM600.4 433.8h1v36h-1zM601.4 433.8h1.2v36h-1.2zM605.1 433.8h0.8v36h-0.8zM605.9 433.8h0.8v36h-0.8zM614.9 433.8h1v36h-1zM627.9 433.8h1.2v36h-1.2zM630.1 433.8h0.8v36h-0.8zM635.6 433.8h0.8v36h-0.8zM653.1 433.8h1v36h-1zM655.6 433.8h1v36h-1zM659.8 433.8h1.2v36h-1.2zM662.8 433.8h1v36h-1zM664.8 433.8h1.2v36h-1.2zM677.5 433.8h1.2v36h-1.2zM835 433.8h5v36h-5zM843 433.8h0.8v36h-0.8zM847 433.8h0.8v36h-0.8zM851.8 433.8h0.8v36h-0.8zM854.6 433.8h0.4v36h-0.4zM913.1 433.8h1.2v36h-1.2zM917.3 433.8h1.2v36h-1.2zM918.5 433.8h0.8v36h-0.8zM919.3 433.8h0.8v36h-0.8zM932.9 433.8h1v36h-1zM934.9 433.8h0.8v36h-0.8zM939.6 433.8h1.2v36h-1.2zM949.8 433.8h0.8v36h-0.8zM953.6 433.8h1v36h-1zM959.4 433.8h0.8v36h-0.8zM967.2 433.8h0.8v36h-0.8zM976.7 433.8h1v36h-1zM979.2 433.8h1.2v36h-1.2zM984.2 433.8h1v36h-1zM991.7 433.8h1.2v36h-1.2zM995.2 433.8h1v36h-1zM1014.2 433.8h1v36h-1zM1020.7 433.8h0.8v36h-0.8zM1024.5 433.8h1v36h-1zM1030 433.8h1.2v36h-1.2zM1038.2 433.8h1.2v36h-1.2zM1041.4 433.8h1.2v36h-1.2zM1044.1 433.8h0.8v36h-0.8zM1048.4 433.8h1v36h-1zM1057.9 433.8h0.8v36h-0.8zM1067.4 433.8h1.2v36h-1.2zM1069.6 433.8h1.2v36h-1.2zM1073.8 433.8h1v36h-1zM1076.6 433.8h1v36h-1zM1081.6 433.8h1.2v36h-1.2zM1086.3 433.8h1.2v36h-1.2zM1093 433.8h0.8v36h-0.8zM1103 433.8h0.8v36h-0.8zM1114.5 433.8h1v36h-1z"/>
<path fill="#9fd4f0" d="M766.5 433.8h0.8v36h-0.8zM768.3 433.8h0.8v36h-0.8zM769.1 433.8h1.2v36h-1.2zM770.3 433.8h1.2v36h-1.2zM773.5 433.8h0.8v36h-0.8zM774.3 433.8h1v36h-1zM791 433.8h1v36h-1zM798.7 433.8h1.2v36h-1.2zM799.9 433.8h0.8v36h-0.8zM800.7 433.8h1.2v36h-1.2zM806.9 433.8h0.8v36h-0.8zM810.7 433.8h0.8v36h-0.8zM815 433.8h1v36h-1zM819 433.8h1.2v36h-1.2zM824.2 433.8h1.2v36h-1.2zM825.4 433.8h1v36h-1zM828.9 433.8h1.2v36h-1.2zM830.1 433.8h1.2v36h-1.2zM833.8 433.8h1.2v36h-1.2zM1130.5 433.8h1.2v36h-1.2zM1132.7 433.8h1v36h-1zM1134.7 433.8h1v36h-1zM1137.7 433.8h0.8v36h-0.8zM1138.5 433.8h1v36h-1zM1142 433.8h0.8v36h-0.8zM1142.8 433.8h1v36h-1zM1143.8 433.8h1v36h-1zM1144.8 433.8h1.2v36h-1.2zM1147 433.8h0.8v36h-0.8zM1148.6 433.8h0.8v36h-0.8zM1154.9 433.8h1.2v36h-1.2zM1156.1 433.8h1v36h-1zM1157.1 433.8h1v36h-1zM1161.6 433.8h0.8v36h-0.8zM1166.9 433.8h0.8v36h-0.8zM1172.7 433.8h1v36h-1zM1175.7 433.8h1.2v36h-1.2zM1180.9 433.8h1v36h-1zM1181.9 433.8h0.8v36h-0.8zM1182.7 433.8h1v36h-1zM1185.7 433.8h1.2v36h-1.2zM1188.9 433.8h1v36h-1zM1191.9 433.8h0.8v36h-0.8zM1196 433.8h1.2v36h-1.2zM1200.7 433.8h1.2v36h-1.2zM1204.4 433.8h1v36h-1zM1207.4 433.8h1v36h-1zM1209.9 433.8h1.2v36h-1.2zM1211.1 433.8h1v36h-1zM1212.1 433.8h1v36h-1zM1223.4 433.8h1v36h-1zM1234.9 433.8h1v36h-1zM1246.7 433.8h1v36h-1zM1270.6 433.8h1v36h-1z"/>
</g>
<rect x="501.9" y="118" width="1.2" height="355.0" fill="#c8c8c8" fill-opacity="0.45"/>
<rect x="887.6" y="118" width="1.2" height="355.0" fill="#c8c8c8" fill-opacity="0.45"/>
<defs><pattern id="hp0" width="2.3" height="20" patternUnits="userSpaceOnUse"><rect width="2.3" height="20" fill="#5aad5a" fill-opacity="0.2"/><rect width="0.9" height="20" fill="#5aad5a" fill-opacity="0.3"/></pattern></defs><path d="M396 509.0L396.0 500.5L403.0 500.5L403.0 501.5L410.0 501.5L410.0 504.0L416.0 504.0L416.0 506.0L425.0 506.0L425.0 507.0L440.0 507.0L440.0 506.5L452.0 506.5L452.0 506.0L458.0 506.0L458.0 504.5L463.0 504.5L463.0 501.5L470.0 501.5L470.0 503.0L474.0 503.0L474.0 505.0L480.0 505.0L480.0 506.0L486.0 506.0L486.0 504.5L492.0 504.5L492.0 506.5L500.0 506.5L500.0 504.5L506.0 504.5L506.0 507.0L516.0 507.0L516.0 504.0L520.0 504.0L520.0 506.5L526.0 506.5L526.0 505.0L530.0 505.0L530.0 507.0L540.0 507.0L540.0 506.5L552.0 506.5L552.0 507.0L556.0 507.0L556.0 506.5L559.0 506.5L559.0 507.0L567.0 507.0L567.0 507.5L577.0 507.5L577.0 505.5L580.0 505.5L580.0 507.0L592.0 507.0L592.0 506.0L604.0 506.0L604.0 507.0L609.0 507.0L609.0 506.5L621.0 506.5L621.0 507.0L625.0 507.0L625.0 507.0L628.0 507.0L628.0 507.0L634.0 507.0L634.0 507.0L646.0 507.0L646.0 507.0L658.0 507.0L658.0 507.0L664.0 507.0L664.0 507.0L676.0 507.0L676.0 507.0L686.0 507.0L686.0 507.5L694.0 507.5L694.0 506.0L706.0 506.0L706.0 507.0L714.0 507.0L714.0 506.0L720.0 506.0L720.0 505.0L732.0 505.0L732.0 505.5L735.0 505.5L735.0 506.5L745.0 506.5L745.0 507.0L751.0 507.0L751.0 504.0L759.0 504.0L759.0 507.0L771.0 507.0L771.0 504.0L779.0 504.0L779.0 506.0L784.0 506.0L784.0 505.5L787.0 505.5L787.0 507.5L799.0 507.5L799.0 507.0L803.0 507.0L803.0 507.0L809.0 507.0L809.0 507.0L815.0 507.0L815.0 507.0L819.0 507.0L819.0 507.0L831.0 507.0L831.0 505.0L835.0 505.0L835.0 506.0L845.0 506.0L845.0 506.0L853.0 506.0L853.0 507.0L858.0 507.0L858.0 506.5L864.0 506.5L864.0 505.5L869.0 505.5L869.0 505.5L872.0 505.5L872.0 503.0L875.0 503.0L875.0 507.0L878.0 507.0L878.0 506.0L890.0 506.0L890.0 506.0L900.0 506.0L900.0 506.0L906.0 506.0L906.0 506.0L918.0 506.0L918.0 507.0L923.0 507.0L923.0 506.5L928.0 506.5L928.0 506.5L940.0 506.5L940.0 505.5L952.0 505.5L952.0 506.0L964.0 506.0L964.0 506.5L970.0 506.5L970.0 506.5L980.0 506.5L980.0 507.0L985.0 507.0L985.0 507.5L990.0 507.5L990.0 507.5L1002.0 507.5L1002.0 507.0L1014.0 507.0L1014.0 507.0L1026.0 507.0L1026.0 506.5L1030.0 506.5L1030.0 506.0L1038.0 506.0L1038.0 506.5L1048.0 506.5L1048.0 503.0L1054.0 503.0L1054.0 507.0L1066.0 507.0L1066.0 507.0L1078.0 507.0L1078.0 507.5L1081.0 507.5L1081.0 507.5L1085.0 507.5L1085.0 506.5L1095.0 506.5L1095.0 507.0L1100.0 507.0L1100.0 507.0L1110.0 507.0L1110.0 506.0L1118.0 506.0L1118.0 507.0L1121.0 507.0L1121.0 506.5L1125.0 506.5L1125.0 507.0L1129.0 507.0L1129.0 506.0L1135.0 506.0L1135.0 506.0L1138.0 506.0L1138.0 499.0L1140.5 499.0L1140.5 505.0L1147.0 505.0L1147.0 507.0L1150.0 507.0L1150.0 506.5L1160.0 506.5L1160.0 506.5L1165.0 506.5L1165.0 507.0L1171.0 507.0L1171.0 507.0L1176.0 507.0L1176.0 507.0L1188.0 507.0L1188.0 507.0L1193.0 507.0L1193.0 505.5L1201.0 505.5L1201.0 507.0L1207.0 507.0L1207.0 505.5L1210.0 505.5L1210.0 506.5L1213.0 506.5L1213.0 507.0L1214.0 507.0L1214.0 500.0L1251.0 500.0L1252.0 506.0L1258.0 506.0L1258.0 507.0L1270.0 507.0L1270.0 506.5L1273.0 506.5L1273 509.0Z" fill="url(#hp0)" stroke="#5aad5a" stroke-width="1" stroke-opacity="0.9"/><rect x="1214.5" y="500.5" width="36" height="8.5" fill="#5aad5a" fill-opacity="0.5"/>
<defs><pattern id="hp1" width="2.3" height="20" patternUnits="userSpaceOnUse"><rect width="2.3" height="20" fill="#5aad80" fill-opacity="0.2"/><rect width="0.9" height="20" fill="#5aad80" fill-opacity="0.3"/></pattern></defs><path d="M396 546.4L396.0 537.9L403.0 537.9L403.0 538.9L410.0 538.9L410.0 541.4L416.0 541.4L416.0 543.4L425.0 543.4L425.0 544.4L440.0 544.4L440.0 543.9L452.0 543.9L452.0 543.4L458.0 543.4L458.0 541.9L463.0 541.9L463.0 538.9L470.0 538.9L470.0 540.4L474.0 540.4L474.0 542.4L480.0 542.4L480.0 543.4L486.0 543.4L486.0 541.9L492.0 541.9L492.0 543.9L500.0 543.9L500.0 541.9L506.0 541.9L506.0 544.4L516.0 544.4L516.0 541.4L520.0 541.4L520.0 543.9L526.0 543.9L526.0 542.4L530.0 542.4L530.0 544.4L540.0 544.4L540.0 544.4L552.0 544.4L552.0 543.9L562.0 543.9L562.0 544.4L565.0 544.4L565.0 544.4L571.0 544.4L571.0 543.4L577.0 543.4L577.0 544.4L580.0 544.4L580.0 543.4L585.0 543.4L585.0 543.4L595.0 543.4L595.0 544.4L599.0 544.4L599.0 543.9L611.0 543.9L611.0 544.4L615.0 544.4L615.0 543.9L621.0 543.9L621.0 543.9L631.0 543.9L631.0 544.4L643.0 544.4L643.0 543.4L653.0 543.4L653.0 544.4L663.0 544.4L663.0 544.9L671.0 544.9L671.0 543.9L681.0 543.9L681.0 544.4L693.0 544.4L693.0 541.4L697.0 541.4L697.0 543.9L702.0 543.9L702.0 544.9L710.0 544.9L710.0 542.4L714.0 542.4L714.0 543.4L720.0 543.4L720.0 543.9L723.0 543.9L723.0 542.9L733.0 542.9L733.0 544.4L739.0 544.4L739.0 544.4L751.0 544.4L751.0 544.4L757.0 544.4L757.0 544.4L760.0 544.4L760.0 543.9L763.0 543.9L763.0 544.4L775.0 544.4L775.0 543.9L787.0 543.9L787.0 544.4L799.0 544.4L799.0 544.4L805.0 544.4L805.0 544.9L815.0 544.9L815.0 541.4L818.0 541.4L818.0 542.4L822.0 542.4L822.0 544.4L828.0 544.4L828.0 544.9L834.0 544.9L834.0 543.9L839.0 543.9L839.0 544.4L843.0 544.4L843.0 542.4L849.0 542.4L849.0 544.4L861.0 544.4L861.0 543.9L871.0 543.9L871.0 543.9L879.0 543.9L879.0 543.9L883.0 543.9L883.0 544.4L893.0 544.4L893.0 543.9L898.0 543.9L898.0 542.9L901.0 542.9L901.0 543.4L906.0 543.4L906.0 543.4L914.0 543.4L914.0 541.4L918.0 541.4L918.0 543.9L930.0 543.9L930.0 544.4L934.0 544.4L934.0 543.4L944.0 543.4L944.0 542.9L954.0 542.9L954.0 542.9L964.0 542.9L964.0 544.4L974.0 544.4L974.0 543.9L977.0 543.9L977.0 543.9L985.0 543.9L985.0 544.9L989.0 544.9L989.0 540.4L995.0 540.4L995.0 544.9L998.0 544.9L998.0 543.9L1006.0 543.9L1006.0 542.9L1016.0 542.9L1016.0 544.4L1024.0 544.4L1024.0 544.9L1032.0 544.9L1032.0 544.4L1037.0 544.4L1037.0 544.9L1042.0 544.9L1042.0 544.4L1054.0 544.4L1054.0 543.9L1062.0 543.9L1062.0 542.9L1067.0 542.9L1067.0 544.4L1079.0 544.4L1079.0 544.4L1087.0 544.4L1087.0 544.9L1092.0 544.9L1092.0 543.9L1097.0 543.9L1097.0 543.4L1105.0 543.4L1105.0 543.9L1110.0 543.9L1110.0 543.4L1122.0 543.4L1122.0 542.9L1128.0 542.9L1128.0 543.9L1136.0 543.9L1136.0 543.4L1138.0 543.4L1138.0 536.4L1140.5 536.4L1140.5 542.4L1146.0 542.4L1146.0 544.4L1149.0 544.4L1149.0 544.4L1152.0 544.4L1152.0 543.9L1162.0 543.9L1162.0 543.9L1167.0 543.9L1167.0 544.4L1172.0 544.4L1172.0 543.9L1180.0 543.9L1180.0 542.9L1185.0 542.9L1185.0 543.9L1188.0 543.9L1188.0 544.4L1198.0 544.4L1198.0 542.9L1208.0 542.9L1208.0 544.9L1216.0 544.9L1214.0 537.4L1251.0 537.4L1252.0 543.4L1262.0 543.4L1262.0 542.9L1268.0 542.9L1268.0 543.9L1272.0 543.9L1272.0 543.9L1273.0 543.9L1273 546.4Z" fill="url(#hp1)" stroke="#5aad80" stroke-width="1" stroke-opacity="0.9"/>
<defs><pattern id="hp2" width="2.3" height="20" patternUnits="userSpaceOnUse"><rect width="2.3" height="20" fill="#4d9db5" fill-opacity="0.2"/><rect width="0.9" height="20" fill="#4d9db5" fill-opacity="0.3"/></pattern></defs><path d="M396 583.7L396.0 575.2L403.0 575.2L403.0 576.2L410.0 576.2L410.0 578.7L416.0 578.7L416.0 580.7L425.0 580.7L425.0 581.7L440.0 581.7L440.0 581.2L452.0 581.2L452.0 580.7L458.0 580.7L458.0 579.2L463.0 579.2L463.0 576.2L470.0 576.2L470.0 577.7L474.0 577.7L474.0 579.7L480.0 579.7L480.0 580.7L486.0 580.7L486.0 579.2L492.0 579.2L492.0 581.2L500.0 581.2L500.0 579.2L506.0 579.2L506.0 581.7L516.0 581.7L516.0 578.7L520.0 578.7L520.0 581.2L526.0 581.2L526.0 579.7L530.0 579.7L530.0 581.7L540.0 581.7L540.0 580.2L544.0 580.2L544.0 581.7L548.0 581.7L548.0 580.2L558.0 580.2L558.0 582.2L563.0 582.2L563.0 580.2L573.0 580.2L573.0 580.7L577.0 580.7L577.0 581.2L587.0 581.2L587.0 580.7L590.0 580.7L590.0 577.7L602.0 577.7L602.0 580.2L607.0 580.2L607.0 580.2L610.0 580.2L610.0 581.7L613.0 581.7L613.0 581.2L618.0 581.2L618.0 581.2L628.0 581.2L628.0 577.7L632.0 577.7L632.0 581.2L642.0 581.2L642.0 581.2L646.0 581.2L646.0 581.2L656.0 581.2L656.0 582.2L668.0 582.2L668.0 581.7L678.0 581.7L678.0 582.2L686.0 582.2L686.0 578.7L698.0 578.7L698.0 577.7L701.0 577.7L701.0 581.7L711.0 581.7L711.0 580.2L717.0 580.2L717.0 581.7L722.0 581.7L722.0 581.7L730.0 581.7L730.0 581.7L740.0 581.7L740.0 582.2L748.0 582.2L748.0 581.7L760.0 581.7L760.0 581.7L763.0 581.7L763.0 580.2L773.0 580.2L773.0 581.7L776.0 581.7L776.0 580.2L781.0 580.2L781.0 581.7L785.0 581.7L785.0 581.2L790.0 581.2L790.0 582.2L793.0 582.2L793.0 582.2L799.0 582.2L799.0 582.2L809.0 582.2L809.0 581.2L819.0 581.2L819.0 581.2L829.0 581.2L829.0 581.2L841.0 581.2L841.0 581.2L849.0 581.2L849.0 581.2L853.0 581.2L853.0 581.7L863.0 581.7L863.0 581.7L875.0 581.7L875.0 580.7L885.0 580.7L885.0 581.2L897.0 581.2L897.0 580.2L901.0 580.2L901.0 581.7L907.0 581.7L907.0 581.7L913.0 581.7L913.0 580.2L923.0 580.2L923.0 581.2L929.0 581.2L929.0 581.7L933.0 581.7L933.0 581.7L938.0 581.7L938.0 580.2L943.0 580.2L943.0 581.2L946.0 581.2L946.0 581.2L949.0 581.2L949.0 581.7L954.0 581.7L954.0 581.7L964.0 581.7L964.0 581.2L968.0 581.2L968.0 580.2L978.0 580.2L978.0 581.2L984.0 581.2L984.0 580.7L987.0 580.7L987.0 581.7L995.0 581.7L995.0 581.2L998.0 581.2L998.0 581.2L1008.0 581.2L1008.0 582.2L1012.0 582.2L1012.0 581.2L1017.0 581.2L1017.0 581.7L1020.0 581.7L1020.0 581.2L1026.0 581.2L1026.0 581.7L1032.0 581.7L1032.0 581.2L1042.0 581.2L1042.0 581.2L1050.0 581.2L1050.0 580.2L1062.0 580.2L1062.0 581.7L1070.0 581.7L1070.0 581.7L1076.0 581.7L1076.0 580.2L1079.0 580.2L1079.0 581.7L1089.0 581.7L1089.0 580.7L1093.0 580.7L1093.0 580.2L1101.0 580.2L1101.0 582.2L1109.0 582.2L1109.0 581.7L1114.0 581.7L1114.0 581.7L1118.0 581.7L1118.0 581.7L1122.0 581.7L1122.0 581.2L1130.0 581.2L1130.0 581.2L1138.0 581.2L1138.0 573.7L1140.5 573.7L1140.5 579.7L1148.0 579.7L1148.0 581.2L1151.0 581.2L1151.0 581.2L1156.0 581.2L1156.0 580.2L1166.0 580.2L1166.0 581.7L1174.0 581.7L1174.0 580.7L1184.0 580.7L1184.0 580.2L1194.0 580.2L1194.0 580.2L1199.0 580.2L1199.0 581.7L1204.0 581.7L1204.0 580.7L1214.0 580.7L1214.0 574.7L1251.0 574.7L1252.0 581.2L1256.0 581.2L1256.0 581.7L1266.0 581.7L1266.0 581.7L1270.0 581.7L1270.0 577.7L1273.0 577.7L1273 583.7Z" fill="url(#hp2)" stroke="#4d9db5" stroke-width="1" stroke-opacity="0.9"/>
<defs><pattern id="hp3" width="2.3" height="20" patternUnits="userSpaceOnUse"><rect width="2.3" height="20" fill="#4a5bab" fill-opacity="0.2"/><rect width="0.9" height="20" fill="#4a5bab" fill-opacity="0.3"/></pattern></defs><path d="M396 621.0L396.0 612.5L403.0 612.5L403.0 613.5L410.0 613.5L410.0 616.0L416.0 616.0L416.0 618.0L425.0 618.0L425.0 619.0L440.0 619.0L440.0 618.5L452.0 618.5L452.0 618.0L458.0 618.0L458.0 616.5L463.0 616.5L463.0 613.5L470.0 613.5L470.0 615.0L474.0 615.0L474.0 617.0L480.0 617.0L480.0 618.0L486.0 618.0L486.0 616.5L492.0 616.5L492.0 618.5L500.0 618.5L500.0 616.5L506.0 616.5L506.0 619.0L516.0 619.0L516.0 616.0L520.0 616.0L520.0 618.5L526.0 618.5L526.0 617.0L530.0 617.0L530.0 619.0L540.0 619.0L540.0 618.0L545.0 618.0L545.0 618.0L555.0 618.0L555.0 618.0L563.0 618.0L563.0 618.0L571.0 618.0L571.0 619.5L579.0 619.5L579.0 619.5L583.0 619.5L583.0 619.0L591.0 619.0L591.0 618.5L595.0 618.5L595.0 619.0L599.0 619.0L599.0 618.5L602.0 618.5L602.0 619.5L605.0 619.5L605.0 618.5L610.0 618.5L610.0 619.5L618.0 619.5L618.0 619.0L628.0 619.0L628.0 618.5L634.0 618.5L634.0 617.5L637.0 617.5L637.0 617.5L642.0 617.5L642.0 619.5L647.0 619.5L647.0 618.0L650.0 618.0L650.0 617.0L660.0 617.0L660.0 618.5L668.0 618.5L668.0 619.5L678.0 619.5L678.0 618.5L681.0 618.5L681.0 619.0L693.0 619.0L693.0 619.0L699.0 619.0L699.0 618.0L705.0 618.0L705.0 619.0L717.0 619.0L717.0 618.0L721.0 618.0L721.0 618.5L729.0 618.5L729.0 617.5L741.0 617.5L741.0 618.5L745.0 618.5L745.0 618.5L751.0 618.5L751.0 618.5L754.0 618.5L754.0 619.5L760.0 619.5L760.0 619.0L770.0 619.0L770.0 618.5L778.0 618.5L778.0 618.5L786.0 618.5L786.0 619.0L794.0 619.0L794.0 619.0L798.0 619.0L798.0 619.0L810.0 619.0L810.0 619.0L822.0 619.0L822.0 619.5L827.0 619.5L827.0 617.5L837.0 617.5L837.0 619.0L849.0 619.0L849.0 619.0L852.0 619.0L852.0 619.5L864.0 619.5L864.0 618.5L869.0 618.5L869.0 619.0L874.0 619.0L874.0 619.0L878.0 619.0L878.0 618.0L884.0 618.0L884.0 619.0L892.0 619.0L892.0 618.0L898.0 618.0L898.0 616.0L901.0 616.0L901.0 619.0L907.0 619.0L907.0 619.0L919.0 619.0L919.0 618.5L924.0 618.5L924.0 618.5L934.0 618.5L934.0 619.0L944.0 619.0L944.0 617.5L954.0 617.5L954.0 619.0L962.0 619.0L962.0 619.5L967.0 619.5L967.0 618.5L979.0 618.5L979.0 617.5L985.0 617.5L985.0 619.0L989.0 619.0L989.0 617.5L994.0 617.5L994.0 618.5L999.0 618.5L999.0 619.0L1011.0 619.0L1011.0 619.0L1015.0 619.0L1015.0 618.5L1025.0 618.5L1025.0 619.0L1037.0 619.0L1037.0 619.5L1049.0 619.5L1049.0 619.5L1055.0 619.5L1055.0 618.0L1059.0 618.0L1059.0 618.5L1064.0 618.5L1064.0 615.0L1067.0 615.0L1067.0 618.0L1070.0 618.0L1070.0 619.0L1078.0 619.0L1078.0 618.5L1086.0 618.5L1086.0 619.0L1090.0 619.0L1090.0 619.0L1100.0 619.0L1100.0 615.0L1105.0 615.0L1105.0 618.0L1108.0 618.0L1108.0 619.0L1112.0 619.0L1112.0 619.0L1124.0 619.0L1124.0 616.0L1134.0 616.0L1134.0 618.0L1138.0 618.0L1138.0 611.0L1140.5 611.0L1140.5 617.0L1142.0 617.0L1142.0 619.0L1147.0 619.0L1147.0 618.5L1151.0 618.5L1151.0 618.0L1159.0 618.0L1159.0 619.0L1165.0 619.0L1165.0 618.5L1170.0 618.5L1170.0 617.5L1174.0 617.5L1174.0 619.5L1180.0 619.5L1180.0 619.0L1188.0 619.0L1188.0 619.0L1192.0 619.0L1192.0 617.5L1202.0 617.5L1202.0 616.0L1205.0 616.0L1205.0 618.5L1215.0 618.5L1214.0 612.0L1251.0 612.0L1252.0 616.0L1256.0 616.0L1256.0 618.5L1261.0 618.5L1261.0 619.0L1265.0 619.0L1265.0 618.0L1271.0 618.0L1271.0 619.0L1273.0 619.0L1273 621.0Z" fill="url(#hp3)" stroke="#4a5bab" stroke-width="1" stroke-opacity="0.9"/>
<defs><pattern id="hp4" width="2.3" height="20" patternUnits="userSpaceOnUse"><rect width="2.3" height="20" fill="#b35a5a" fill-opacity="0.2"/><rect width="0.9" height="20" fill="#b35a5a" fill-opacity="0.3"/></pattern></defs><path d="M396 658.4L396.0 654.9L406.0 654.9L406.0 654.9L412.0 654.9L412.0 655.9L420.0 655.9L420.0 655.4L424.0 655.4L424.0 655.9L432.0 655.9L432.0 655.4L438.0 655.4L438.0 655.4L444.0 655.4L444.0 655.4L450.0 655.4L450.0 655.9L460.0 655.9L460.0 651.9L466.0 651.9L466.0 648.9L471.0 648.9L471.0 654.4L474.0 654.4L474.0 655.4L484.0 655.4L484.0 655.4L490.0 655.4L490.0 655.4L498.0 655.4L498.0 655.4L506.0 655.4L506.0 655.9L514.0 655.9L514.0 654.9L524.0 654.9L524.0 655.4L530.0 655.4L530.0 655.4L536.0 655.4L536.0 655.4L546.0 655.4L546.0 655.4L549.0 655.4L549.0 654.9L552.0 654.9L552.0 655.4L558.0 655.4L558.0 655.4L562.0 655.4L562.0 655.9L570.0 655.9L570.0 655.4L574.0 655.4L574.0 655.4L577.0 655.4L577.0 655.4L587.0 655.4L587.0 655.9L595.0 655.9L595.0 654.9L598.0 654.9L598.0 655.4L608.0 655.4L608.0 655.9L612.0 655.9L612.0 654.9L620.0 654.9L620.0 655.9L624.0 655.9L624.0 655.4L634.0 655.4L634.0 655.4L637.0 655.4L637.0 654.9L643.0 654.9L643.0 655.4L651.0 655.4L651.0 654.9L654.0 654.9L654.0 654.9L657.0 654.9L657.0 655.9L661.0 655.9L661.0 654.9L664.0 654.9L664.0 655.4L668.0 655.4L668.0 655.9L674.0 655.9L674.0 654.9L682.0 654.9L682.0 655.4L692.0 655.4L692.0 655.4L696.0 655.4L696.0 655.4L704.0 655.4L704.0 655.4L712.0 655.4L712.0 655.9L722.0 655.9L722.0 655.9L732.0 655.9L732.0 655.9L736.0 655.9L736.0 655.4L740.0 655.4L740.0 655.4L743.0 655.4L743.0 655.4L753.0 655.4L753.0 654.9L757.0 654.9L757.0 655.9L761.0 655.9L761.0 654.9L765.0 654.9L765.0 655.4L771.0 655.4L771.0 655.4L775.0 655.4L775.0 655.4L779.0 655.4L779.0 655.9L785.0 655.9L785.0 654.9L791.0 654.9L791.0 654.9L797.0 654.9L797.0 654.9L800.0 654.9L800.0 655.9L803.0 655.9L803.0 655.4L807.0 655.4L807.0 655.4L811.0 655.4L811.0 654.9L821.0 654.9L821.0 655.4L825.0 655.4L825.0 654.9L828.0 654.9L828.0 654.9L832.0 654.9L832.0 655.9L840.0 655.9L840.0 655.4L846.0 655.4L846.0 655.9L854.0 655.9L854.0 655.4L858.0 655.4L858.0 654.9L862.0 654.9L862.0 654.9L870.0 654.9L870.0 655.4L878.0 655.4L878.0 655.9L882.0 655.9L882.0 654.9L890.0 654.9L890.0 655.4L896.0 655.4L896.0 655.4L902.0 655.4L902.0 655.4L906.0 655.4L906.0 655.4L912.0 655.4L912.0 655.9L916.0 655.9L916.0 655.9L922.0 655.9L922.0 655.4L926.0 655.4L926.0 654.9L930.0 654.9L930.0 655.4L940.0 655.4L940.0 654.9L950.0 654.9L950.0 655.9L960.0 655.9L960.0 655.4L966.0 655.4L966.0 655.9L970.0 655.9L970.0 655.4L976.0 655.4L976.0 655.4L984.0 655.4L984.0 655.4L987.0 655.4L987.0 655.4L993.0 655.4L993.0 655.4L1001.0 655.4L1001.0 655.9L1009.0 655.9L1009.0 654.9L1012.0 654.9L1012.0 655.4L1018.0 655.4L1018.0 655.9L1021.0 655.9L1021.0 655.9L1031.0 655.9L1031.0 655.9L1037.0 655.9L1037.0 655.4L1040.0 655.4L1040.0 655.4L1046.0 655.4L1046.0 655.4L1052.0 655.4L1052.0 655.4L1062.0 655.4L1062.0 655.9L1070.0 655.9L1070.0 654.9L1076.0 654.9L1076.0 655.9L1079.0 655.9L1079.0 655.4L1082.0 655.4L1082.0 655.4L1085.0 655.4L1085.0 654.9L1093.0 654.9L1093.0 655.4L1096.0 655.4L1096.0 655.4L1106.0 655.4L1106.0 654.9L1114.0 654.9L1114.0 654.9L1120.0 654.9L1120.0 654.9L1128.0 654.9L1128.0 655.4L1132.0 655.4L1132.0 655.4L1135.0 655.4L1135.0 654.9L1138.0 654.9L1138.0 655.4L1148.0 655.4L1148.0 655.4L1152.0 655.4L1152.0 655.4L1155.0 655.4L1155.0 655.4L1158.0 655.4L1158.0 655.4L1168.0 655.4L1168.0 655.9L1174.0 655.9L1174.0 655.9L1182.0 655.9L1182.0 655.4L1190.0 655.4L1190.0 655.9L1196.0 655.9L1196.0 655.4L1204.0 655.4L1204.0 655.9L1208.0 655.9L1208.0 654.9L1211.0 654.9L1211.0 655.9L1219.0 655.9L1219.0 654.9L1225.0 654.9L1225.0 654.9L1231.0 654.9L1231.0 655.4L1241.0 655.4L1241.0 654.9L1244.0 654.9L1244.0 655.4L1252.0 655.4L1252.0 655.4L1255.0 655.4L1255.0 655.4L1265.0 655.4L1265.0 655.9L1271.0 655.9L1271.0 655.4L1273.0 655.4L1273 658.4Z" fill="url(#hp4)" stroke="#b35a5a" stroke-width="1" stroke-opacity="0.9"/>
<defs><pattern id="hp5" width="2.3" height="20" patternUnits="userSpaceOnUse"><rect width="2.3" height="20" fill="#b8844f" fill-opacity="0.2"/><rect width="0.9" height="20" fill="#b8844f" fill-opacity="0.3"/></pattern></defs><path d="M396 695.7L396.0 692.2L400.0 692.2L400.0 692.7L410.0 692.7L410.0 692.7L414.0 692.7L414.0 692.7L420.0 692.7L420.0 692.2L423.0 692.2L423.0 693.2L431.0 693.2L431.0 692.7L435.0 692.7L435.0 692.7L445.0 692.7L445.0 692.2L448.0 692.2L448.0 692.7L451.0 692.7L451.0 692.2L457.0 692.2L457.0 692.2L460.0 692.2L460.0 689.2L466.0 689.2L466.0 686.2L471.0 686.2L471.0 691.7L474.0 691.7L474.0 692.7L478.0 692.7L478.0 693.2L484.0 693.2L484.0 692.7L494.0 692.7L494.0 692.2L504.0 692.2L504.0 692.2L512.0 692.2L512.0 692.2L518.0 692.2L518.0 693.2L524.0 693.2L524.0 692.7L530.0 692.7L530.0 692.7L533.0 692.7L533.0 693.2L539.0 693.2L539.0 693.2L543.0 693.2L543.0 693.2L549.0 693.2L549.0 692.7L552.0 692.7L552.0 692.2L555.0 692.2L555.0 692.2L565.0 692.2L565.0 692.7L568.0 692.7L568.0 692.7L574.0 692.7L574.0 692.2L577.0 692.2L577.0 693.2L585.0 693.2L585.0 692.2L588.0 692.2L588.0 692.2L594.0 692.2L594.0 692.7L597.0 692.7L597.0 692.2L600.0 692.2L600.0 692.2L608.0 692.2L608.0 692.7L616.0 692.7L616.0 693.2L626.0 693.2L626.0 692.2L636.0 692.2L636.0 692.7L642.0 692.7L642.0 693.2L652.0 693.2L652.0 692.2L655.0 692.2L655.0 692.7L663.0 692.7L663.0 692.7L667.0 692.7L667.0 692.2L675.0 692.2L675.0 692.7L685.0 692.7L685.0 692.7L691.0 692.7L691.0 692.7L695.0 692.7L695.0 692.2L701.0 692.2L701.0 692.2L705.0 692.2L705.0 693.2L709.0 693.2L709.0 693.2L713.0 693.2L713.0 692.7L723.0 692.7L723.0 692.7L731.0 692.7L731.0 692.7L735.0 692.7L735.0 692.2L739.0 692.2L739.0 692.2L747.0 692.2L747.0 692.7L753.0 692.7L753.0 693.2L756.0 693.2L756.0 692.7L760.0 692.7L760.0 693.2L766.0 693.2L766.0 692.7L776.0 692.7L776.0 692.7L780.0 692.7L780.0 692.7L783.0 692.7L783.0 692.2L789.0 692.2L789.0 692.2L795.0 692.2L795.0 692.7L803.0 692.7L803.0 693.2L811.0 693.2L811.0 693.2L814.0 693.2L814.0 692.2L818.0 692.2L818.0 693.2L822.0 693.2L822.0 692.7L826.0 692.7L826.0 693.2L829.0 693.2L829.0 692.7L837.0 692.7L837.0 693.2L840.0 693.2L840.0 692.7L844.0 692.7L844.0 692.2L847.0 692.2L847.0 693.2L857.0 693.2L857.0 692.7L865.0 692.7L865.0 692.7L868.0 692.7L868.0 692.2L871.0 692.2L871.0 692.7L877.0 692.7L877.0 692.7L880.0 692.7L880.0 692.7L883.0 692.7L883.0 692.2L893.0 692.2L893.0 693.2L897.0 693.2L897.0 692.7L901.0 692.7L901.0 692.2L907.0 692.2L907.0 692.2L910.0 692.2L910.0 692.7L913.0 692.7L913.0 692.2L921.0 692.2L921.0 693.2L929.0 693.2L929.0 693.2L932.0 693.2L932.0 692.7L938.0 692.7L938.0 692.7L946.0 692.7L946.0 692.7L952.0 692.7L952.0 692.7L955.0 692.7L955.0 692.2L958.0 692.2L958.0 693.2L964.0 693.2L964.0 692.7L970.0 692.7L970.0 692.7L973.0 692.7L973.0 692.7L976.0 692.7L976.0 692.7L984.0 692.7L984.0 693.2L994.0 693.2L994.0 692.7L997.0 692.7L997.0 692.7L1007.0 692.7L1007.0 692.7L1015.0 692.7L1015.0 692.2L1025.0 692.2L1025.0 692.7L1031.0 692.7L1031.0 693.2L1034.0 693.2L1034.0 692.2L1037.0 692.2L1037.0 692.2L1041.0 692.2L1041.0 692.7L1049.0 692.7L1049.0 692.2L1052.0 692.2L1052.0 693.2L1055.0 693.2L1055.0 692.7L1058.0 692.7L1058.0 692.2L1061.0 692.2L1061.0 692.7L1067.0 692.7L1067.0 692.7L1075.0 692.7L1075.0 692.7L1083.0 692.7L1083.0 692.7L1091.0 692.7L1091.0 692.7L1097.0 692.7L1097.0 692.7L1105.0 692.7L1105.0 692.7L1109.0 692.7L1109.0 692.7L1115.0 692.7L1115.0 692.7L1123.0 692.7L1123.0 692.7L1129.0 692.7L1129.0 692.7L1132.0 692.7L1132.0 692.2L1140.0 692.2L1140.0 693.2L1146.0 693.2L1146.0 692.2L1150.0 692.2L1150.0 692.2L1154.0 692.2L1154.0 692.7L1160.0 692.7L1160.0 693.2L1168.0 693.2L1168.0 692.2L1172.0 692.2L1172.0 693.2L1175.0 693.2L1175.0 692.2L1179.0 692.2L1179.0 692.2L1182.0 692.2L1182.0 692.7L1186.0 692.7L1186.0 693.2L1196.0 693.2L1196.0 693.2L1200.0 693.2L1200.0 693.2L1210.0 693.2L1210.0 693.2L1213.0 693.2L1213.0 692.2L1223.0 692.2L1223.0 692.2L1226.0 692.2L1226.0 692.7L1232.0 692.7L1232.0 692.7L1236.0 692.7L1236.0 692.7L1242.0 692.7L1242.0 692.2L1248.0 692.2L1248.0 692.2L1256.0 692.2L1256.0 692.2L1259.0 692.2L1259.0 692.7L1262.0 692.7L1262.0 692.2L1268.0 692.2L1268.0 692.7L1271.0 692.7L1271.0 692.7L1273.0 692.7L1273 695.7Z" fill="url(#hp5)" stroke="#b8844f" stroke-width="1" stroke-opacity="0.9"/>
<defs><pattern id="hp6" width="2.3" height="20" patternUnits="userSpaceOnUse"><rect width="2.3" height="20" fill="#a9b24f" fill-opacity="0.2"/><rect width="0.9" height="20" fill="#a9b24f" fill-opacity="0.3"/></pattern></defs><path d="M396 733.0L396.0 716.0L404.0 716.0L404.0 717.0L412.0 717.0L412.0 723.0L414.0 723.0L414.0 727.0L416.0 727.0L416.0 729.5L419.0 729.5L419.0 731.0L458.0 731.0L458.0 723.0L461.0 723.0L461.0 719.0L464.0 719.0L464.0 716.5L470.0 716.5L470.0 727.0L474.0 727.0L474.0 731.0L488.0 731.0L488.0 731.0L502.0 731.0L502.0 731.0L508.0 731.0L508.0 731.0L515.0 731.0L515.0 725.0L518.0 725.0L516.0 731.0L518.0 731.0L516.0 731.0L530.0 731.0L530.0 731.0L536.0 731.0L536.0 731.0L542.0 731.0L542.0 731.0L550.0 731.0L550.0 731.0L558.0 731.0L558.0 731.0L566.0 731.0L566.0 731.0L576.0 731.0L576.0 731.0L582.0 731.0L582.0 731.0L588.0 731.0L588.0 731.0L602.0 731.0L602.0 731.0L610.0 731.0L610.0 731.0L620.0 731.0L620.0 731.0L630.0 731.0L630.0 731.0L650.0 731.0L650.0 731.0L658.0 731.0L658.0 731.0L672.0 731.0L672.0 731.0L680.0 731.0L680.0 731.0L681.0 731.0L681.0 729.5L685.0 729.5L685.0 731.0L694.0 731.0L694.0 731.0L702.0 731.0L702.0 731.0L708.0 731.0L708.0 731.0L714.0 731.0L714.0 731.0L720.0 731.0L720.0 731.0L734.0 731.0L734.0 731.0L744.0 731.0L744.0 731.0L758.0 731.0L758.0 731.0L778.0 731.0L778.0 731.0L786.0 731.0L786.0 731.0L797.0 731.0L797.0 727.5L800.5 727.5L800.5 731.0L806.0 731.0L806.0 731.0L816.0 731.0L816.0 731.0L830.0 731.0L830.0 731.0L844.0 731.0L844.0 731.0L864.0 731.0L864.0 731.0L874.0 731.0L874.0 731.0L888.0 731.0L888.0 731.0L896.0 731.0L896.0 731.0L904.0 731.0L904.0 731.0L918.0 731.0L918.0 731.0L938.0 731.0L938.0 731.0L958.0 731.0L958.0 731.0L966.0 731.0L966.0 731.0L986.0 731.0L986.0 731.0L994.0 731.0L994.0 731.0L1000.0 731.0L1000.0 731.0L1010.0 731.0L1010.0 731.0L1024.0 731.0L1024.0 731.0L1032.0 731.0L1032.0 731.0L1046.0 731.0L1046.0 731.0L1066.0 731.0L1066.0 731.0L1072.0 731.0L1072.0 731.0L1078.0 731.0L1078.0 731.0L1092.0 731.0L1092.0 731.0L1112.0 731.0L1112.0 731.0L1132.0 731.0L1132.0 731.0L1139.0 731.0L1139.0 729.8L1146.0 729.8L1146.0 731.0L1154.0 731.0L1154.0 731.0L1162.0 731.0L1162.0 731.0L1172.0 731.0L1172.0 731.0L1182.0 731.0L1182.0 731.0L1188.0 731.0L1188.0 731.0L1198.0 731.0L1198.0 731.0L1204.0 731.0L1204.0 731.0L1212.0 731.0L1212.0 731.0L1218.0 731.0L1218.0 731.0L1238.0 731.0L1238.0 731.0L1252.0 731.0L1252.0 731.0L1272.0 731.0L1272.0 731.0L1273.0 731.0L1273 733.0Z" fill="url(#hp6)" stroke="#a9b24f" stroke-width="1" stroke-opacity="0.9"/><rect x="396" y="723.0" width="9" height="10" fill="#a9b24f" fill-opacity="0.45"/><rect x="458" y="718.0" width="12" height="15" fill="#a9b24f" fill-opacity="0.35"/>
<defs><pattern id="hp7" width="2.3" height="20" patternUnits="userSpaceOnUse"><rect width="2.3" height="20" fill="#93c26c" fill-opacity="0.2"/><rect width="0.9" height="20" fill="#93c26c" fill-opacity="0.3"/></pattern></defs><path d="M396 770.3L396.0 753.3L404.0 753.3L404.0 754.3L412.0 754.3L412.0 760.3L414.0 760.3L414.0 764.3L416.0 764.3L416.0 766.8L419.0 766.8L419.0 768.3L458.0 768.3L458.0 760.3L461.0 760.3L461.0 756.3L464.0 756.3L464.0 753.8L470.0 753.8L470.0 764.3L474.0 764.3L474.0 768.3L484.0 768.3L484.0 768.3L490.0 768.3L490.0 768.3L504.0 768.3L504.0 768.3L510.0 768.3L510.0 768.3L515.0 768.3L515.0 763.3L518.0 763.3L518.0 768.3L530.0 768.3L530.0 768.3L540.0 768.3L540.0 768.3L548.0 768.3L548.0 768.3L562.0 768.3L562.0 768.3L576.0 768.3L576.0 768.3L596.0 768.3L596.0 768.3L606.0 768.3L606.0 768.3L626.0 768.3L626.0 768.3L634.0 768.3L634.0 768.3L654.0 768.3L654.0 768.3L664.0 768.3L664.0 768.3L681.0 768.3L681.0 766.8L684.0 766.8L684.0 766.8L685.0 766.8L685.0 768.3L698.0 768.3L698.0 768.3L712.0 768.3L712.0 768.3L722.0 768.3L722.0 768.3L742.0 768.3L742.0 768.3L750.0 768.3L750.0 768.3L758.0 768.3L758.0 768.3L772.0 768.3L772.0 768.3L778.0 768.3L778.0 768.3L797.0 768.3L797.0 764.8L798.0 764.8L798.0 764.8L800.5 764.8L800.5 768.3L804.0 768.3L804.0 768.3L812.0 768.3L812.0 768.3L818.0 768.3L818.0 768.3L832.0 768.3L832.0 768.3L852.0 768.3L852.0 768.3L862.0 768.3L862.0 768.3L882.0 768.3L882.0 768.3L888.0 768.3L888.0 768.3L894.0 768.3L894.0 768.3L902.0 768.3L902.0 768.3L910.0 768.3L910.0 768.3L924.0 768.3L924.0 768.3L932.0 768.3L932.0 768.3L942.0 768.3L942.0 768.3L948.0 768.3L948.0 768.3L958.0 768.3L958.0 768.3L964.0 768.3L964.0 768.3L970.0 768.3L970.0 768.3L990.0 768.3L990.0 768.3L996.0 768.3L996.0 768.3L1010.0 768.3L1010.0 768.3L1030.0 768.3L1030.0 768.3L1036.0 768.3L1036.0 768.3L1044.0 768.3L1044.0 768.3L1058.0 768.3L1058.0 768.3L1064.0 768.3L1064.0 768.3L1084.0 768.3L1084.0 768.3L1092.0 768.3L1092.0 768.3L1112.0 768.3L1112.0 768.3L1132.0 768.3L1132.0 768.3L1139.0 768.3L1139.0 767.1L1146.0 767.1L1146.0 768.3L1152.0 768.3L1152.0 768.3L1160.0 768.3L1160.0 768.3L1168.0 768.3L1168.0 768.3L1178.0 768.3L1178.0 768.3L1186.0 768.3L1186.0 768.3L1196.0 768.3L1196.0 768.3L1206.0 768.3L1206.0 768.3L1226.0 768.3L1226.0 768.3L1236.0 768.3L1236.0 768.3L1244.0 768.3L1244.0 768.3L1258.0 768.3L1258.0 768.3L1272.0 768.3L1272.0 768.3L1273.0 768.3L1273 770.3Z" fill="url(#hp7)" stroke="#93c26c" stroke-width="1" stroke-opacity="0.9"/>
<rect x="394" y="114.5" width="1.5" height="836.1" fill="#d3d8e2"/>
<rect x="395" y="114.5" width="878" height="4.3" fill="#d8d9dc"/>
</svg>
<div class="a" style="left:25px;top:114.5px;width:369px;height:24px;background:linear-gradient(#d6d7da,rgba(255,255,255,0))"></div>
<div class="a" style="left:393px;top:31px;width:2.6px;height:83.5px;background:#9a9a9a"></div>
<div class="a" style="left:501.7px;top:31px;width:1.6px;height:83.5px;background:#8c8c8c"></div>
<div class="a" style="left:887.4px;top:31px;width:1.6px;height:83.5px;background:#8c8c8c"></div>
<div class="t hd" style="left:31.0px;top:31.2px;">00:01:48</div>
<div class="t hd" style="left:112.5px;top:31.6px;">+</div>
<div class="t hd" style="left:31.0px;top:46.4px;transform:scaleX(0.960);">441 907 767</div>
<div class="t hd" style="left:509.5px;top:31.2px;">00:00:04</div>
<div class="t hd" style="left:509.5px;top:46.4px;transform:scaleX(0.960);">000 000 000</div>
<div class="t hd" style="left:895.3px;top:31.2px;">00:00:06</div>
<div class="t hd" style="left:895.3px;top:46.4px;transform:scaleX(0.960);">000 000 000</div>
<svg class="a" style="left:0;top:0" width="120" height="115" viewBox="0 0 120 115">
<polyline points="34.6,88 39.8,82.3 45,88" fill="none" stroke="#1e1e1e" stroke-width="2.6"/>
<polyline points="34.6,99.3 39.8,105 45,99.3" fill="none" stroke="#1e1e1e" stroke-width="2.6"/>
<rect x="71.6" y="86.2" width="20.6" height="2.8" fill="#1e1e1e"/>
<rect x="68.5" y="92.2" width="20.6" height="2.8" fill="#1e1e1e"/>
<rect x="65.5" y="98.2" width="20.6" height="2.8" fill="#1e1e1e"/>
</svg>
<svg class="a" style="left:460px;top:75px" width="40" height="40" viewBox="460 75 40 40">
<path fill="#8787c9" fill-rule="evenodd" stroke="#8787c9" stroke-width="0.6" stroke-linejoin="round" d="M469.4 80.8H484.6L486.1 83.8H493.7V100.1H482.1L480.6 97.3H474.3V106.4H469.4Z M474.3 85.8H481L482.5 88.6H488.8V95.2H485.6L484.1 92.4H474.3Z"/>
</svg>
<div class="t tn" style="left:37.6px;top:123.3px;transform:scaleX(0.800);">Cpu 0</div>
<div class="t tn" style="left:37.6px;top:168.3px;transform:scaleX(0.800);">Cpu 1</div>
<div class="t tn" style="left:37.6px;top:213.3px;transform:scaleX(0.800);">Cpu 2</div>
<div class="t tn" style="left:37.6px;top:258.3px;transform:scaleX(0.800);">Cpu 3</div>
<div class="t tn" style="left:37.6px;top:303.3px;transform:scaleX(0.800);">Cpu 4</div>
<div class="t tn" style="left:37.6px;top:348.3px;transform:scaleX(0.800);">Cpu 5</div>
<div class="t tn" style="left:37.6px;top:393.3px;transform:scaleX(0.800);">Cpu 6</div>
<div class="t tn" style="left:37.6px;top:438.3px;transform:scaleX(0.800);">Cpu 7</div>
<div class="t tn" style="left:37.6px;top:480.0px;transform:scaleX(0.852);">Cpu 0 Frequency</div>
<div class="t gh" style="left:401.8px;top:483.0px;transform:scaleX(0.950);">5 GHz</div>
<div class="t tn" style="left:37.6px;top:517.3px;transform:scaleX(0.852);">Cpu 1 Frequency</div>
<div class="t gh" style="left:401.8px;top:520.3px;transform:scaleX(0.950);">5 GHz</div>
<div class="t tn" style="left:37.6px;top:554.7px;transform:scaleX(0.852);">Cpu 2 Frequency</div>
<div class="t gh" style="left:401.8px;top:557.7px;transform:scaleX(0.950);">5 GHz</div>
<div class="t tn" style="left:37.6px;top:592.0px;transform:scaleX(0.852);">Cpu 3 Frequency</div>
<div class="t gh" style="left:401.8px;top:595.0px;transform:scaleX(0.950);">5 GHz</div>
<div class="t tn" style="left:37.6px;top:629.3px;transform:scaleX(0.852);">Cpu 4 Frequency</div>
<div class="t gh" style="left:401.8px;top:632.3px;transform:scaleX(0.950);">5 GHz</div>
<div class="t tn" style="left:37.6px;top:666.6px;transform:scaleX(0.852);">Cpu 5 Frequency</div>
<div class="t gh" style="left:401.8px;top:669.6px;transform:scaleX(0.950);">5 GHz</div>
<div class="t tn" style="left:37.6px;top:704.0px;transform:scaleX(0.852);">Cpu 6 Frequency</div>
<div class="t gh" style="left:401.8px;top:707.0px;transform:scaleX(0.950);">5 GHz</div>
<div class="t tn" style="left:37.6px;top:741.3px;transform:scaleX(0.852);">Cpu 7 Frequency</div>
<div class="t gh" style="left:401.8px;top:744.3px;transform:scaleX(0.950);">5 GHz</div>
<svg class="a" style="left:44px;top:794.0px" width="22" height="14" viewBox="0 0 22 14"><polyline points="3.5,2.8 11,10.2 18.5,2.8" fill="none" stroke="#1e1e1e" stroke-width="3"/></svg>
<div class="t gn" style="left:79.2px;top:789.4px;transform:scaleX(0.890);">Wattson</div>
<svg class="a" style="left:44px;top:853.7px" width="22" height="14" viewBox="0 0 22 14"><polyline points="3.5,2.8 11,10.2 18.5,2.8" fill="none" stroke="#1e1e1e" stroke-width="3"/></svg>
<div class="t gn" style="left:79.2px;top:850.2px;transform:scaleX(0.854);">Ftrace Events</div>
<svg class="a" style="left:44px;top:913.4px" width="22" height="14" viewBox="0 0 22 14"><polyline points="3.5,2.8 11,10.2 18.5,2.8" fill="none" stroke="#1e1e1e" stroke-width="3"/></svg>
<div class="t gn" style="left:79.2px;top:909.9px;transform:scaleX(0.860);">Kernel wakelocks</div>
<div class="a" style="left:470px;top:114.5px;width:4px;height:836.1px;background:linear-gradient(to right,rgba(0,0,128,.55) 25%,#000080 25%,#000080 75%,rgba(0,0,128,.55) 75%)"></div>
<div class="a" style="left:25.3px;top:772.7px;width:249.5px;height:57.1px;border:4.2px solid #e9502d;box-shadow:inset 0 0 3px rgba(0,0,0,0.22)"></div>
</body></html>
